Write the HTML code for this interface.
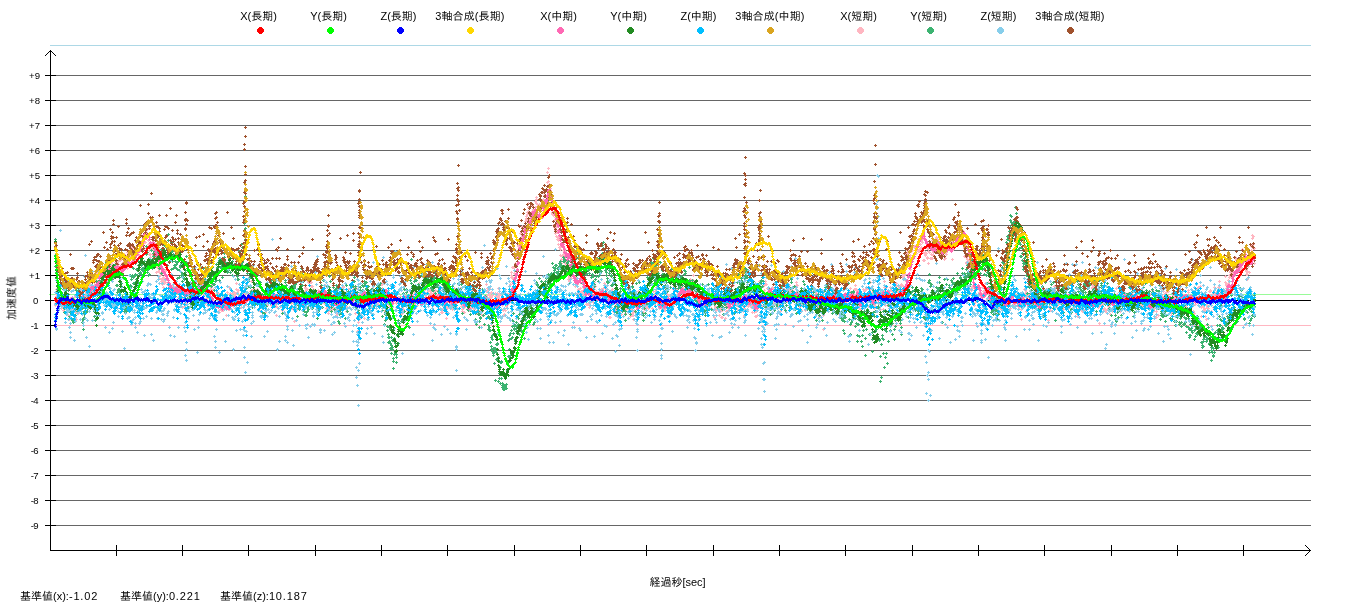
<!DOCTYPE html>
<html lang="ja"><head><meta charset="utf-8"><title>加速度値</title>
<style>
html,body{margin:0;padding:0;background:#fff}
svg{display:block}
text{font-family:"Liberation Sans","IPAGothic","Noto Sans CJK JP",sans-serif;fill:#000}
.lg{font-size:11px;text-anchor:middle}
.yt{font-size:9.6px;text-anchor:end}
.ax{font-size:11px;text-anchor:middle}
.bt{font-size:11px}
.nm{letter-spacing:.85px}
.g line{stroke:#666;stroke-width:1;shape-rendering:crispEdges}
.a line,.a polyline{stroke:#000;stroke-width:1;fill:none;shape-rendering:crispEdges}
.d path{fill:none;stroke:none}
</style></head><body>
<svg width="1350" height="610" viewBox="0 0 1350 610">
<rect width="1350" height="610" fill="#fff"/>
<defs>
<marker id="mxs" markerUnits="userSpaceOnUse" markerWidth="3" markerHeight="3" refX="1.5" refY="1.5" viewBox="0 0 3 3"><path d="M1,0h1v1h1v1h-1v1h-1v-1h-1v-1h1z" fill="#FFB6C1" shape-rendering="crispEdges"/></marker>
<marker id="mys" markerUnits="userSpaceOnUse" markerWidth="3" markerHeight="3" refX="1.5" refY="1.5" viewBox="0 0 3 3"><path d="M1,0h1v1h1v1h-1v1h-1v-1h-1v-1h1z" fill="#3CB371" shape-rendering="crispEdges"/></marker>
<marker id="mzs" markerUnits="userSpaceOnUse" markerWidth="3" markerHeight="3" refX="1.5" refY="1.5" viewBox="0 0 3 3"><path d="M1,0h1v1h1v1h-1v1h-1v-1h-1v-1h1z" fill="#87CEEB" shape-rendering="crispEdges"/></marker>
<marker id="mms" markerUnits="userSpaceOnUse" markerWidth="3" markerHeight="3" refX="1.5" refY="1.5" viewBox="0 0 3 3"><path d="M1,0h1v1h1v1h-1v1h-1v-1h-1v-1h1z" fill="#A0522D" shape-rendering="crispEdges"/></marker>
<marker id="mxm" markerUnits="userSpaceOnUse" markerWidth="3" markerHeight="3" refX="1.5" refY="1.5" viewBox="0 0 3 3"><path d="M1,0h1v1h1v1h-1v1h-1v-1h-1v-1h1z" fill="#FF69B4" shape-rendering="crispEdges"/></marker>
<marker id="mym" markerUnits="userSpaceOnUse" markerWidth="3" markerHeight="3" refX="1.5" refY="1.5" viewBox="0 0 3 3"><path d="M1,0h1v1h1v1h-1v1h-1v-1h-1v-1h1z" fill="#228B22" shape-rendering="crispEdges"/></marker>
<marker id="mzm" markerUnits="userSpaceOnUse" markerWidth="3" markerHeight="3" refX="1.5" refY="1.5" viewBox="0 0 3 3"><path d="M1,0h1v1h1v1h-1v1h-1v-1h-1v-1h1z" fill="#00BFFF" shape-rendering="crispEdges"/></marker>
<marker id="mmm" markerUnits="userSpaceOnUse" markerWidth="3" markerHeight="3" refX="1.5" refY="1.5" viewBox="0 0 3 3"><path d="M1,0h1v1h1v1h-1v1h-1v-1h-1v-1h1z" fill="#DAA520" shape-rendering="crispEdges"/></marker>
<marker id="mxl" markerUnits="userSpaceOnUse" markerWidth="3" markerHeight="3" refX="1.5" refY="1.5" viewBox="0 0 3 3"><path d="M1,0h1v1h1v1h-1v1h-1v-1h-1v-1h1z" fill="#FF0000" shape-rendering="crispEdges"/></marker>
<marker id="myl" markerUnits="userSpaceOnUse" markerWidth="3" markerHeight="3" refX="1.5" refY="1.5" viewBox="0 0 3 3"><path d="M1,0h1v1h1v1h-1v1h-1v-1h-1v-1h1z" fill="#00FF00" shape-rendering="crispEdges"/></marker>
<marker id="mzl" markerUnits="userSpaceOnUse" markerWidth="3" markerHeight="3" refX="1.5" refY="1.5" viewBox="0 0 3 3"><path d="M1,0h1v1h1v1h-1v1h-1v-1h-1v-1h1z" fill="#0000FF" shape-rendering="crispEdges"/></marker>
<marker id="mml" markerUnits="userSpaceOnUse" markerWidth="3" markerHeight="3" refX="1.5" refY="1.5" viewBox="0 0 3 3"><path d="M1,0h1v1h1v1h-1v1h-1v-1h-1v-1h1z" fill="#FFD700" shape-rendering="crispEdges"/></marker>
</defs>
<path d="M259,27h3v1h1v1h1v3h-1v1h-1v1h-3v-1h-1v-1h-1v-3h1v-1h1z" fill="#FF0000" shape-rendering="crispEdges"/>
<path d="M329,27h3v1h1v1h1v3h-1v1h-1v1h-3v-1h-1v-1h-1v-3h1v-1h1z" fill="#00FF00" shape-rendering="crispEdges"/>
<path d="M399,27h3v1h1v1h1v3h-1v1h-1v1h-3v-1h-1v-1h-1v-3h1v-1h1z" fill="#0000FF" shape-rendering="crispEdges"/>
<path d="M469,27h3v1h1v1h1v3h-1v1h-1v1h-3v-1h-1v-1h-1v-3h1v-1h1z" fill="#FFD700" shape-rendering="crispEdges"/>
<path d="M559,27h3v1h1v1h1v3h-1v1h-1v1h-3v-1h-1v-1h-1v-3h1v-1h1z" fill="#FF69B4" shape-rendering="crispEdges"/>
<path d="M629,27h3v1h1v1h1v3h-1v1h-1v1h-3v-1h-1v-1h-1v-3h1v-1h1z" fill="#228B22" shape-rendering="crispEdges"/>
<path d="M699,27h3v1h1v1h1v3h-1v1h-1v1h-3v-1h-1v-1h-1v-3h1v-1h1z" fill="#00BFFF" shape-rendering="crispEdges"/>
<path d="M769,27h3v1h1v1h1v3h-1v1h-1v1h-3v-1h-1v-1h-1v-3h1v-1h1z" fill="#DAA520" shape-rendering="crispEdges"/>
<path d="M859,27h3v1h1v1h1v3h-1v1h-1v1h-3v-1h-1v-1h-1v-3h1v-1h1z" fill="#FFB6C1" shape-rendering="crispEdges"/>
<path d="M929,27h3v1h1v1h1v3h-1v1h-1v1h-3v-1h-1v-1h-1v-3h1v-1h1z" fill="#3CB371" shape-rendering="crispEdges"/>
<path d="M999,27h3v1h1v1h1v3h-1v1h-1v1h-3v-1h-1v-1h-1v-3h1v-1h1z" fill="#87CEEB" shape-rendering="crispEdges"/>
<path d="M1069,27h3v1h1v1h1v3h-1v1h-1v1h-3v-1h-1v-1h-1v-3h1v-1h1z" fill="#A0522D" shape-rendering="crispEdges"/>
<g class="g"><line x1="56" y1="525.5" x2="1311" y2="525.5"/><line x1="56" y1="500.5" x2="1311" y2="500.5"/><line x1="56" y1="475.5" x2="1311" y2="475.5"/><line x1="56" y1="450.5" x2="1311" y2="450.5"/><line x1="56" y1="425.5" x2="1311" y2="425.5"/><line x1="56" y1="400.5" x2="1311" y2="400.5"/><line x1="56" y1="375.5" x2="1311" y2="375.5"/><line x1="56" y1="350.5" x2="1311" y2="350.5"/><line x1="56" y1="325.5" x2="1311" y2="325.5"/><line x1="50" y1="300.5" x2="1311" y2="300.5" style="stroke:#000"/><line x1="56" y1="275.5" x2="1311" y2="275.5"/><line x1="56" y1="250.5" x2="1311" y2="250.5"/><line x1="56" y1="225.5" x2="1311" y2="225.5"/><line x1="56" y1="200.5" x2="1311" y2="200.5"/><line x1="56" y1="175.5" x2="1311" y2="175.5"/><line x1="56" y1="150.5" x2="1311" y2="150.5"/><line x1="56" y1="125.5" x2="1311" y2="125.5"/><line x1="56" y1="100.5" x2="1311" y2="100.5"/><line x1="56" y1="75.5" x2="1311" y2="75.5"/></g>
<g shape-rendering="crispEdges"><line x1="50" y1="45.5" x2="1311" y2="45.5" stroke="#ADD8E6"/><line x1="49" y1="294.5" x2="1311" y2="294.5" stroke="#98FB98"/><line x1="49" y1="325.5" x2="1311" y2="325.5" stroke="#FFB6C1"/></g>
<g class="a"><line x1="50.5" y1="50" x2="50.5" y2="551"/><rect x="49" y="51" width="1" height="1"/><rect x="51" y="51" width="1" height="1"/><rect x="48" y="52" width="1" height="1"/><rect x="52" y="52" width="1" height="1"/><rect x="47" y="53" width="1" height="1"/><rect x="53" y="53" width="1" height="1"/><rect x="46" y="54" width="1" height="1"/><rect x="54" y="54" width="1" height="1"/><rect x="45" y="55" width="1" height="1"/><rect x="55" y="55" width="1" height="1"/><line x1="50" y1="550.5" x2="1311" y2="550.5"/><rect x="1309" y="549" width="1" height="1"/><rect x="1309" y="551" width="1" height="1"/><rect x="1308" y="548" width="1" height="1"/><rect x="1308" y="552" width="1" height="1"/><rect x="1307" y="547" width="1" height="1"/><rect x="1307" y="553" width="1" height="1"/><rect x="1306" y="546" width="1" height="1"/><rect x="1306" y="554" width="1" height="1"/><rect x="1305" y="545" width="1" height="1"/><rect x="1305" y="555" width="1" height="1"/><line x1="45" y1="525.5" x2="56" y2="525.5"/><line x1="45" y1="500.5" x2="56" y2="500.5"/><line x1="45" y1="475.5" x2="56" y2="475.5"/><line x1="45" y1="450.5" x2="56" y2="450.5"/><line x1="45" y1="425.5" x2="56" y2="425.5"/><line x1="45" y1="400.5" x2="56" y2="400.5"/><line x1="45" y1="375.5" x2="56" y2="375.5"/><line x1="45" y1="350.5" x2="56" y2="350.5"/><line x1="45" y1="325.5" x2="56" y2="325.5"/><line x1="45" y1="300.5" x2="56" y2="300.5"/><line x1="45" y1="275.5" x2="56" y2="275.5"/><line x1="45" y1="250.5" x2="56" y2="250.5"/><line x1="45" y1="225.5" x2="56" y2="225.5"/><line x1="45" y1="200.5" x2="56" y2="200.5"/><line x1="45" y1="175.5" x2="56" y2="175.5"/><line x1="45" y1="150.5" x2="56" y2="150.5"/><line x1="45" y1="125.5" x2="56" y2="125.5"/><line x1="45" y1="100.5" x2="56" y2="100.5"/><line x1="45" y1="75.5" x2="56" y2="75.5"/><line x1="116.5" y1="545" x2="116.5" y2="556"/><line x1="182.5" y1="545" x2="182.5" y2="556"/><line x1="248.5" y1="545" x2="248.5" y2="556"/><line x1="315.5" y1="545" x2="315.5" y2="556"/><line x1="381.5" y1="545" x2="381.5" y2="556"/><line x1="447.5" y1="545" x2="447.5" y2="556"/><line x1="514.5" y1="545" x2="514.5" y2="556"/><line x1="580.5" y1="545" x2="580.5" y2="556"/><line x1="646.5" y1="545" x2="646.5" y2="556"/><line x1="713.5" y1="545" x2="713.5" y2="556"/><line x1="779.5" y1="545" x2="779.5" y2="556"/><line x1="845.5" y1="545" x2="845.5" y2="556"/><line x1="912.5" y1="545" x2="912.5" y2="556"/><line x1="978.5" y1="545" x2="978.5" y2="556"/><line x1="1044.5" y1="545" x2="1044.5" y2="556"/><line x1="1111.5" y1="545" x2="1111.5" y2="556"/><line x1="1177.5" y1="545" x2="1177.5" y2="556"/><line x1="1243.5" y1="545" x2="1243.5" y2="556"/></g>
<g class="d" transform="translate(0.5,0.5)">
<path marker-start="url(#mxs)" marker-mid="url(#mxs)" marker-end="url(#mxs)" d="M55 303l0 2 1-11 0-5 0 7 1 9 0-2 1 1 0 2 1-8 0 4 0-3 1 2 0-4 0 5 1-2 0-8 0 16 1-1 0-11 0 4 1 8 0 2 0-12 1 8 0-9 0 3 1-1 0 1 0 3 1 2 0-10 1 4 0-1 0 9 1 0 0 8 0-6 1 1 0 9 1-4 0-10 0-7 1 5 0-2 1 2 0-5 0 11 1-8 0 3 0 6 1-8 0-3 0-2 1 15 0-2 0-4 1 13 0-12 0-5 1-8 0 9 0 9 1-9 0-3 0 13 1-13 0-9 0 5 1 2 0 4 1-14 0 9 0-6 1-4 0 2 1 0 0 12 1-2 0-4 0-7 1 13 0-11 0 1 1 5 0-3 0 4 1-11 0-5 0 11 1-2 0-4 0-1 1 8 0-7 0 4 1-8 0 3 0 11 1-6 0-4 1 11 0 3 0-6 1-2 0-1 0 5 1-14 0-1 0 4 1-10 0 1 0 3 1-6 0 4 0-5 1 9 0-6 0 8 1-9 0-3 0-2 1 11 0 4 0-12 1 0 0 9 1-5 0-5 0 9 1 1 0-4 1-4 0 2 0-1 1-6 0 6 0-1 1-9 0 9 1-1 0 1 0-8 1 16 0-10 0 2 1 5 0-7 0-3 1-5 0 3 0 5 1-12 0 7 0-4 1 2 0-1 0-1 1 8 0-12 1 2 0 5 0 13 1-6 0-3 1-4 0-3 1 8 0 2 0-3 1-7 0-1 0 7 1-4 0-3 1 8 0 6 0-8 1 0 0 4 0-11 1-2 0 7 0 9 1-11 0 14 0-8 1-5 0 5 0-7 1 1 0-4 0-5 1 2 0 3 1 1 0-4 0 7 1-3 0 8 0-16 1 7 0-1 1 8 0-6 0 3 1-4 0-5 0 3 1-1 0-8 0-1 1-1 0 2 0-4 1 7 0 5 1 1 0-6 0 2 1 7 0-12 0 3 1-4 0 2 1 5 0-5 0 3 1-1 0-1 0 2 1 4 0-1 0-13 1 7 0-14 0-1 1 7 0 2 1 2 0-2 0 7 1-10 0 3 0-1 1-6 0 2 0 10 1-6 0-10 1 5 0-2 0-3 1-3 0 8 1-1 0 8 0-4 1 8 0 6 0-4 1 7 0-11 0 8 1-6 0-2 0 3 1-2 0-5 0 12 1-8 0-9 0 12 1-3 0 3 0-6 1-5 0 20 0 1 1-4 0-3 0 20 1-7 0 1 0 1 1-6 0 10 0-4 1 11 0-9 0 3 1-11 0 6 0 8 1-1 0 5 0 2 1-2 0-1 0 6 1 3 0-10 0 3 1 2 0-4 0 5 1-3 0-10 0 12 1-12 0 6 0 2 1 6 0-5 1 12 0-3 0 2 1-4 0 3 0 1 1 5 0-8 0 4 1 0 0 6 0-11 1 3 0 4 0-8 1 5 0-6 0 8 1-10 0 5 0 9 1-9 0 15 0-12 1-7 0 7 0-2 1-1 0 3 0-2 1 12 0-3 0-4 1-2 0 8 0 1 1 3 0-4 0-1 1 5 0-1 0-6 1 11 0-8 0 4 1-14 0 5 1 12 0-3 0-5 1-5 0-1 0-1 1 1 0 10 0-1 1 1 0-10 1 1 0 3 1-3 0-10 0 6 1 6 0-3 0 7 1-16 0 10 0-7 1 8 0-9 1 4 0 6 0-13 1 9 0 1 1-4 0-5 0 2 1-3 0 8 0-4 1 3 0-4 0 1 1 0 0-4 0-2 1-1 0 8 0-7 1 6 0-4 0 3 1 7 0 2 0-6 1 3 0-1 1-6 0 4 0 4 1 2 0 1 0-3 1 11 0-4 1-5 0 7 0-3 1 0 0 7 1-8 0-6 0 18 1-9 0 2 0-6 1 3 0-7 0-3 1-2 0 11 0-8 1-6 0 1 0 11 1 4 0-11 0 14 1 0 0-1 0 5 1 4 0-8 0 1 1-1 0-5 1-5 0 9 1-8 0 8 0-9 1 17 0-5 0 7 1-15 0 5 0 1 1 5 0 1 0 1 1 0 0-5 0 1 1-9 0 13 0-3 1-2 0-6 0 5 1 4 0-6 0 1 1 12 0-15 0 4 1 1 0-1 0-12 1 13 0 4 1 0 0-15 0-7 1 6 0 1 0-5 1 12 0-3 0-3 1 2 0-4 0 9 1 4 0-10 0 4 1-8 0 3 0 10 1-11 0 5 0 9 1-25 0 6 0 9 1 1 0-7 1-2 0 13 0 6 1-7 0-7 0 1 1 4 0 1 0-6 1-2 0-4 0 18 1-4 0-5 1 1 0-5 0 8 1 8 0-18 0 10 1 2 0-8 0 1 1 7 0-11 0 7 1-4 0 2 0-4 1 0 0 5 0-2 1-11 0 10 0 2 1-7 0 4 0-1 1-4 0-9 0 10 1 9 0 3 1-7 0-7 0 9 1 7 0-16 0 7 1 3 0-9 0 4 1-1 0 3 0 4 1-3 0-8 0 6 1 0 0 8 0-23 1 15 0-3 0-7 1 12 0 14 0-12 1 12 0-5 0-3 1-7 0-1 1 9 0-1 0-5 1 0 0 4 0-2 1 6 0-2 0 8 1-8 0 5 0-11 1 7 0-1 0-3 1-5 0 1 0 6 1-5 0-2 0-4 1-1 0 1 0 5 1 1 0 7 0-12 1 12 0-2 0-6 1-1 0 1 0-6 1-2 0 1 0 13 1-6 0 9 0-2 1-6 0 6 0 11 1-8 0-13 0 4 1 3 0-9 0 3 1 1 0-8 0-1 1 15 0-1 0-3 1 8 0-6 1 5 0 5 0-16 1 14 0-1 0-7 1 6 0-6 0 2 1-2 0-8 0-5 1 8 0 2 0-4 1 1 0 1 0 2 1-2 0 2 1 0 0-7 0 5 1 2 0-9 1 12 0 3 0 5 1-6 0 5 0-6 1-2 0 10 0-7 1 2 0 17 0-11 1-6 0 2 0-1 1-2 0 5 0-8 1 3 0 6 1-13 0-4 0 5 1-5 0 4 0-1 1-5 0 6 0-1 1 0 0 10 0-7 1 12 0-5 0-10 1 1 0 6 1-2 0 2 0-6 1-8 0-1 0 4 1-2 0 4 0-15 1 1 0 1 0 9 1-12 0 19 0-14 1 1 0 8 0-6 1 7 0-3 1-3 0-4 0-3 1 17 0-10 0 5 1-2 0 11 0 4 1-2 0-12 0 13 1-10 0 6 0-2 1 8 0-6 1 6 0-4 0-1 1 2 0-8 0-4 1 1 0 3 0-2 1 5 0-6 1 3 0 1 1-1 0-1 0 7 1-9 0 6 0 1 1 2 0-8 0 11 1-12 0-6 0 12 1 4 0 7 0-10 1 3 0 7 0-2 1 7 0-13 0 11 1-6 0-3 0-2 1 4 0 3 1 2 0 1 0 4 1-9 0 4 0-7 1-3 0 8 0-5 1 0 0 1 0-8 1 8 0-4 0 9 1-8 0 11 0 4 1-2 0-3 0-5 1 4 0-13 0 6 1-6 0 9 0-4 1 6 0-6 1 4 0-6 0-3 1-2 0-3 0-4 1 0 0-1 0 11 1 6 0-11 0 8 1-5 0 3 1 8 0 5 0-11 1-2 0-4 1-2 0 1 0-4 1 4 0 5 1-2 0 6 0 6 1-7 0-1 0-5 1 7 0-8 0-2 1 7 0-9 0-3 1 11 0-6 0 7 1-6 0 20 0-14 1-11 0 8 1 9 0 27 0-1 1-1 0-15 0 7 1-28 0 24 0 1 1-13 0-3 1-8 0 6 0-2 1-4 0 7 0-5 1 6 0-4 1 19 0-15 0 1 1-1 0 5 0-16 1 12 0-5 1-3 0 7 0-2 1-6 0 5 0 2 1-8 0 15 0-14 1-5 0 7 1 3 0-4 0-2 1 7 0 4 0-17 1 18 0-13 0 4 1 0 0-7 0 6 1-1 0-3 0 4 1 9 0-9 0-8 1 14 0-7 0 6 1 3 0-13 0 5 1-1 0-2 1-3 0-1 1 10 0-9 0-6 1 0 0 4 0-6 1 1 0-3 0 13 1-3 0 10 0-1 1 11 0 1 0-13 1 16 0-12 0 2 1-1 0-2 0-2 1-1 0 5 0-2 1 3 0-3 0 4 1-1 0 3 0-2 1-7 0 3 0 6 1 2 0-2 0-4 1-16 0 10 0 6 1-11 0 5 0-11 1 6 0 2 0 5 1 3 0 5 0-4 1-10 0 1 0 4 1-1 0 1 0 8 1-4 0-1 1 2 0-7 0 6 1 9 0 3 1-1 0-6 0-9 1 11 0 3 0-7 1-6 0-3 0 7 1-7 0 6 0-3 1 5 0-1 1 7 0 8 0-21 1 12 0-1 0-8 1-2 0 4 0 9 1-6 0 7 0-4 1-12 0 11 0 1 1-6 0-8 1 6 0-4 0 12 1-21 0 17 0-12 1 16 0-5 0-3 1-4 0-3 0 2 1 10 0-12 0 1 1 1 0-9 0 13 1-16 0 10 0 5 1-4 0-2 0 7 1-7 0-1 0 4 1-4 0 5 0-4 1 6 0-5 0-1 1-2 0 3 0 6 1-4 0 4 0-14 1 12 0-12 0 2 1 6 0-1 1-1 0 7 1-16 0 7 0 1 1-6 0 9 0 1 1 5 0-2 0-6 1 3 0 6 0-1 1 6 0-3 0-11 1 2 0 2 1-5 0 4 1 8 0-8 1 1 0 4 0-8 1 5 0 8 1-10 0-2 0-1 1 5 0-6 0 18 1-4 0 8 0-3 1 3 0-3 0-11 1 4 0-9 0 5 1-2 0-2 0 12 1 1 0-5 0 6 1 4 0-17 0 23 1-10 0-2 0 1 1-6 0-4 1-2 0 1 0-4 1 8 0-7 0 8 1-10 0 12 1 6 0-7 1-1 0-3 0-2 1 6 0 3 0-17 1 13 0-2 0 4 1-5 0 2 1 2 0 7 0-1 1-12 0 1 0 2 1-4 0-5 0 11 1-10 0-3 0 5 1 11 0-3 0 5 1 5 0-2 0-3 1-1 0-3 0 6 1 4 0-5 0-9 1 5 0-2 0 4 1 0 0-2 0-2 1-1 0-8 0 2 1 3 0 13 0-5 1 0 0 5 0-7 1 3 0-1 0-2 1 4 0-6 0 4 1-4 0-2 0-9 1 18 0-13 0 8 1 5 0-4 1-10 1 0 0 13 0 6 1-9 0 6 0 3 1-11 0-6 0 1 1 7 0-13 0 3 1 16 0-6 0 4 1 6 0-9 0-2 1 8 0 4 0-11 1-1 0 3 0-2 1-8 0 5 0 4 1 1 0-8 0-2 1-5 0-7 0 12 1-6 0-2 0 7 1 3 0 5 0-2 1-13 0 6 0-1 1 3 0 9 0-8 1 0 0 4 0-9 1 3 0 11 0-5 1 4 0-3 0 13 1-14 0 1 0 5 1-14 0 3 1-2 0 1 0 2 1 0 0-4 0 7 1 0 0-12 0 8 1-5 0 7 0-4 1 5 0 2 0-1 1-1 0 4 0-8 1 6 0 4 0-2 1 0 0-1 0 8 1 5 0-1 1-16 0 12 0-17 1 4 0-3 0 12 1-6 0-6 0 10 1-10 0 5 0 2 1-8 0 5 0-4 1-4 0 6 0-12 1-7 0-2 0-3 1 5 0 5 0-15 1 14 0-14 0 12 1-12 0-12 0 18 1-17 0 8 0-1 1-5 0-2 0-5 1 0 0 2 0 2 1 2 0-11 0-1 1 3 0-5 0-3 1-7 0 6 0-1 1-4 0-1 0 4 1 0 0-11 0 1 1 0 0 1 0 2 1-3 0 3 1-4 0-5 1-2 0-3 0 2 1 2 0-6 0-2 1-9 0 8 0-4 1 0 0 19 1-10 0 3 0 1 1 7 0-10 0-5 1-7 0 6 1 4 0-5 0-1 1 7 0-1 0-4 1-10 0 6 0 3 1-7 0-4 0-2 1 7 0 2 1-1 0 4 1-5 0 8 0 5 1-6 0-6 1 5 0 6 0-8 1-6 0-2 1-9 0 8 0-7 1 3 0 5 1 3 0-8 0 7 1-5 0-1 1 2 0-16 0-10 1 5 0-9 0 13 1 11 0-8 1 6 0-2 0 9 1 9 0-3 0 1 1 8 0 1 0 1 1 1 0 10 1-5 0 6 0 1 1-10 0 16 0-3 1-3 0-1 0 10 1-4 0 7 1-2 0 3 0 4 1 3 0-8 0-1 1 9 0 2 0 6 1 8 0-4 1-3 0 10 0-11 1-1 0 1 0-5 1 4 0-6 0 10 1-1 0-6 0 12 1 1 0-3 0 4 1-1 0-3 0 10 1-7 0 11 0 4 1-13 0 15 0-4 1-6 0 3 0-6 1 8 0 2 1-3 0-7 0 3 1-8 0 2 0 3 1-4 0 14 0-7 1 6 0 3 0 6 1-8 0-8 0 11 1 3 0 10 0-11 1 7 0 5 0-6 1 5 0 5 1-3 0-8 0 9 1-6 0 3 0-2 1 5 0-1 0 4 1-7 0-3 0-3 1 2 0-4 0 11 1-2 0 3 0 4 1-4 0 7 1-12 0 1 0 11 1-15 0 5 0 10 1 3 0-7 1 2 0-2 0-5 1-5 0-7 0 10 1-3 0-5 0 2 1 15 0-15 0-6 1 4 0-3 0 7 1-3 0 11 1-2 0 9 0-13 1 5 0-3 0 2 1-1 0-2 0 6 1 1 0-7 1 4 0 4 0-7 1-3 0-1 0 6 1 1 0-5 0-1 1 4 0-6 0 5 1-6 0-4 0 12 1-10 0 2 0 5 1-3 0-3 0 2 1 10 0 2 0-7 1 9 0 4 1 0 0 7 0 4 1 0 0-13 0 4 1-1 0-2 0-15 1-1 0 10 0-3 1 3 0 12 1-10 0 2 1 7 0-11 0 2 1 6 0-1 0 6 1-13 0 3 0-4 1 0 0-4 0-1 1 1 0 10 0 7 1 3 0-9 0 2 1-9 0 7 0 9 1-9 0 4 0-7 1 6 0-8 1 2 0 4 0-7 1 8 0 6 0-2 1-3 0-1 0 2 1-3 0 1 1 1 0-2 0-5 1 7 0 1 0 1 1-3 0 9 0-2 1-6 0 6 0-9 1 6 0 2 0 2 1 4 0-7 0 3 1-4 0-1 0-7 1 3 0-3 0 9 1-5 0-6 1 0 0-6 0 5 1-6 0-3 0 4 1 5 0-2 1 5 0 2 0-3 1-1 0-8 1-3 0 12 0 10 1-6 0 1 0 5 1-9 0 2 0 4 1-1 0-9 1 4 0 1 0 2 1-2 0-6 0-2 1 12 0-1 0-1 1-3 0-3 0-3 1 4 0 10 0-17 1 6 0 4 0-3 1-1 0-3 0 11 1-17 0 10 0-6 1 3 0 6 0-5 1-6 0-2 1 3 0-7 0-4 1 5 0 14 0-9 1 5 0-5 0 11 1 4 0-5 0-9 1 3 0 1 0-9 1 15 0 3 1-7 0 5 0 4 1-10 0 5 0-6 1 2 0 10 0-5 1 2 0 3 0-22 1 9 0 2 0-8 1 9 0-1 0-5 1 7 0-5 1 7 0-8 0 4 1 3 0-1 0 13 1-1 0-1 0-4 1-7 0-4 0 1 1-2 0-7 0 13 1-3 0-13 0 15 1-3 0-1 0-8 1 2 0 6 0 4 1-12 0 5 0 3 1-12 0 10 0-2 1-9 0 11 0-15 1 2 0 18 0-9 1-6 0 2 0-1 1 11 0-15 0 11 1 0 0 1 0-6 1 8 0-1 0 6 1 0 0-9 0 6 1 0 0-12 0 4 1-3 0-4 0 3 1-4 0 1 0 6 1-5 0-1 1-4 0 5 0-3 1 3 0 6 0-10 1 1 0-1 1 0 0 5 0-10 1 10 0 1 1 5 0-1 0-8 1 21 0 1 0-6 1-6 0 10 0-5 1 9 1 12 0-4 0-4 1-5 0-5 0 3 1-7 0 8 0-9 1-1 0 5 0 6 1-9 0-3 0 5 1 4 0-5 0-3 1 10 0 6 0-10 1-8 0 7 0-2 1 3 0 3 0-10 1-3 0 7 0 4 1 3 0-11 0 13 1-1 0-2 0-3 1 4 0 4 0-7 1-2 0-7 0 4 1-5 0 11 0-1 1-1 0 1 0 16 1-11 0 1 1 1 0 2 0-9 1-7 0 15 0-7 1-4 0-2 0 14 1-7 0 12 0-14 1 10 0-3 0 2 1 7 0-18 0 7 1 4 0 7 0-19 1 11 0-6 0-6 1 0 0 7 0-1 1-2 0 2 0 15 1-12 0 5 1 3 0-7 0-2 1-1 0 6 0-3 1-6 0-12 0 14 1-6 0 2 0-6 1 15 0-1 0-13 1 1 0 2 0-1 1-3 0-8 0 21 1-7 0-7 0 8 1-4 0 3 0 2 1-2 0 6 0-3 1-6 0 13 0-7 1 2 0 2 0-7 1 1 0 4 1 5 0-9 0-3 1 9 0-20 0 13 1 2 0-3 1 8 0 5 1 5 0-1 0-7 1-8 0 11 0-13 1 7 0-8 0-8 1 10 0 11 0-18 1 14 0-14 0 2 1-2 0 8 1 3 0-7 0 9 1-4 0-1 0 7 1 5 0-10 1-1 0-4 0 8 1 7 0-3 1 7 0-7 1 7 0-11 0 6 1 4 0-15 0 2 1-8 0-5 0 9 1-9 0-8 0 5 1 11 0-1 0 2 1 0 0 7 0-6 1 7 0-15 0 6 1-3 0-8 0 5 1 5 0-6 0-5 1 8 0-12 0 3 1 0 0 10 0 2 1-8 0 10 0 6 1 2 0 2 0-4 1 5 0-5 1-13 0 6 0 1 1 2 0-1 0-5 1 11 0-18 0 10 1-9 0 14 0 4 1-3 0-8 0-3 1-1 0-7 0 14 1 7 0-2 0 4 1-5 0 1 1-3 0-2 0 7 1-10 0 12 0-8 1 12 0-11 0-1 1-4 0 10 0-4 1 1 0-9 0 8 1-1 0 1 1-12 0 4 1-8 0 8 0-2 1 10 0-3 0-9 1 5 0 3 0 4 1-7 0-2 0-3 1 1 0 2 0-7 1 7 0-1 0 16 1-14 0 1 0 2 1-8 0 7 0-5 1 2 0 2 0 7 1-5 0-3 0 2 1-8 0 9 0 1 1-12 0-3 0 5 1-2 0 6 0-1 1 1 0 4 1 2 0 7 0 4 1-12 0 15 0-5 1-4 0 8 0-7 1-9 0 2 0 6 1-3 0-5 1 10 0 1 0-6 1-1 0 12 1-6 0 4 0-2 1-4 0 12 0-9 1-4 0 1 0-14 1 4 0 10 0-11 1 5 0-6 0 7 1-6 0-2 0 14 1-5 0 2 0 3 1-1 0 4 1-2 0 1 0-5 1-1 0-2 1-2 0-2 0 6 1 5 0 4 0-3 1 1 0-12 0 16 1 6 0-9 0 2 1-5 0 1 0-5 1-4 0 3 0 7 1-5 0 8 1 20 0-14 0-5 1-2 0-1 0-2 1-1 0-10 0 8 1-2 0-5 0-8 1 4 0 10 0-8 1 0 0-6 0 16 1-11 0 7 0 8 1-18 0 5 0 5 1 8 0-9 0 2 1 2 0 1 0 1 1-7 0-1 0 8 1-5 0 3 0-8 1 3 0-11 1 5 0 5 0 5 1 4 0-12 0 16 1-5 0 8 0-4 1 6 0-15 0-1 1 2 0-5 0-2 1 13 0-12 0 9 1 0 0-2 1 6 0 2 1 0 0-3 0 4 1-9 0-8 0 9 1 1 0-5 0-3 1-12 0-2 0 1 1 8 0 2 0 3 1-2 0-2 0 4 1 5 0-8 0-4 1 10 0-6 1 5 0 5 0-1 1-9 0-1 0 6 1-3 0-5 1-4 0 4 0 14 1-14 0 7 1 5 0 1 0-11 1 6 0-5 0-2 1 15 0-3 0 6 1 1 0-10 0 12 1-5 0-8 0 4 1 4 0-8 1-9 0 14 0-7 1-5 0 2 1-4 0 6 1-6 0-1 0 7 1-1 0 2 0 6 1 4 0-19 1 2 0 5 0-7 1-5 0 7 0 10 1 2 0-6 0 2 1-5 0 13 1-7 0-8 0 10 1-2 0 6 0 4 1-16 0 11 0 3 1-7 0-3 1 3 0-3 1-1 0 4 0 1 1-2 0 10 0-5 1-4 0 10 1-7 0-7 0 9 1-1 0-12 0 7 1 1 0-6 0 16 1-22 0-6 0 9 1 11 0 4 0-10 1-8 0 12 0 1 1-3 0 8 1 6 0-7 0 1 1-2 0 8 0-13 1-8 0 7 0-10 1 10 0 10 1-13 0 2 0-5 1 11 0-4 0-6 1 8 0 7 1-17 0 9 1-13 0-3 0 2 1 5 0-1 0 10 1-7 0 6 1-11 0 6 0-5 1 7 0 5 0-10 1 0 0-6 0 1 1-9 0 9 0-13 1 6 0-4 0 12 1-11 0 3 0-7 1 9 0-6 1-10 0-6 0-4 1 2 0-6 0 3 1 8 0-4 0 2 1-3 0 1 0 1 1-3 0 14 0-19 1-2 0 3 1-6 0 5 0-3 1-5 0-5 0 9 1 0 0 1 0-8 1 8 0 1 0-2 1 5 0 2 0-8 1 0 0 5 0-6 1-5 0 11 0 1 1-11 0 11 0-8 1 1 0 4 0 1 1-9 0-5 0 12 1-8 0-2 0 5 1 8 0 2 0 8 1-7 0 7 1-7 0 2 0-3 1-6 0 7 0-12 1 7 0 9 0 1 1-10 0 3 0 12 1-11 0-7 1 13 0-10 0-2 1 8 0-6 0 10 1-18 0 8 0 10 1-7 0 1 0 3 1-11 0 3 0 1 1-4 0 8 0-4 1-10 0-1 1 3 0-1 0 6 1 4 0 4 0-9 1-2 0 10 0-7 1 4 0 4 0-10 1 5 0-2 1 2 0 7 0-2 1 2 0-5 0-2 1-4 0 5 0 10 1-1 0-6 0-7 1 9 0-5 0 3 1-5 0 3 0-6 1 3 0-6 0 7 1-7 0 1 0-2 1 3 0-5 0 2 1 4 0-3 0 10 1-9 0 17 0-9 1-4 0 3 0-6 1 3 0-9 0-2 1 10 0 1 0-8 1 6 0-6 0-2 1 9 0-10 0 1 1-5 0 6 1-3 0 9 0-4 1-9 0 6 1 0 0 3 0 3 1-12 0 6 0 3 1-8 0 8 1 9 0 8 0-9 1-2 0 11 0-3 1 10 0-1 0-5 1 2 0 5 0 1 1-5 0 1 0 3 1 1 0-2 0 11 1-5 0 8 0 1 1 12 0-2 1 6 0-8 0 1 1 0 0 7 0 6 1 5 0-15 0 6 1 6 0-6 0-9 1 10 0 2 0-5 1 4 0 2 0-5 1 11 0 5 0-6 1-13 0 3 0 15 1-14 0 12 0-10 1-4 0 6 0-7 1 10 0-16 0-2 1 6 0 9 0-4 1-1 0-3 0-2 1 5 0-4 0-8 1 5 0 4 0 8 1-8 0 11 0-5 1-16 0 7 0-2 1 12 0-4 0-1 1-7 0 4 0 2 1 5 0 4 0-6 1 11 0-1 0-7 1 2 0 2 0-6 1 13 0-10 0 2 1-4 0 9 0 6 1-8 0 9 0-4 1 3 0-10 0 2 1 9 0-7 0 1 1 3 0-11 0 4 1-7 0 8 0 2 1 1 0 1 0-3 1-3 0-5 0-2 1 1 0 9 0-5 1-1 0-11 0 8 1 8 0-5 0-1 1-10 0 8 1 7 0-3 1 4 0-7 0 6 1-5 0-2 0-4 1 12 0 3 0-10 1 1 0-2 0-3 1 2 0 5 0-4 1-1 0-1 0 10 1-11 0 9 1 0 0-1 0-10 1 5 1 4 0-6 0 8 1 1 0-6 0 7 1-4 0-2 0 8 1-11 0 5 0 4 1-3 0 7 0 10 1-13 0-3 0-5 1 1 0-2 0-4 1 3 0 1 0-8 1 1 0-2 0 5 1-1 0 7 0 12 1-8 0-7 0-1 1 9 0-8 1 0 0-9 0 7 1-1 0-3 1 7 0 3 0 3 1 3 0-2 1-8 0 10 0 1 1-12 0 9 0-1 1-4 0-1 0 3 1 1 0-7 0 9 1 1 0-4 0-1 1-3 0-4 0-5 1-4 0-4 0 12 1-14 0 4 0 16 1-1 0 9 0-3 1-9 0 7 1-12 0 10 0 17 1-11 0-10 0 9 1-6 0 7 0-3 1-7 0 10 0-2 1-8 0-4 0-2 1 9 0-1 0 23 1-10 0-3 0-9 1 10 0-9 0 11 1-13 0-7 0 14 1-4 0 4 0-7 1 8 0-12 1 7 0-12 0-2 1 5 0-3 0 6 1 1 0-8 0 9 1 1 0 8 0 2 1-4 0-16 0 14 1-8 0 2 0 8 1-4 0-3 1-1 0 3 0-7 1 6 0-7 1 17 0-9 0 11 1-7 0 2 0-1 1-4 0 3 0-2 1-6 0 1 1 3 0-3 0 12 1-8 0-1 0 6 1-6 0 5 0 9 1-4 0-13 0-1 1 1 0 5 1 8 0-4 0-6 1 2 0 7 1-11 0 7 0-12 1 12 0-2 0 3 1-3 0 2 0 10 1 3 0-11 0-5 1 6 0 2 0-6 1-2 0 4 0-8 1 8 0 2 0 1 1 3 0-11 0 5 1 1 0 6 0-5 1 0 0-5 0-2 1-2 0 6 0-4 1 10 0-8 0 6 1 7 0-9 0-4 1-3 0 6 0 1 1 2 0-9 0-6 1 9 0-5 0-4 1 9 0-7 0-2 1 1 0 1 1-7 0 1 0-3 1 0 0 6 0-5 1 15 0-1 1-3 0 5 0-10 1 4 0-2 0 8 1-4 0-3 0 1 1 1 0 6 0 4 1 16 0-19 0 1 1 0 0-4 0 3 1-6 0 1 1 9 0-6 1 1 0-1 0 2 1 4 0-15 0 16 1 1 0-9 0-1 1-2 0 2 0 12 1-3 0-13 0 3 1 7 0-3 0 7 1-2 0-4 0-4 1-2 0 16 0-13 1-2 0 4 0-5 1 2 0 11 1-12 0 8 0 2 1-4 0-8 0 1 1 1 0-4 1-7 0 8 0 6 1-3 0-5 0 7 1-3 0-3 0-9 1 6 0 10 0-1 1-9 0 16 0 3 1-2 0-9 0-3 1 7 0-6 0-4 1-1 0 6 0-5 1 4 0-6 0 9 1-2 0-4 0 7 1 0 0 1 0-5 1 12 0-4 0-5 1-2 0-6 0 2 1 3 0 4 0 3 1-17 0 17 0-24 1 12 0-8 0 2 1 2 0 5 0 5 1-1 0 9 0-4 1-4 0-9 0-4 1 8 0-13 0 2 1 5 0 1 0-5 1 7 0 5 0 7 1-3 0-8 0 15 1-3 0-6 1-1 0 7 0-3 1 0 0 5 0-16 1 3 0 7 0-1 1 6 0-7 0 3 1-1 0 7 0 1 1-4 0-4 0 6 1-7 0 5 1-12 0 9 0 2 1 3 0-1 1 4 0-4 0-1 1-10 0 10 0-3 1 0 0-1 1-10 0 16 0-12 1 8 0 9 0-16 1 9 0-9 0 13 1-2 0-5 0-2 1 18 0-6 0-14 1 1 0 9 0-1 1 9 0-11 0 2 1-2 0-4 0 5 1-8 0 9 0-3 1 6 0-11 0 10 1-8 0-11 0 7 1 6 0-11 0-2 1 5 0 8 0-1 1-5 0-3 0 4 1 1 0-6 0 2 1-5 0 8 1-1 0-5 0 8 1 2 0 3 0-5 1 11 0-8 0 2 1 8 0 3 0-15 1 9 0-1 0-2 1-10 0-1 0-1 1 8 0-9 0 7 1-2 0-1 0 6 1-8 0 4 1-7 0 3 1-7 0 11 0 3 1 3 0-10 0 4 1-1 0-9 0 10 1-6 0 2 0 4 1-1 0-4 1 2 0 5 0 6 1-1 0-10 0 12 1-1 0-12 1 4 0-4 0 10 1-10 0 2 0 3 1-1 0-7 0-2 1 5 0-10 0 17 1-3 0 2 0 2 1-1 0 5 0-8 1 6 0-3 1 3 0-7 0 13 1-10 0 12 0-14 1 5 0-6 0 1 1-6 0 3 1-6 0 8 0-9 1 4 0-6 0 14 1-9 0 4 0 2 1 2 0-14 1 13 0 8 0 9 1-15 0-6 0 10 1 5 0-4 0-10 1 6 0-9 0 15 1-10 0 18 0-6 1 9 0-15 0 1 1 1 0 2 0-1 1 1 0-7 0-2 1-8 0 8 0 6 1-14 0 4 0-5 1 8 0 13 1-11 0 2 0-8 1 6 0 2 0 5 1-12 0-8 0 9 1 3 0-6 0 8 1-6 0 6 1-5 0 1 0-6 1 6 0-10 0 3 1-3 0-6 0 13 1-3 0 2 1 5 0-6 0-2 1 11 0-5 1-3 0 7 0-4 1 9 0-2 0-3 1-18 0-6 0 17 1-5 0-3 0-1 1 4 0-2 0 8 1-11 0 2 0-5 1-5 0 6 0-4 1-5 0-3 0 2 1-2 0 7 1-3 0-2 1 2 0-2 0-4 1-5 0 4 0-9 1 7 0-6 0-1 1 3 0 6 0 5 1 0 0 9 0-12 1 2 0 7 0-9 1-1 0-3 0 6 1-2 0 7 0-1 1-6 0-6 0 5 1-5 0 2 0-15 1 11 0-1 0-9 1 4 0 7 0-4 1 5 0-6 0 13 1 2 0-2 0 5 1 5 0-5 0-3 1-5 0-9 1 15 0-16 0 5 1-6 0 1 1-6 0-4 0-1 1 1 0-8 0-3 1 1 0 12 0-4 1 12 0-8 0 15"/>
<path marker-start="url(#mys)" marker-mid="url(#mys)" marker-end="url(#mys)" d="M55 239l0 16 0 11 1-7 0 13 0 6 1 7 0 4 0-3 1-2 0 10 0 2 1 3 0 9 0-8 1-3 0 4 0-13 1 4 0 2 1 6 0 1 0-7 1 7 0-12 0 8 1 11 0-12 0 16 1-7 0-2 0-7 1-6 0 7 0-10 1-8 0 17 1-6 0 4 0 8 1 0 0 14 0-6 1-1 0 3 0-12 1 0 0 5 0-4 1 11 0 8 0-9 1 1 0 10 0-3 1-8 0-1 0 11 1-6 0-6 0-5 1-14 0 5 0 6 1 10 0-15 0-2 1 16 0-22 0 18 1-16 0 5 0 8 1 4 0-4 0-7 1 10 0-1 0 4 1-1 0 11 0 3 1 7 0-16 0 6 1-2 0-3 0-3 1 1 0-8 0 4 1-4 0 1 0 2 1 1 0 3 0-15 1 4 0-2 1-7 0 9 0-8 1-3 0 12 0 7 1-17 0 13 0-11 1 2 0 9 1-15 0 17 0-10 1 3 0 17 0-5 1-6 0 15 1-2 0-25 0-12 1 12 0 2 0-5 1 0 0-5 0-4 1-4 0 4 0 1 1-9 0 8 1-5 0 15 0-4 1-16 0 18 0-9 1-6 0 11 1-10 0 1 0 6 1 5 0-13 0 2 1-14 0 7 0 13 1-7 0 1 0-9 1 5 0 10 0-6 1 3 0 9 0-24 1 6 0 4 0-13 1 18 0-5 0 4 1 1 0-2 0-9 1 4 0-2 0 5 1 2 0-8 0 6 1-18 0 7 0 7 1 14 0-13 1 13 0 17 0-10 1-3 0 1 0 8 1-6 0-3 1 3 0 4 0-10 1-3 0 3 0 12 1-2 0 10 0-4 1-3 0 4 0 1 1 4 0 3 0-2 1-7 0-4 0 11 1 2 0-2 0-3 1 0 0-6 0-18 1 4 0 12 0 6 1 5 0-1 0-3 1-8 0-12 0-10 1 11 0-7 0-3 1 0 0-1 0-8 1 16 0-15 0 9 1 10 0-4 0-7 1-2 0-11 1 16 0-10 0 12 1-6 0-5 0 12 1 0 0-21 0 4 1-8 0 16 0-4 1-8 0 11 0-8 1 1 0 9 0-5 1-1 0-4 0 5 1 6 0-4 0-3 1 2 0 2 0-11 1 5 0-1 0 2 1-21 0 18 0-10 1 18 0-3 0-17 1 17 0 6 0-10 1-5 0 6 0 8 1-10 0-5 0 1 1 1 0 5 0-16 1 9 0 9 0-4 1-3 0-8 0 3 1-5 1-5 0 15 0-6 1 4 0-6 1-1 0-2 0 7 1 0 0-5 1 16 0-8 0-3 1 2 0-9 0 3 1 9 0-8 0 19 1-11 0-13 0 8 1 5 0-5 0-7 1-5 0 16 0-2 1 0 0-4 1 1 0 2 0-11 1 9 0 9 0-10 1-21 0 20 0-14 1 6 0 15 1-4 0-6 0-2 1-7 0 27 0-17 1-1 0-3 0 13 1-7 0 1 0 13 1-10 0 7 0 2 1-18 0 18 0-6 1 7 0-14 0 10 1 14 0-16 0 7 1-15 0 7 0-6 1 15 0 7 1-11 0 1 0-2 1 7 0 3 0-12 1 14 0 4 0-8 1 4 0 14 0-16 1 10 0-6 0 13 1-20 0-2 1 12 0-20 0-6 1 14 0 11 0 17 1 9 0-12 0-8 1 6 0 5 0-12 1 7 0 10 0-6 1-9 0 13 0-16 1 12 0-17 0 13 1-3 0 8 0 4 1-13 0 6 0-3 1 8 0 2 1-5 0-5 1-3 0 4 0 3 1-10 0-11 0 9 1-4 0 9 0 5 1-4 0-1 0-1 1 12 0-15 0 13 1 0 0-17 1 2 0-15 0 12 1-3 0 11 0-16 1 7 0 4 0 1 1 1 0-5 0 4 1-8 0-4 0-5 1 2 0-7 1 1 0 11 0-1 1 8 0-12 0 8 1-1 0-6 0 16 1-3 0-4 0-12 1 7 0 10 0-11 1-1 0 12 0 6 1-9 0-5 0 3 1 1 0-9 0-7 1 3 0 6 0-5 1-14 0 16 0-8 1-4 0 22 0-20 1 2 0-4 0 9 1 0 0-3 0-5 1 18 0-18 0 6 1-2 0-4 0 1 1-7 0 12 0-8 1 5 0 2 0 1 1-1 0 5 0-2 1-2 0 7 0-6 1 2 0 2 0-6 1 2 0-6 0 5 1 0 0 7 0-6 1-1 0 3 1-7 0 14 0-10 1 4 0-3 0-10 1 12 0-4 0 2 1-8 0 9 0-3 1 0 0 5 0 1 1 9 0-3 0-9 1 12 0-20 0 2 1-10 0 5 0 3 1 8 0-12 0 8 1-2 0 3 0-20 1 17 0-14 0 15 1 15 0-11 0-14 1 3 0 3 0-35 1 5 0-32 0 43 1 2 0 23 0 24 1-20 0 5 0 7 1 1 0 5 1-22 0 14 0-1 1 16 0-17 0 11 1 4 0 8 0-6 1 2 0 12 0-2 1-10 0 8 0-5 1 4 0-5 1 1 0 6 0-8 1-13 0 9 0-7 1 19 0-6 0-7 1-6 0 14 0-15 1 8 0-6 0 7 1-6 0-5 0 11 1 8 0-6 0 8 1 9 0-15 0-3 1 2 0 6 1 11 0-15 0 2 1 6 0-4 0 1 1 3 0-23 0 15 1-16 0 10 0 5 1-8 0 2 0-12 1 1 0 13 0-2 1-12 0 12 0-1 1-10 0 4 1-9 0-2 1 14 0-3 0 1 1-4 0 9 0-1 1-6 0-5 0 1 1 6 0-1 0 12 1-8 0-3 0 1 1 0 0 4 0-3 1-3 0 8 0 7 1 0 0-5 0 7 1-13 0 3 0 3 1 19 0-10 0-15 1 15 0-15 0 3 1-5 0 9 0-7 1-6 0 5 0-7 1 10 0-5 0 14 1 4 0-10 0 4 1-5 0-1 0 5 1-9 0 6 0 6 1 3 0 5 1-12 0-4 0 2 1 3 0-1 1 6 0-16 0 12 1-10 0-1 0 2 1-5 0 1 0 14 1-3 0-3 1 4 0-4 0 24 1-11 0-3 0 6 1 1 0-3 0-18 1 11 0-10 0-8 1 3 0-16 0 14 1-8 0 11 0-10 1 6 0 19 1 1 0 10 1-7 0 11 0-7 1 4 0-14 0 17 1-4 0-18 0 14 1 2 0-5 0 2 1-7 0-8 0 4 1 6 0-9 0 4 1 0 0 2 0 1 1 9 0-9 0 5 1-14 0 6 0-2 1 0 0 6 0 1 1-3 0 4 1 4 0-5 0 3 1 8 0-9 0 15 1-7 0-5 0 1 1-1 0 2 0-7 1 2 0 5 0-9 1 4 0-4 0-14 1 14 0 8 0-5 1-7 0-15 0 16 1 4 0-5 1-1 0 18 0-11 1-4 0 14 0-11 1-2 0-12 0 10 1-2 0 2 0 5 1-2 0-12 0-11 1 5 0 12 0 3 1 15 0-4 0-6 1-4 0 6 1-8 0 2 0-10 1 22 0-14 0-4 1 12 0-9 0-5 1-4 0 3 0 5 1-3 0 3 0 15 1-8 0 6 0 15 1-19 0 21 0-9 1-2 0-6 0 4 1-3 0 2 0 4 1-12 0-4 0 3 1 7 0-5 0 4 1 1 0-3 1 14 0-21 0 8 1-10 0-10 1 15 0 1 0 10 1-12 0-8 1 10 0-3 0-4 1 2 0-2 0-9 1 19 0-8 0 5 1 2 0-9 0-1 1-7 0 10 1-15 0 8 0-12 1 9 0 2 1 13 0-4 0 10 1-2 0-13 0 10 1 11 0-3 1 3 0-11 0-6 1-6 0 14 0-17 1 10 0-4 0-1 1-2 0-5 0 7 1-1 0-1 0-4 1-3 0-2 0 18 1-3 0-3 0-8 1 3 0-6 0 7 1 7 0-10 0 4 1-4 0 4 0 7 1 0 0-1 1-1 0-1 0-2 1 4 0-7 0 14 1-6 0-1 0-7 1 5 0 13 1-11 0 5 0 2 1-6 0-4 0 5 1-1 0-3 0-3 1 3 0 2 0-11 1 2 0 6 0-9 1 1 0 4 1-6 0 22 0-17 1 4 0 13 0-3 1-5 0 19 0-6 1-3 0-13 0 10 1-6 0 26 0-19 1 9 0-2 0 8 1-10 0 4 0 5 1-1 0 8 0 4 1 12 0-8 0 3 1 0 0-10 0 14 1-12 0 14 0 5 1 5 0-16 0 8 1-5 0 9 0-2 1 14 0-3 0 10 1-27 0-3 0 16 1-2 0-9 0-2 1 16 0 5 0-8 1-11 0 2 0-10 1 8 0-9 0-14 1 3 0 6 0-19 1 5 0-17 0 30 1-29 0 11 0 11 1-2 0-7 0-10 1 2 0-11 0 25 1-13 0 6 0-22 1 14 0 13 0-18 1-6 0-2 0-1 1 1 0 10 0 13 1-8 0 21 0-16 1 17 0-11 0-8 1-1 0-27 0 20 1-17 0-6 0-18 1 38 0-9 0-2 1 17 0-6 0-10 1-6 0 6 0 2 1 0 0 5 0-15 1 20 0-6 0-13 1 19 0-12 0-15 1 12 0-7 0 17 1-8 0-9 0 18 1-6 0 3 0-1 1-19 0 3 0-9 1 6 0 4 1 9 0 1 0-4 1 2 0 3 0-1 1 14 0-17 0 5 1-24 0 6 0 11 1 1 0 6 0-10 1-1 0-13 0 2 1-1 0 15 0-4 1 3 0 1 0 3 1 4 0 1 0-6 1 8 0-3 0-7 1 1 0-2 0 11 1-5 0-8 0 7 1-11 0 12 0 8 1-7 0-3 0-6 1 2 0 6 0-10 1 12 0 4 0-6 1 8 0-11 0 4 1-4 0 14 0-22 1 3 0 3 1 1 0 3 0-4 1 7 0 1 0-6 1 11 0-2 0 6 1-8 0 10 0-6 1 5 0-21 0 17 1-6 0-8 0 10 1 2 0-10 0 7 1 7 0-10 1 10 0-2 0 5 1-3 0 1 0-8 1 5 0-1 0-7 1 4 0 16 0-10 1 9 0-4 1-1 0-3 0 8 1-9 0 3 1-1 0 1 0-7 1 0 0-4 0-5 1 7 0-6 0 7 1 11 0-13 0 10 1-15 0 10 0 5 1 14 0-19 0 4 1 3 0-7 0 13 1-9 0-3 0 2 1-11 0 9 0 7 1-2 0 1 1 2 0 6 0-5 1 1 0 1 0 4 1-8 0 3 0-4 1 9 0 4 0-13 1-3 0 3 0-8 1 11 0-5 0-7 1 3 0-6 0-4 1 26 0-15 0 4 1 13 0 6 0-18 1 23 0-24 0-13 1 8 0 26 0-20 1 13 0-3 1 3 0 7 0 6 1-9 0-6 0 5 1-23 0-1 1 8 0 7 0-19 1 13 0-5 0 18 1-13 0 22 0-25 1-3 0 5 0 12 1-1 0-5 0 1 1 4 0 5 0-10 1 9 0 13 0-4 1 2 0-9 0 12 1 0 0 12 1 4 0-9 0 12 1-14 0 16 0-12 1 9 0 7 0-2 1 10 0-15 0 3 1 29 0-30 0-2 1 11 0-7 0-8 1-1 0 1 1 13 0 3 0 21 1-3 0-5 0-2 1-9 0 5 0 16 1-5 0-17 0 1 1 23 0 2 0-4 1 2 0 4 0-5 1 5 0-4 0 3 1-3 0 1 1 2 0-4 0-24 1 4 0 6 0-1 1-13 0-16 0 21 1-12 0-10 0-4 1 20 0 2 0-24 1 5 0-8 1-10 0 17 0-11 1-5 0-8 0 20 1-8 0 4 0-1 1 13 0-1 0-15 1 6 0-3 0-6 1-6 0 10 0 6 1-14 0 15 0-9 1-10 0 20 1-4 0-3 0 1 1-7 0-8 0 17 1-19 0 21 0-14 1 6 0 1 0-5 1 18 0-27 0 8 1 0 0 8 0-10 1-3 0-7 0 16 1-16 0 5 0 5 1-17 0 3 0 8 1 2 0 4 0-1 1-10 0-1 1-9 0 4 0-1 1 2 0 7 0 3 1-6 0 19 0-10 1-5 0-7 0 20 1-28 0 9 0-11 1-10 0 15 0-6 1 2 0-8 0-1 1 13 0-1 1-4 0-14 0 12 1 1 0 10 0-8 1-12 0 11 1 2 0-2 0-6 1 9 0-9 1-1 0 9 0-4 1-6 0 11 0-14 1 5 0 5 0-13 1-3 0 6 0 3 1-10 0 1 0 2 1 0 0 9 0-8 1-4 0 10 0-1 1-3 0-1 0-6 1 1 0 10 0-21 1 17 0-3 0-10 1 3 0 2 0 13 1-17 0-3 0 12 1-12 0 7 1 7 0-4 0-7 1 5 0-5 0 3 1 6 0-14 0 3 1-5 0 7 0-5 1 12 0-10 0 2 1 4 0-1 0-1 1-3 0-5 0-4 1 2 0 7 0-5 1-1 0 8 0 4 1-1 0-2 0-14 1 2 0 6 0-1 1-1 0 10 0-4 1 3 0 13 0-9 1-5 0 6 0 7 1-15 0-3 0 10 1-10 0-4 0 8 1 0 0 3 0-6 1-5 0 3 0 2 1-6 0-7 0 1 1-1 0 12 0-10 1 12 0-18 1 10 0-1 0-3 1 15 0-2 0-4 1 10 0-3 0-7 1 9 0-15 0 1 1 21 0 4 0-16 1-9 0 14 0 5 1-13 0 6 1 9 0-23 0 17 1 0 0 1 0-12 1 7 0-6 0 7 1-8 0 3 0 5 1 3 0-5 0-7 1-3 0 7 0 2 1-6 0 2 0 14 1-3 0 15 1-8 0-17 0 12 1 8 0 11 0-9 1-7 0-10 1 7 0-10 0 5 1-2 0-8 0-3 1 12 0 11 0-5 1-1 0-3 0-4 1 5 0-12 0 10 1 0 0-5 1-7 0-6 0-8 1-3 0 16 0-10 1 15 0-14 0 3 1 13 0-8 0 13 1 2 0-4 0 7 1 6 0-3 0 4 1 0 0-1 0-18 1 7 0 3 0-5 1-6 0 4 0 1 1 18 0-10 0 1 1 21 0-13 0 1 1 7 0 1 0 1 1-13 0 10 0 8 1 7 0-10 1 5 0 11 0-10 1 10 0-3 0-11 1 9 0 2 0-3 1 0 0-13 0 1 1 8 0-11 0-3 1 11 0 2 1 3 0 7 0-15 1-3 0 16 0-10 1 4 0 2 0 5 1 1 0 9 0-6 1-13 0 3 0-7 1 2 0 5 0 3 1-11 0 6 1-15 0 2 0 19 1-16 0 6 0 16 1-21 0 9 0-6 1 4 0-14 0 1 1 10 0-3 0-4 1 4 0-2 0 6 1-5 0 12 0 6 1-17 0-11 0 15 1 5 0-2 1 0 0 1 0-6 1 6 0-7 0-13 1 13 0-1 0-5 1 5 0 3 1 9 0 8 0-1 1 2 0-16 0 21 1-12 0-6 0-2 1 13 0-13 0-2 1 6 0-18 0 10 1-19 0 22 0 4 1-20 0 8 0 2 1-9 0 1 1-6 0 4 0-7 1-5 0-1 0-8 1 2 0 4 0 6 1-11 0 5 0-10 1 9 0 9 0 4 1 0 0 1 0-14 1-6 0 17 0-13 1 3 0 3 0 4 1-2 0 7 0 5 1-4 0 7 0-6 1-3 0 3 0-20 1 19 0-2 0-1 1-4 0-4 0-3 1 7 0-9 1 13 0-1 0 10 1-2 0 5 1-8 0 4 0-10 1 12 0-3 0 6 1-16 0-8 1 15 0-7 0-4 1 16 0-8 0-6 1-4 0 6 0-1 1-2 0-4 0 9 1-4 0 11 0-13 1 14 0 10 0-26 1 19 0-12 0 5 1-7 0 2 0-4 1 4 0 6 0-4 1-4 0 14 0-12 1 10 0-5 1 13 0-17 0 10 1-11 0-9 0 4 1 6 0 8 0-7 1 1 0 3 0-15 1 7 0-9 0 5 1-14 0 15 0 2 1 13 0-7 0-17 1 18 0 13 1-6 0 10 0-6 1-11 0 1 0-14 1 18 0-1 0 3 1 2 0-2 1-2 0-5 0 6 1 1 0 17 0-21 1 15 0-2 0-1 1-5 0 10 0-2 1-7 0 2 0 16 1-8 0-6 0-6 1 13 0-11 0 5 1-11 0 11 0-5 1 3 0 3 1 6 0-6 0 3 1-1 0-15 0 16 1-5 0 8 0-6 1 8 0 5 0-10 1 15 0-3 0-14 1 3 0 2 1 2 0-9 0 14 1-1 0-13 0-12 1 19 0-7 0 6 1-2 0-6 0 10 1 0 0 5 0-9 1-5 0 7 0-18 1 5 0 11 0-3 1-3 0 8 0 2 1-10 0-7 0 15 1-14 0 5 0-8 1 17 0 5 0-6 1-2 0-8 0 11 1-4 0 1 0-2 1 3 0-6 0 1 1 5 0 6 0-1 1-5 0 2 0 7 1-2 0 7 0-14 1 4 0-13 0 2 1 5 0 6 0-3 1 2 0-15 0 19 1 5 0-14 0 2 1-2 0-1 1-9 0 6 0 11 1-6 0-8 0 1 1-6 0 3 0-12 1 16 0-10 0 11 1-16 0 1 0 14 1 8 0 12 0-15 1 10 0 3 0-11 1-3 0-6 0-2 1 2 0-3 0-6 1 5 0-13 0-4 1 12 0-1 0 16 1-13 0 6 0-4 1 1 0-6 0-3 1 3 0 2 0 3 1-3 0 1 0 2 1-9 0 1 0-6 1 1 0-5 0 7 1-4 0-2 0 8 1 5 0 8 0-13 1 18 0 1 0-9 1 7 0-4 0 5 1-11 0 11 0-3 1-13 0 10 0-6 1 4 0 9 0-6 1 13 0-22 0 10 1-2 0 8 0 5 1 1 0-4 0-1 1 4 0-1 0 2 1-5 0-13 0 11 1-4 1-9 0 4 0 8 1-12 0 12 0-11 1-4 0 7 0-6 1 5 0 8 0-17 1 15 0-11 0-6 1 26 0 5 0-2 1-6 0 11 0 6 1-8 0-5 0 2 1 0 0 2 0-8 1-5 0-1 0-1 1-2 0 6 0 10 1 1 0 3 0 5 1-15 0 6 0-2 1 3 0-12 0 6 1 6 0-11 0-2 1 6 0-4 0 15 1-23 0-5 0 8 1 0 0 14 0-6 1-9 0 17 0-3 1-10 0 9 0-10 1-1 0 10 1-10 0 8 0 6 1-7 0-3 0-9 1 9 0-10 0 12 1 2 0 2 0 6 1-9 0 1 0-8 1 11 0 8 1-12 0 7 0-6 1-6 0-2 0 7 1 0 0-5 1 6 0 3 0 5 1-30 0 11 0 6 1-12 0-3 1 21 0-9 0 2 1-1 0 2 0-7 1-1 0 13 1 10 0-10 0-5 1 19 0-12 0 3 1-11 0 2 1 9 0 1 0-6 1-6 0 7 0 11 1-6 0-2 0-6 1-4 0 3 0-8 1 11 0 3 0-4 1 5 0-22 0 17 1-6 0-8 0 11 1-5 0 2 0 10 1-9 0-3 0 6 1 10 0-4 0 7 1-2 0-12 0-1 1 10 0-3 0 5 1 5 0-6 0-7 1-6 0-3 1-17 0 15 0-8 1 10 0-1 0 4 1 6 0 1 0 2 1 9 0-19 0 6 1 5 0 18 1-12 0-6 0-6 1-2 0 16 1 5 0-14 0-12 1 8 0-6 0 9 1 5 0-9 1 5 0 19 0-14 1-9 0-5 0-1 1 16 0-8 0-8 1 16 0-7 0-13 1-2 0 12 1-4 0 3 0 7 1-16 0 8 0-5 1 10 0 4 0-2 1-15 0 22 0-5 1-8 0 9 0-2 1 1 0 9 0-15 1 12 0-3 0-16 1 7 0 6 1-1 0-5 0 14 1-12 0 5 0 6 1-7 0-9 0-5 1 14 0-5 1-5 0-1 0 18 1-15 0 10 1 6 0 6 0-4 1 6 0-17 0 9 1-4 0 10 0 12 1-15 0 6 0 12 1-16 0-18 0 7 1 0 0 1 0-8 1 1 0 5 0-12 1 5 0-4 0-11 1 36 0-15 1 5 0 25 0-10 1-2 0-30 0 19 1 9 0-16 0-5 1-8 0 1 0 24 1-14 0 6 0 6 1 1 0 11 0-8 1-3 0 8 0-17 1 18 0 17 0-6 1-11 0-7 0 2 1 17 0-39 0 2 1 20 0-1 0-6 1 5 0-6 0 30 1-6 0-22 0 33 1-33 0 17 0-8 1-3 0-8 0 15 1 29 0-17 1-20 0 11 1-20 0-4 0 6 1 0 0-12 0-3 1-3 0-11 0 52 1-37 0 3 0 16 1-12 0 21 1 7 0 19 0-12 1-27 0-22 0 24 1 2 0 22 0-2 1-25 0 30 0-10 1-5 0-10 0 13 1-34 0 16 0 25 1-28 0 13 0-15 1 33 0-32 0 33 1-18 0 34 0 25 1-4 0-33 1-6 0-18 0 15 1 4 0-28 0 42 1-24 0-13 0 51 1-38 0 28 0-47 1 43 0-33 0 11 1 32 0-44 0 5 1-23 0 40 0-36 1 10 0-4 0 14 1-20 0-7 0 32 1-36 0 17 0 13 1-9 0 19 0-11 1-9 0-10 1 35 0-10 0-17 1 8 0-2 0 8 1-3 0-33 0-2 1-14 0 38 0-23 1 9 0 5 0-6 1 11 0 10 0-2 1 4 0-18 0 21 1 11 0-7 0-24 1 3 0 3 0-13 1-5 0 10 0-7 1 11 0 7 0-19 1 1 0-1 0-4 1 15 0-4 1-10 0 9 0 6 1-13 0 19 0 6 1-9 0-15 0-1 1 7 0 13 0-12 1 0 0-8 1 8 0-13 0 4 1 4 0 12 0 1 1-3 0-5 0-10 1 4 0 16 0-1 1-14 0 3 0 10 1-9 0 8 0-4 1 8 0 2 0-21 1 15 0-6 0-3 1-1 0 10 0-7 1-9 0-3 0 22 1-21 0 16 1 5 0 7 1-11 0 11 0-8 1-5 0-2 0 17 1-11 0 6 0-8 1 14 0-13 0 10 1-15 0-1 0-19 1 13 0-15 0-6 1 9 0 3 0 15 1-9 0 6 0-14 1 12 0-3 0 24 1-7 0-18 1 0 0 4 1 7 0-7 0 4 1-13 0 4 0 5 1-6 0 9 1-6 0-2 0-3 1 2 0-8 0-5 1 11 0 8 0 10 1-16 0 19 1-15 0-7 0 35 1-25 0 3 0-9 1 0 0-12 0 13 1 9 0 1 0-8 1-10 0 12 1-17 0 14 0 1 1-2 0 11 1-8 0-8 0-2 1 3 0 9 0 8 1-9 0-16 0 14 1-10 0 5 0-7 1 7 0-11 0 5 1 0 0 16 0-7 1 8 0 7 0-9 1-7 0-3 1-2 0 6 0-19 1 13 0 3 0-8 1 4 0 1 0 3 1-12 0 8 0-7 1 7 0 1 0-2 1-11 0-5 1 14 0-2 0 8 1-15 0 4 0 9 1-7 0 9 0-13 1 23 0-21 0-8 1 7 0-11 0 8 1 0 0-10 0 9 1 2 0 2 0 10 1-5 0 3 0-10 1-5 0-3 0-12 1 6 0-1 0 5 1-13 0 14 0 7 1-6 0 2 0 10 1-3 0 3 0-2 1-9 0-9 0 1 1 6 0 1 0-4 1 13 0-1 0-11 1 2 0 3 1-1 0 6 0-17 1 12 0-8 0 1 1 8 0-15 0 5 1 0 0 3 0 3 1 3 0 6 0-19 1 9 0-3 0 2 1 3 0 9 0-13 1 21 0-11 0-2 1 17 0 10 0-8 1-1 0 9 0-10 1 8 0-6 0 11 1-4 0 16 0-10 1 8 0-1 0 16 1-15 0-9 0 13 1-4 0-2 0 3 1-11 0 9 0 4 1-8 0-7 0 11 1-3 0 13 0-8 1 3 0-10 0 1 1-5 0-2 0-6 1-3 0 8 0-11 1 1 0-18 0 13 1-15 0 9 0-14 1 1 0 5 0 11 1 1 0-10 0 4 1-1 0 3 0-25 1-2 0-7 0 12 1-15 0 9 0-12 1 22 0-14 0-7 1-6 0 3 0 6 1-25 0 5 0 7 1 1 0-6 0-6 1 8 0 11 0-6 1-3 0 7 0-10 1-1 0 4 0-5 1 2 0-16 0 21 1-15 0 24 0-4 1-12 0 7 1 2 0 1 0 18 1-1 0-6 0 1 1 13 0-21 0 9 1-11 0 14 0 9 1-3 0-5 0 12 1 6 0 3 0-6 1-3 0 1 0-3 1 6 0 2 0-9 1-2 0 20 0-6 1 2 0 1 0 21 1-7 0-3 0-7 1 8 0-1 0 4 1-2 0 1 0 7 1 0 0-3 1 9 0 4 0 1 1-7 0-10 0 1 1 1 0 18 0-15 1-1 0 3 0 13 1-18 0 3 0 2 1-6 0 8 0-3 1 7 0 4 0-10 1 12 0-7 0 9 1-7 0 4 1-1 0 4 0-8 1-2 0-2 0-10 1 6 0 12 0 12 1-13 0-9 0-1 1 3 0-6 0-8 1 11 0-1 0-3 1 13 0 1 0-8 1-4 0-2 0 8 1-8 0 3 0 11 1-8 0-7 0 2 1 1 0-3 0-4 1 16 0-1 0-4 1-13 0 26 0-13 1 6 0-8 0 11 1 16 0-14 1-5 0-9 1 6 0-11 0 14 1-6 0 7 0-3 1-1 0-1 0-11 1 11 0-3 0 7 1 7 0-9 0 5 1-15 0 14 0 3 1 6 0-12 0-13 1 8 0-4 0 10 1-9 0 10 0-5 1 2 0-3 0-10 1 2 0 1 1 8 0-9 0-3 1 11 0-4 0 10 1-2 0 14 0-3 1-11 0 12 0-3 1-20 0 6 0 3 1-8 0 3 0 2 1 1 0 8 0-6 1-1 0-5 1-5 0 11 0 3 1-20 0 14 0 5 1 0 0-9 0-7 1 11 0-8 1 0 0 9 0-7 1 1 0 18 0-17 1 2 0 4 0-5 1-4 0 2 1-6 0 2 0-3 1-2 0 3 0 8 1-7 0 17 0-5 1-9 0 8 1-8 0-2 0-3 1 9 0-9 0 19 1-8 0 6 0-16 1 17 0-1 0-6 1-3 0 2 0 7 1-11 0 9 0 2 1-11 0-9 0 15 1-3 0-7 0 3 1 11 0-3 0 15 1-18 0-2 0 12 1-4 0-1 0-4 1-14 0 7 0 12 1-3 0 2 0-7 1 2 0-10 0 2 1 3 0-2 0 4 1 7 0-8 0 10 1-2 0 4 1-3 0 6 0-14 1 9 0 2 1-10 0 8 0-16 1 17 0 2 0-15 1 21 0-10 0-4 1 0 0 5 1-4 0-1 0 21 1-6 0-12 1 7 0-4 0 5 1-11 0 11 0-3 1 6 0 11 0-4 1 6 0-18 0 3 1 6 0-7 0 3 1 9 0-21 0 15 1-15 0 7 0 5 1-5 0-9 0 14 1 7 0-14 0 3 1 0 0 2 0 3 1-9 0-2 1-2 0-3 0 15 1-3 0-1 1-10 0 4 0-1 1 3 0-6 0 8 1-1 0-7 0 6 1-13 0 22 0-16 1 3 0 4 0-16 1 11 0 12 0-8 1 3 0 4 0-15 1 14 0 11 0-15 1 4 0 7 0-17 1 11 0 2 0-1 1-12 0-7 0 13 1-4 0 4 0 6 1 0 0 4 0-2 1-6 0-11 0 1 1-3 0 10 0-6 1-1 0 14 0-13 1-3 0 12 0-6 1-10 0 9 0-3 1 6 0-7 0-14 1 18 0-13 0 17 1-5 0-5 1 14 0-6 0 5 1-10 0 2 0-3 1-14 0 22 0-9 1-6 0 15 0-2 1 0 0 3 0 5 1-14 0 2 0-5 1 3 0 10 0-1 1-7 0 5 0-4 1 2 0 5 0-7 1-5 0 14 0 2 1-6 0 2 0 4 1-3 0 5 0-17 1-6 0 6 0 11 1 2 0 2 0 13 1-8 0 2 0 2 1-3 0 3 0 1 1-1 0 1 0-4 1-2 0 4 1 7 0-6 0-4 1 4 0-7 0-5 1-2 0 8 0-4 1-6 0 8 0-6 1-1 0 1 0 9 1-3 0-1 0 12 1-9 0 1 1 9 0-3 0-14 1 7 0-3 0 7 1-1 0 9 1-9 0-1 0 14 1-4 0-13 0-4 1 11 0 2 0-26 1 24 0-14 0 13 1 8 0-9 0 11 1-6 0 5 0-9 1 8 0 4 0-25 1 14 0-1 0-7 1-3 0 20 0-16 1-3 0 12 0 7 1-13 0 11 0-4 1 14 0-6 0-8 1-6 0-4 0 1 1 18 0-9 1 19 0-2 0-6 1 6 0-11 0 5 1-1 0 2 0-9 1 11 0-8 0-8 1 0 0 3 1 20 0-22 0 13 1-4 0 3 0 7 1-17 0 5 0 9 1 1 0-18 0 12 1 1 0-1 0 5 1-4 0-1 0-2 1 2 0 2 0-7 1 4 0-1 0 16 1 5 0-2 0-3 1-1 0-2 0 7 1-11 0 2 0-1 1-6 0-1 0 7 1 5 0-4 0 2 1-15 0 15 0-1 1-3 0-8 0 4 1 13 0 8 0-9 1-6 0 4 1 9 0-3 0 13 1-8 0-12 0 7 1 9 0-1 0-7 1-15 0 4 0 15 1-10 0-5 0-5 1 7 0 9 1-23 0 7 0-2 1 8 0-9 0 18 1-22 0 7 0-16 1 9 0 9 0-15 1 1 0 9 0-24 1 24 0-2 0 4 1 1 0-11 0 7 1-6 0-1 0-3 1 4 0 3 0-1 1 1 0-1 0-2 1-6 1 1 0 11 0-10 1 10 0-14 0 8 1-11 0 3 0-13 1 9 0-15 0 13 1 9 0 10 0-13 1 4 0-5 0 7 1-9 0-4 0-5 1 21 0-1 0-20 1 14 0 2 1-1 0-7 0 11 1-8 0-10 0 9 1-16 0-1 0 8 1 3 0-18 0 23 1-4 0-17 0 5 1 14 0-12 0 11 1 3 0-4 1 12 0-1 0-9 1-1 0 2 0-5 1 0 0-5 0-8 1 9 0-4 0 15 1-8 0-7 0 5 1 3 0 4 0 14 1-19 0 4 0 12 1-9 0 7 0-11 1 0 0 8 0-15 1 4 0-6 0 3 1 15 0-10 0-11"/>
<path marker-start="url(#mzs)" marker-mid="url(#mzs)" marker-end="url(#mzs)" d="M55 326l0-22 0-12 1 36 0-48 0 49 1-27 0 7 0-9 1-41 0 38 0 13 1-2 0-3 0-4 1-4 0-6 0-61 1 76 0-5 0 4 1-9 0-10 1-13 0 24 0-1 1-14 0 7 0 1 1 32 0-14 0-4 1 7 0 3 0-10 1 5 0 3 0-32 1 39 0-18 0 10 1-2 0-9 0 27 0-22 1-3 0 30 0-14 0 5 0-8 0 22 0-36 1-10 0 19 0-2 1 3 0-13 0-1 1 3 0-10 0 18 1 3 0-24 0 53 1-23 0-22 0 26 1-35 0 9 0-1 1 2 0-10 0 27 1-12 0 7 0-14 1 17 0-2 0-10 1-10 0 18 0 12 1-17 0 9 0-4 1 7 0-27 0 12 1 26 0-19 0 16 1-19 0-27 0 25 1 17 0-63 0 34 1 6 0 42 0-36 1 19 0-30 0 3 1 15 0-24 0 4 1 9 0 49 0-35 1-12 0-8 0-14 1 19 0-11 0-5 1 40 0-35 0-14 1 20 0 10 0 8 1 0 0-2 0-8 1-7 0-6 0 25 1 4 0-8 0-9 1 6 0-27 0 7 1-2 0 19 0-31 1 38 0 7 0-24 1-3 0 7 0-20 1 18 0-1 0 5 1-11 0 27 0-1 1-20 0 27 0-20 1-7 0 13 0-5 1-1 0 5 0 23 1-22 0-5 0-8 1 1 0 8 0-3 1 2 0-22 0 25 1 6 0 23 1-37 0 10 0-17 1 17 0-2 0-11 1 12 0 24 0-47 1 25 0-16 0 32 1-55 0 22 0 15 1-3 0 4 0 3 1-2 0-3 0-8 1 5 0-25 0 33 1 3 0 5 0-16 1 3 0-2 0-7 1-15 0-2 0 19 1 6 0-4 0-11 1 21 0-8 0 31 1-53 0 28 0-15 1 57 0-41 0-9 1 2 0 13 1-14 0-6 0 4 1 8 0-20 0 33 1-1 0-12 0-8 1 20 0-42 0 21 1 0 0 3 0-11 1 15 0 21 0-17 1 3 0 10 0 2 1-3 0-13 0-15 1 21 0-13 0 11 1 7 0 6 0 4 1-34 0 14 0-21 1-2 0 48 0-42 1-1 0 21 0-7 1 20 0-17 0 10 1-18 0 4 0 19 1-32 0 19 0-31 1 4 0 11 0 13 1 1 0-4 0 16 1 17 0-27 0-17 1-1 0 12 0-2 1 16 0-9 0-10 1-12 0 21 0-8 1-3 0-12 0 15 1-2 0-38 0 42 1 9 0-25 0 13 1 21 0-24 0 40 1-25 0-6 0-5 1-3 0 7 0 38 1-43 0-2 0 7 1-1 0 5 0-4 1-21 0 31 0-12 1 18 0-12 0 4 1-34 0 23 0-20 1-29 0 33 0 25 1 0 0-6 0-7 1 6 0 10 0 8 1-5 0-31 0 17 1 21 0-7 0-4 1-2 0 11 0-21 1-1 0-18 0 22 1-5 0-8 0 4 1 23 0-2 0-9 1 7 0-17 0 9 1-28 0 52 0-43 1 11 0 40 0-35 1-40 0 42 0-28 1 15 0 5 0 1 1-8 0-3 0 33 1-7 0-1 0 27 1-32 0-11 0-4 1-1 0-7 0 19 1 4 0-18 1 7 0 9 0 25 1-43 0 16 0-7 1 13 0-35 0 42 1-50 0 31 0 12 1-21 0-8 0 11 1 1 0 5 0 6 1-5 0-1 0-4 0 37 1-22 0 17 0 33 0-24 1 29 0-75 0 32 0-17 0 42 0 7 0-31 1-8 0-6 0-11 1 17 0 8 0-23 1-5 0 17 0 4 1-5 0-24 0-9 1 12 0 20 0-13 1-2 0 10 0 9 1 0 0 6 0-7 1-40 0 61 0-48 1 2 0-16 0 13 1 15 0-21 0 7 1 28 0-5 0 48 1-32 0-33 0 40 1-26 0 13 1-21 0-8 1-18 0 25 0-1 1 7 0-24 0 28 1-13 0 24 0-9 1-27 0 26 0 6 1 1 0 2 0-30 1 4 0-6 0 8 1 6 0 16 0-8 1-16 0 19 1-8 0 12 0 9 1-36 0 26 0 7 1-13 0-2 1 15 0-8 1-1 0 11 0-14 1 8 0 6 0 2 0 17 1 11 0-60 0 32 0 22 1-30 0 6 0 12 0-23 0 9 1-15 0-8 0-5 1 13 0 12 0-13 1-2 0 7 0 48 1-94 0 40 0-16 1 20 0-15 0 13 1-1 0 2 0 5 1-6 0 19 0-16 1 6 0-12 0 1 1 5 0 2 0 36 1-45 0 13 0-9 1 1 0-15 0 13 1-1 0 17 0-46 1 31 0-3 1-2 0-7 0 11 1 10 0-8 0 1 1-6 0-5 0 26 1 32 0-30 0-43 1 36 0 7 0-19 1 16 0-8 0-29 1 29 0 22 0-25 1 3 0-5 0-10 1 8 0 17 0-9 1-25 0 18 0 6 1 21 0-33 0-8 1 15 0 1 0-5 1-7 0-4 0 33 1-24 0 10 0 22 0 6 1-16 0-8 0-6 0-25 0 50 0-43 0 70 0-10 0-66 1 91 0-130 0 77 0-16 0-24 1-10 0 23 0-7 0 46 0-19 0-26 1-1 0 77 0-65 0-5 1-12 0-2 0 28 1-11 0-28 0 40 1-21 0-1 1 51 0-30 0 17 1-8 0 2 0-5 1 9 0-56 0 34 1 2 0 4 0 2 1-8 0-2 0-1 1-11 0 15 0-7 1 2 0-10 0 13 1 12 0-14 0 7 1-4 0 9 1 8 0-32 0 22 1-7 0 3 0 15 1-15 0 13 0-7 1-7 0 4 0 11 1-24 0 44 0-31 1-10 0 15 0-3 1-12 0 15 0-7 1 13 0-34 0 49 1-36 0 14 0-6 1-7 0 6 0 10 1-12 0-1 0-1 1-3 0 4 0 11 1-12 0-59 0 63 1 0 0-7 0-16 1 4 0 17 0 12 1-26 0 25 0-14 1-2 0-15 0 23 1-13 0 59 0-50 1 9 0-7 0-1 1 41 0-25 0-35 1 17 0 4 0 4 1-12 0 7 0-25 1 27 0-4 0-9 1 3 0 8 0 4 1-2 0 9 0-7 1 31 0-22 0 26 1-46 0 24 0 2 0-14 1 36 0-38 0 11 0 2 0 9 0-12 0 15 1-33 0-4 0-13 1 18 0 14 0-24 1 5 0 9 1-7 0 5 0-33 1 40 0 24 0-12 1-29 0 56 0-48 1 5 0-6 0 8 1 2 0 1 0-15 1 28 0-11 0-38 1 18 0-16 0 21 1 5 0-2 0-16 1 20 0 24 0-22 1 3 0-16 1 2 0-10 0 22 1-24 0 30 0-20 1-10 0-3 0 37 1-34 0 26 0-7 1-4 0 13 0 17 1-19 0 22 0-34 1 30 0-28 0 3 1 38 0-34 0 1 1 1 0-29 0 24 1 26 0-20 0-17 1 6 0 13 0-7 1 23 0-27 1 15 0 4 0-1 1 10 0-1 0-33 1 10 0-29 0 20 1-8 0 25 0 3 1-56 0 55 0-9 1-1 0-1 1 1 0-6 0 3 1 31 0 1 0 2 1-25 0-16 0-13 1 24 0-12 1 3 0-22 0 1 1 13 0 45 0-50 1 12 0-18 0 22 1-1 0-13 0 22 1 1 0-20 0 2 1 10 0 11 0 12 1-11 0-51 0 36 1-2 0 5 1 17 0-15 0 25 1 10 0-37 0 5 1 2 0 18 0-5 1 5 0 10 0-34 1 13 0 5 0-4 1-5 0-5 0 8 1-13 0 11 0 9 1-13 0-15 0 24 1-9 0-5 0 13 1-10 0 1 0 14 1-15 0-9 0 5 1-7 0 5 0-11 1 4 0 5 0-2 1 14 0 17 0-27 1 2 0 28 0-43 1 26 0-17 1 3 0 13 0 10 1-24 0 23 0-21 1 11 0 7 0 6 1-6 0-26 0 20 1-12 0 5 0 8 1-16 0 38 0-41 1 35 0 16 0-34 1 13 0-14 1-15 0 18 0-17 1 11 0-3 0 77 0-10 0-42 0 16 1 4 0-66 0 38 0 68 0-76 0 25 0-2 1 73 0-143 0 80 0-58 0 55 0-59 0 90 0-81 0-3 1 21 0 56 0-30 0-16 1-25 0-9 0 32 1-2 0-10 0-11 1 5 0 25 0-6 1-19 0 2 0-9 1 6 0 2 0-5 1 6 0 3 0 6 1 2 0-15 0 38 1-5 0-34 0 25 1-14 0 14 0-13 1 5 0-4 0-14 1 7 0 11 0-30 1 26 0 6 0 14 1-37 0 18 1-22 0 28 0-52 1 71 0-43 0 6 1-2 0 6 0-9 1 15 0-2 0 4 1-24 0 27 0-17 1-11 0 7 0 1 1 1 0-18 1 16 0 1 1 5 0 15 0-8 1 5 0-10 0 38 1-36 0 42 0-85 1 26 0 42 0-27 1 0 0 15 0-5 1-9 0-8 0-10 1 11 0-8 0 14 1 5 0-13 0 2 1 4 0 4 0 9 1-6 0 1 0-19 1 8 0 10 0 5 1 9 0-7 0-4 1-31 0 2 0-13 1 35 0-5 0 34 1-77 0 43 0 16 1 0 0 5 0-23 1 6 0 24 1-17 0-14 0 2 1-4 0 10 0-15 1 5 0-6 0-7 1 11 0 3 0 10 1 12 0 41 0-42 1-10 0-14 0 7 1 27 0-35 0 14 1 4 0 15 0-38 1 25 0-10 0-6 1-11 0 17 0 13 1-5 0 10 0-17 1 1 0 9 0-17 1 11 0-6 0-5 1 23 0-14 0 4 1-16 0 24 0 2 1-2 0-44 0 67 1-46 0-13 0 11 1 2 0 9 0-12 1 21 0-14 0 21 1 8 0-26 0 7 1-1 0-4 0 2 1-6 0 6 0-8 1 6 0 6 0 7 1-27 0 22 0-10 1-7 0-14 0 25 1-22 0 26 0-9 1 12 0-14 0 18 1-6 0-10 0 13 1-43 0 34 0-4 1-12 0 7 0 26 1-13 0-22 0 26 1-25 0 14 0 4 1 12 0 12 0-6 1-5 0-8 1 36 0-78 0 46 1-7 0 26 0-16 1 13 0 4 0-27 1-5 0 33 0-17 1-13 0-19 1 21 0 5 0-4 1 7 0-29 0 22 1-6 0-10 0 28 1-10 0 5 0-11 1 36 0-25 0-35 1 31 0-15 0-2 1 10 0-1 0 5 1 6 0-16 0 34 1-47 0 30 0-9 1-13 0 12 0 5 1-8 0 33 0-34 1-1 0 4 0 15 1-8 0-1 0 3 1 26 0-25 0-9 1 8 0-6 0 5 1 0 0-2 1-26 0 39 0-33 1 24 0 1 0-26 1 12 0 13 0 7 1-7 0 39 0-13 0 12 0 24 0-55 0 18 0 16 1-55 0 21 0 13 0-10 0-9 1-21 0-9 0 5 1 36 0-44 0 6 1 8 0-21 0 22 1-20 0 30 0-9 1-5 0 15 1-3 0 7 0 1 1 10 0-31 0-12 1 28 0-13 0 10 1 30 0-27 0 17 1-14 0 15 1-34 0 3 0 10 1-9 0 19 0-16 1-6 0 10 0-2 1 15 0-15 0 10 1 6 0-24 1 10 0 14 0-24 1-6 0 39 0-16 1 4 0-3 0 17 1-22 0-8 1 19 0 10 0-13 1-29 0 15 0 9 1-10 0 13 0-7 1 13 0-23 0 14 1 24 0-15 0-13 1 8 0-40 0 26 1 7 0-2 0 7 1-9 0-7 0-44 1 56 0-28 0 17 1 11 0-20 0 17 1 15 0-5 0-10 1 10 0-21 0 5 1-12 0 9 0 10 1-17 0 4 0-5 1 42 0-43 0 37 1-8 0-20 0 33 1-13 0 6 0-22 1 11 0-3 0 4 1 1 0-5 0-3 1 7 0-11 0 10 1 29 0-18 0-47 1 39 0 10 0-9 1-33 0 13 0 3 1 30 0-5 0-38 1 15 0 16 0 9 1-2 0-17 0 4 1-11 0 1 0 5 1 10 0-18 0 2 1-3 0 2 0 24 1-49 0 28 0-11 1 25 0 9 0-14 1 0 0 9 0-34 1 3 0 37 0-32 1 34 0-21 0-4 1 7 0-4 0 13 1-5 0-4 0-8 1 29 0-36 0 16 1 1 0-9 0-25 1 24 0 3 0-6 1 27 0-16 0 7 1-29 0 28 0 1 1-14 0 3 0 7 1 0 0-10 0 15 1-16 0 18 0-5 1 0 0 13 0-31 1 25 0-8 0-21 1 16 0 9 0-4 1 6 0-2 0 14 1-53 0 40 0 13 1-3 0 11 0-6 1-24 0 7 0 18 1 12 0-46 0 12 1 19 0-21 0 5 1 4 0 8 0-26 1 9 0 16 0-24 1 8 0-9 0 1 1 0 0 3 0 7 1 5 0-8 0-22 1 39 0-36 0 7 1 15 0-32 0 19 1 18 0 18 0-7 1-21 0-1 0-12 1 3 0 17 1 21 0-9 0 19 1-31 0-20 0 14 1-9 0 18 1-54 0 52 0-32 1 32 0-16 1 16 0 1 0-20 1-12 0-2 0 38 1 3 0-40 0 24 1 19 0-9 0-9 0 23 0 11 1 7 0-26 0-1 0-2 0-12 1-13 0 27 0-16 1-7 0 28 0-24 1 16 0-11 0-8 1 7 0 42 0-29 1-14 0-14 0 29 1-28 0-37 0 73 1-34 0 3 0 24 1-17 0 15 1 19 0-19 0-7 1-38 0 23 0 18 1 2 0-22 0 32 1-24 0-7 0-5 1 18 0-10 0 13 1-5 0-15 0 49 1-31 0 26 0-31 1-9 0-4 0 21 1-13 0 15 0-11 1 17 0-14 1 7 0-24 0 60 1-51 0 20 0-14 1-17 0 32 0-35 1 14 0 9 0-1 1-8 0 11 0 23 1-24 0-19 0 38 1-10 0-12 0 27 1-22 0-12 0 13 1 1 0-22 0-1 1-6 0 8 0 18 1 5 0-17 0 13 1 23 0-30 0-37 1 42 0 11 0 16 1-36 0 2 0 18 1-12 0 12 0-32 1 14 0 6 0-16 1 21 0-6 0-18 1 16 0-6 0 7 1-7 0-6 0 50 1-16 0-53 0 21 1-1 0-30 0 32 1 12 0-15 0 12 1 6 0-16 0 27 1 3 0-18 0-10 1 17 0 6 0-26 1-3 0 12 0 8 1-8 0-3 0 42 1-34 0-10 0 18 1 3 0 8 0-11 1-17 0 14 0 15 1-18 0 2 0 3 1-27 0 15 0-8 1 9 0-25 0 20 1 2 0-16 0 36 1-25 0 11 0 32 1-37 0 5 0 5 1 19 0-18 0-22 1 20 0-10 0 13 1 8 0 10 0-13 1-28 0 4 0 23 1-19 0 4 0 2 1-19 0 26 0-15 1 3 0-14 0 11 1 16 0-7 0-6 1 44 0-42 0-1 1-13 0 42 0-46 1 4 0 32 1 1 0 7 0 29 1-62 0 7 0 19 0 20 1-33 0 13 0-11 0 32 1-15 0-6 0-5 0 7 1 28 0-16 0-4 0-13 0 5 1-23 0 19 1 15 0-24 0-8 0 12 1-24 0 19 0-14 1-5 0 17 0 15 1-11 0-15 1 10 0-19 0 21 1-2 0-7 0-13 1 2 0 6 0 17 1 13 0-7 0 1 1-16 0-6 0 7 1-10 0 15 0-2 1 1 0-3 1-7 0 17 0 2 1-10 0-30 0 27 1 22 0-24 0 5 1-9 0 24 0-13 1-9 0 23 0-3 0 24 0-14 0-2 1 29 0-55 0 34 0 2 0-7 0-25 1-3 0 3 0-19 1 16 0 3 0 15 1-10 0-6 0 5 1 8 0 3 0-14 1 3 0-33 0 38 1-2 0-11 0 9 1-3 0-13 0 6 1 11 0 12 0-30 1 23 0-17 0-6 1 28 0-14 1 4 0-24 0 13 1 13 0-10 0 3 1 6 0 5 0-6 1 17 0-38 0 20 1-31 0 24 0-13 1-16 0 21 0 25 1 5 0-2 0-16 1-25 0 40 0-4 1-23 0 20 0-17 1 9 0-7 0-7 1-6 0 16 0 8 1-1 0 3 0 29 0-16 1-26 0 22 0-21 0 40 1 23 0-30 0 21 0-26 0 20 0-49 0 61 1-27 0-22 0-18 1 20 0-8 0-9 1-9 0-1 0 18 1-7 0 13 0-1 1-14 0-4 0-19 1 49 0-31 0 12 1-8 0 12 0-14 1-6 0 19 0 16 1-7 0-13 0 12 1-43 0 37 0-8 1 10 0 1 0 26 1-36 0 11 0-6 1 14 0-19 0 8 1-7 0 20 0-13 1-1 0 15 0-16 1-6 0-11 1-8 0 1 1 28 0-7 0 8 1 3 0-4 0-7 1 1 0-2 1 9 0 6 1 3 0-15 0-21 1 32 0-16 0 3 1 11 0-7 1 7 0 6 0-11 1 16 0 7 0-25 1 14 0-6 0 9 1-3 0-6 0 12 1-11 0-11 0 3 1-3 0-6 0 5 1 15 0-20 0-3 1 4 0 25 0-6 1-17 0 18 0 13 0-11 0 20 1 13 0-61 0 49 0-18 1 23 0-30 0 29 0-53 1 27 0-28 0 21 0 16 1-5 0-15 0 5 1 6 0-4 0-14 1-6 0-8 0 9 1-1 0-4 0 18 1 1 0-3 0-5 1 5 0-15 0 24 1-20 0 13 0-20 1 14 0 20 0-13 1 18 0-13 0-27 1 4 0 13 0-5 1-6 0 14 0-9 1-3 0-5 0 20 1-8 0 22 0-27 1 7 0 2 0-3 1 34 0-44 0 2 1 17 0-7 0 12 1-6 0-12 1-9 0 31 0-7 1 10 0-7 0-24 1 7 0-13 1 4 0-17 0 37 1 2 0 26 0-31 1 0 0-7 1-15 0 16 0 36 1-36 0-21 0 17 1 6 0-29 0 35 1 12 0-6 0-5 1-7 0-17 0 14 1 0 0-35 0 49 1-27 0 6 0 20 1-9 0 12 1-14 0 31 0-22 1 9 0-27 0-10 1-14 0 25 0 30 1-9 0 13 0-27 1-2 0-4 0 7 1-19 0 11 0 31 1-35 0 31 0-26 1 7 0-4 0-20 1 25 0 3 0 7 1-7 0 22 0-46 1 18 0 19 0-28 1-9 0 13 0-3 1 5 0 15 0-6 1-12 0 4 0-8 1 7 0-10 0 24 0-21 0-12 1 17 0 4 0 24 0-41 0 36 1 18 0-73 0 18 0 40 0-18 0 13 0-5 1-37 0 22 0 19 0-15 1-15 0 25 0 2 1-41 0 23 0-29 1 17 0 10 0 7 1 6 0-3 0-10 1 6 0-2 1 12 0-18 0-15 1 16 0 17 0-23 1 9 0-1 0-16 1 16 0-9 1 5 0 4 0 1 1 13 0-14 0 18 1-8 0-37 0 63 1-44 0 13 0-12 0 30 1-20 0 20 0-3 0 7 1-4 0 29 0-23 0-48 0 65 1 9 0-21 0 5 0-13 0 3 1 6 0 7 0 45 0-16 0-70 0 28 0 23 1 47 0-29 0-27 0-4 0 48 0-74 0 24 0-35 1 5 0 18 0-8 1 6 0 7 0-45 1 31 0-3 0 18 1-34 0-2 0 25 1-3 0-3 0-12 1-2 0-3 0 2 1-26 0 39 0 5 1-11 0 14 0 1 1-4 0-4 0 3 1 17 0-42 0 17 1 3 0 5 0 30 1-20 0 11 0-5 1-11 0 3 0-8 1-1 0 4 0 13 1-25 0 13 0-9 1-9 0 1 0 19 1-15 0-4 1-2 0-5 0-16 1-1 0 32 0-13 1 17 0-5 0 6 1-28 0 15 0 29 1-30 0 18 1-16 0-6 0-11 1 5 0 4 0-1 1 6 0 7 0 5 1-2 0 6 0 7 1-28 0-22 0 48 1-37 0 10 0 27 1 12 0-17 0-15 1 14 0 1 0-8 1 3 0-8 0-38 1 41 0-12 0 2 1 11 0-22 0 12 1 12 0 19 0-18 1 10 0-20 0 8 1 19 0-23 0 12 1 2 0-18 0 9 1 3 0 25 0-37 1-3 0 4 0 7 1 1 0 14 0-28 1 21 0-17 0 4 1-3 0 1 0-19 1 67 0-28 0 5 1-12 0-11 0 29 1-25 0 3 0 9 1 24 0-24 0-3 1-6 0-3 0 10 1 2 0-30 0-5 1 10 0 8 0-19 1 13 0 11 0-10 1-1 0 2 0 25 1-2 0 13 0-26 1 4 0-6 0 25 1-6 0-15 0-19 1 5 0 32 0-22 1 1 0-11 0 3 1 20 0 5 1-11 0-11 0-5 1 16 0-14 0 22 1-4 0-4 0 22 1-43 0 25 0-5 1 30 0-25 0-13 1 4 0 21 0-20 1-19 0 26 0 2 1-10 0-29 1 25 0-1 0 5 1 3 0-40 0 43 1-10 0-9 1 31 0-30 0 22 1-17 0-3 0-7 1 17 0 20 0-22 1-4 0 19 0-34 1 16 0 2 0 10 1 1 0-18 0 6 1 16 0-29 0 33 1-20 0 15 0 3 1-13 0-2 1 4 0 6 0 6 1-5 0 2 0-23 1 14 0-9 0-6 1-11 0 34 0-1 1-40 0 17 0-24 1 40 0 5 0 12 1-31 0 4 0 42 1 5 0-33 1 1 0 26 0-27 1 1 0-3 1 13 0-25 0 15 1-13 0 5 0 18 1-47 0 28 0 3 1 13 0-13 0-36 1 39 0-8 0 7 1-1 0-6 0 1 1-32 0 26 0 7 1 6 0 24 0-34 1 3 0 15 0 7 1-28 0 25 0-22 1 0 0-24 0 14 1 19 0 2 0-12 1 13 0-28 0 3 1 12 0 6 0-22 1 22 0 5 0-19 1 28 0-13 0 11 1-15 0 46 0-43 1 4 0-27 0 23 1 6 0-9 0 36 1-31 0-16 0 1 1-2 0 2 0 11 1-17 0-2 0 14 1 9 0-5 1-5 0 4 0-17 1 22 0-6 0-37 0 52 0-107 1-29 0 64 0 19 0 19 0-55 0-21 0 7 0 103 1-95 0 22 0-62 0 101 0 7 0 19 1-20 0 26 0-20 1 0 0 17 0-14 1 2 0 34 0-33 1-5 0 35 0-26 1-21 0 15 1-8 0 19 0 10 1-11 0-8 0 27 1-4 0-6 0 11 1-23 0-7 0 2 1-5 0 1 0 1 1 11 0-5 0 10 1 18 0-14 0 19 1-27 0-2 0-14 1 16 0-1 0-16 1 20 0 7 0-6 1-6 0-10 0-2 1 7 0 8 0-4 1 22 0-17 0 3 1-4 0-4 0 18 1-34 0 27 0-14 1 3 0 29 0-63 1 20 0 7 0 12 1-3 0 3 0 26 1-64 0 51 0-9 1-17 0-14 1-1 0-6 0 20 1-13 0 34 0-6 1-3 0 12 0-28 1 18 0-3 0 8 1-1 0 23 0-37 1 25 0 12 0 6 1-54 0 23 0 9 1 18 0-28 0 1 1 6 0-6 0-50 1 60 0-8 0-53 1 65 0-28 0 8 1-8 0 24 0-17 1-23 0 49 0-37 1 16 0-32 0 17 1 10 0-9 0 12 1 1 0-40 0 13 1 29 0-28 0 43 1-29 0 10 0 18 1-29 0 15 0-27 1 55 0-38 0 12 1-10 0-19 0 43 1 3 0-3 0 33 0-42 1 2 0 46 0-61 0 11 0 81 1-18 0-86 0 31 1 80 0-99 0 78 0-29 0 22 1-76 0 35 0 20 0-23 0-13 1-6 0 86 0-87 0 13 1-12 0 10 0 11 0-19 1-17 0 29 0-16 1-21 0 12 0-1 1-6 0 9 0-2 1 7 0 8 0-5 1-5 0-40 0 38 1 15 0 2 0-36 1 23 0 9 1 24 0-34 0 6 1 0 0-20 0 21 1 11 0-17 0-3 1 10 0-23 0 19 1 6 0-3 0-11 1-13 0 15 0-1 1-4 0 27 0-18 1 11 0-39 0 28 1 9 0 12 1-20 0-16 0 9 1 0 0 8 0-6 1 8 0-10 0 42 1-57 0 6 0 19 1-17 0 12 0 11 1-2 0-10 0-14 1 3 0 6 0 7 1-11 0-7 0 51 1-46 0 17 0-28 1 48 0-28 0 24 1-38 0 16 0 9 1-8 0 31 0-5 1-42 0 14 0 3 1-3 0 14 0 4 1-4 0-17 0 25 1-42 0 18 0-26 1 17 0 6 0 4 1 11 0-17 0-7 1 13 0-18 0 15 1-13 0-24 0 40 1-6 0-25 0 16 1-2 0 4 1 4 0-14 0-2 1 33 0-3 0-18 1 22 0 5 0-15 1-1 0 40 0-27 1-14 0-6 0 20 1 2 0-6 0-15 1 16 0 13 0-14 1 17 0-13 0-13 1-6 0 10 0-9 1 9 0 11 0-5 1-7 0 12 0 8 1 7 0 3 0 7 0 2 0-17 1-2 0-1 0-11 0 13 1-21 0 3 0 1 1 17 0-15 0-21 1 37 0-18 0 32 1-11 0-20 0-25 1 15 0 3 0 15 1 41 0-33 0-20 1 1 0-7 1-31 0 23 0 4 1 4 0 8 0 11 1 8 0-27 0 4 1 5 0 13 0-23 1 4 0-1 0 12 1 7 0-15 0-9 1 22 0-2 0 5 1-26 0-8 0 22 1 28 0-88 0 44 1 19 0 1 0 8 1-31 0 16 0-1 1 0 0-35 0 34 1-6 0 13 0 3 1-7 0-7 0-6 1 31 0-22 0 25 0-24 1 37 0-29 0-8 0 12 0 5 0-4 0 13 1-31 0 3 0 8 1-11 0 1 0-15 1 27 0-14 0-41 1 54 0-33 0 21 1-9 0 17 0-5 1-12 0 24 0 5 1-13 0-11 1 13 0-31 0 10 1-7 0 12 0-2 1-9 0 26 0 2 1 28 0-40 0 6 1-10 0-3 0 16 1-10 0 14 0 4 1-15 0-3 0 6 1-8 0 12 1-2 0-6 0 3 1 8 0-16 0 13 1 1 0-2 0-2 1-24 0 28 0 23 1-13 0 1 0-28 1 27 0-20 1-17 0 30 0-9 1 6 0 8 0-7 1 22 0-9 0-35 1 12 0-6 0 15 1-13 0 11 0 11 1-3 0-4 0 10 1 6 0-6 0-12 1-15 0 2 0 18 1-19 0 15 0-2 1-6 0 10 0-1 1-7 0-9 0-30 1 17 0 33 0 28 1-50 0 9 0-11 1 4 0 8 0 5 1-2 0-13 0 14 1-17 0 27 0 2 1 9 0-25 0-3 1-1 0 12 0-13 1 10 0 12 0-43 1 15 0 15 0 22 1-23 0-9 0 12 1 16 0-20 0-8 1 12 0-8 1-2 0-15 0-15 1 22 0 4 0-25 1 37 0-15 0 22 1-19 0-1 0 7 1-2 0-6 0-2 1 19 0-3 0 2 1 7 0-12 0-6 1-15 0 23 0-3 1 9 0-18 0 23 1-24 0 4 0 13 0 8 1-12 0-4 0-9 1 42 0-31 0 25 0-9 0 2 0-10 1 11 0-22 0 7 0 1 1-15 0 2 0 3 1 8 0-22 0 37 1-31 0 1 0 8 1-7 0-27 0 38 1-16 0 13 0-2 1-9 0 21 0-12 1 1 0-23 0 7 1 43 0-19 0 9 1-11 0 8 0 7 1-25 0-29 0 21 1 23 0-8 0-29 1 36 0-3 0-13 1 20 0-11 0 16 1-28 0 6 0-30 1 63 0-30 0-9 1 14 0-6 0-7 1 28 0-16 0-17 1 18 0 7 0-17 1 15 0-14 0-18 1-13 0 41 0-1 1-3 0 11 0-34 1 36 0-6 1-3 0 18 0 1 1-24 0 8 0-5 1-20 0 18 0 7 1 2 0-20 0-1 1 31 0-23 0 18 1 0 0-7 0 9 1-19 0 22 0-20 1-1 0-5 0 41 1-37 0 14 0-8 1-12 0 25 1-48 0 25 0 9 1-10 0 13 0-3 1 3 0 16 0-36 1-16 0 18 0 2 1 4 0-2 1 10 0 14 1-18 0 36 0-33 1 13 0-25 0 13 1 11 0-9 0-2 1-28 0 19 0 32 1 25 0-68 0 23 1-17 0 58 0-51 1 7 0 13 0-23 1 20 0-13 0 3 1 1 0 10 0 9 1-16 0 4 0-18 1 34 0 2 0-16 1-1 0 13 0-14 1 0 0-6 1 31 0-42 0 16 1 18 0-1 0-12 1-9 0-7 0 23 1-19 0-2 0 21 1-16 0 7 0-6 1 4 0-16 0 5 1 1 0 8 0-12 1 23 0-7 0-5 1-29 0 19 0 14 1 13 0-9 0-12 1 1 0-43 0 39 1-4 0 9 0 7 1-10 0 18 0-20 1 8 0-5 0 6 1-25 0 18 0 5 1-9 0 15 0-1 1-12 0 10 0-4 1 5 0-3 0 17 1 14 0-34 0 4 1-7 0-9 0 16 1-24 0 32 0 2 1-25 0-6 0 35 1 9 0-19 0-5 1-33 0 27 0-11 1 22 0-8 0-1 1-3 0-3 0 9 1-12 0 14 0-13 1 29 0-2 0-8 1-5 0-6 0-14 1-3 0 45 0-10 1-18 0 15 0 11 1-24 0-3 0 2 1-3 0-25 1 32 0 7 0 3 1-16 0 28 0-16 1-11 0 7 0-4 1 10 0-30 0 41 1-17 0 4 0-6 1 1 0-15 0 9 1 5 0-4 0 7 1 8 0-2 1-37 0 20 0-12 1-9 0 30 0 6 1-18 0 6 0 6 1-15 0 40 0-39 1 14 0-34 0 19 1-5 0-2 0 15 1 0 0-10 0 3 1-7 0 15 0-23 1 10 0 23 0 29 1-33 0 18 0-17 1-41 0 19 0 27 1-8 0-2 0-25 1 23 0 24 0-18 1 21 0-15 0 20 1-29 0 8 0-5 1-22 0 52 0-35 1-1 0-17 0 15 1 2 0 2 0-11 1-10 0 3 0 6 1 16 0-14 0 7 1 4 0 16 0-5 1-47 0 56 0-18 1-15 0 5 0 7 1-2 0 3 0 11 1-32 0 16 0-11 1-3 0-3 0-6 1 25 0 8 0-18 1 7 0-8 0 21 1-29 0 7 0 14 1-8 0 4 0-3 1 3 0 21 0-18 1-4 0 4 0-16 1 8 0 20 0-2 1-17 0 6 0 11 1 8 0-1 0-35 1 69 0-41 0-18 1-6 0 16 0 6 1 15 0-67 0 31 1 9 0 6 0 10 1-22 0-6 0-21 1 24 0 34 1-40 0 32 0 6 1-22 0-10 0 27 1-14 0 15 0-13 1 1 0 14 0-28 1-10 0 39 0-46 1 19 0-2 0 8 1-7 0 18 0-17 1-27 0 29 0-11 1 20 0 7 0-18 1-2 0 3 0-35 1 38 0 4 0-13 1-2 0 23 0-10 1 6 0-10 0 22 1-7 0-13 0 3 1-34 0 37 0-24 1 25 0 21 0-31 1 34 0-30 0-2 1 0 0 19 1-15 0-17 0 6 1-2 0 11 0 11 1-15 0-2 0 4 1-4 0 21 0 4 1-29 0 13 0-2 1-10 0-5 0 14 1 39 0-29 1-15 0 17 0-4 1 7 0 3 0-11 1-17 0 12 0-4 1-6 0 9 1-8 0-1 0 14 1 8 0-10 1-15 0 46 0-13 1-30 0 14 0-5 1-19 0 39 0-30 1 19 0-9 0-9 1 2 0-2 0 9 1 9 0-24 0-24 1 51 0 3 0-5 1 5 0-28 0 7 1 4 0-7 0 1 1-2 0-2 0 7 1 3 0 11 1-24 0 28 0-14 1-11 0-17 0 29 1 6 0-12 0 9 1-9 0-5 0 9 1-3 0 15 0-4 1 21 0-39 0 21 1-10 0 4 0 7 1-8 0 22 0-13 1-19 0-13 0 44 1-25 0-7 0 5 1-19 0 40 0-21 1 8 0 21 0-9 1-27 0-2 0 13 1-9 0 4 0 1 1 2 0 36 0-31 1 4 0 5 0 13 1-10 0-1 0-7"/>
<path marker-start="url(#mms)" marker-mid="url(#mms)" marker-end="url(#mms)" d="M55 242l0 4 0-3 1 2 0 8 0 5 1-4 0 5 0 8 1 4 0-14 1 7 0 10 0 4 1-2 0 3 0 3 1-6 0 8 0-5 1-11 0 17 0-2 1 1 0-4 0 5 1-7 0-3 1 5 0-7 0 10 1-4 0 2 1 4 0 2 0-15 1 13 0 3 0-6 1 7 0-2 0-5 1 6 0-34 0 30 1-16 0 14 0-4 1-10 0 12 0-2 1 6 0-16 1 18 0 1 1-3 0 2 0 1 1-3 0 2 0-7 1 5 0-11 0 4 1 10 0-6 1 0 0 14 0-4 1 2 0 4 1-12 0 8 0 4 1-10 0 5 1-10 0 8 0 4 1 4 0-1 0-7 1-6 0-5 0-3 1 13 0-1 0-6 1-10 0 3 1 0 0 2 1-5 0-28 0 35 1 1 0-4 0-3 1 0 0 5 0-37 1 36 0 5 1-22 0 19 0-17 1 19 0-24 0 2 1 15 0-8 1-10 0 4 0 6 1-12 0 12 0-2 1-3 0 7 0-14 1 13 0-3 0-3 1-5 0 11 0 2 1-6 0 9 0-10 1 11 0-2 0-4 1-35 0 40 0 3 1-28 0 22 0-2 1 8 0 7 1-40 0 21 1-4 0-10 0 14 1-7 0 8 0-4 1-5 0 11 0-7 1-12 0-3 0-15 1 14 0-5 0-2 1 1 0-5 0 9 1-17 0 13 0-17 1 25 0 6 0-10 1 13 0-4 0 10 1 3 0-3 0-23 1 16 0 11 1-10 0-9 0-19 1 26 0 3 0-7 1-5 0 11 0 20 1-1 0-20 0-4 1 24 0-4 0-5 1-7 0-1 0 7 1-3 0-1 0-4 1 9 0-2 0-13 1-14 0-12 0-4 1 26 0-13 0 18 1-6 0 10 0-26 1 15 0 3 0-11 1-1 0 14 0-3 1-12 0 16 0 8 1-13 0 7 0 4 1-3 0-20 0 14 1 1 0 3 0 4 1-3 0-3 0-8 1 11 0 1 0-15 1 12 0-8 0 4 1-4 0 1 0 3 1-2 0-1 0-5 1-2 0 7 0-37 1 37 0-10 0 17 1-13 0 5 0 10 1-6 0 3 0-10 1-14 0 9 1-1 0 2 0-5 1-7 0 2 0 5 1 5 0 1 1-22 0 8 0-17 1 17 0 5 0 2 1-11 0 3 1 1 0-1 0-27 1 24 0 20 0 2 1-1 0-1 0 3 1 8 0 6 0 4 1-8 0-10 0 8 1-22 0-4 0 31 1-17 0 9 0-8 1-1 0-2 0-7 1-12 0 13 0 3 1 7 0 3 0 3 1 7 0 2 1-5 0-4 0-1 1-1 0 8 0-2 1-6 0-13 1 8 0-11 0 16 1-7 0 1 0-21 1 12 0 22 0 3 1-24 0 26 1 8 0-5 0-12 1-37 0 40 0-8 1 7 0-6 0 2 1-6 0-7 0 14 1-5 0 2 0 6 1-3 0 4 0 2 1-4 0-24 0 17 1 7 0-31 0 38 1-3 0-20 0 3 1 5 0 4 0 8 1 0 0 5 0-11 1-10 0 18 0 2 1-5 0 11 0-12 1-3 0 6 0 9 1 6 0 1 1-8 0-13 0 15 0-20 1-22 0 26 0-33 0 17 0-9 0 8 1-26 0 38 0-21 0 24 0-19 0-21 0 39 1 7 0-29 0 23 1 23 0 3 0-6 1 12 0-13 0 10 1 2 0-9 0-6 1 1 0 16 0-10 1 17 0-8 1 7 0 4 0-16 1 24 0-25 0-3 1 17 0-38 0 33 1-4 0-37 0 40 1-13 0-2 0 12 1-10 0 5 0 9 1-42 0 47 0-8 1 3 0-14 0 15 1-11 0 7 0-1 1 4 0-4 0-7 1 5 0-26 0-12 1 40 0-14 1 12 0-12 0-4 1 3 0-6 0 2 1 8 0-4 0-18 1 20 0-3 0-9 1 6 0-4 0-24 1 22 0 5 1-26 0 34 0-2 1-11 0 13 0-11 1-8 0 14 0-13 1-3 0-15 0 16 0 10 0-25 0 17 0 6 0-1 1-24 0 19 0-26 0 30 0 5 0-40 0 37 1-38 0 13 0 28 0-25 0 13 0-24 1 12 0-7 0 25 1-12 0 14 0 5 1-14 0 10 0-2 1-6 0 8 0-1 1 2 0-7 0 9 1-6 0 5 0 6 1 2 0 2 0-29 1 27 0-1 0 4 1 6 0-4 1 3 0-3 0 1 1-54 0 35 0 5 1 14 0-2 0-8 1 11 0-4 0-1 1-10 0 2 0-3 1-24 0 25 0-4 1 4 0 3 0-1 1-5 0-11 0 20 1-1 0-7 0 5 1 0 0 10 0-1 1-3 0-12 1 10 0-3 1 10 0-2 0-16 1 16 0-3 0-9 1 2 0-9 0 13 1-2 0-6 0 7 1 3 0-7 0-2 1-4 0-44 0 13 0 19 0-13 0 21 1-24 0-8 0 36 0 3 0-49 0 19 0 11 0-49 0-38 0 90 0-32 0-10 0 38 0 18 0-42 0-57 1-22 0 124 0-58 0-27 0 8 0 68 0-2 0-60 0-44 0 52 0 48 1-23 0 27 0 14 1 5 0 12 0-1 1-3 0-2 0-2 1 6 0-11 0 5 1 3 0-1 1 7 0-11 1 15 0-3 0-6 1 1 0-4 0 7 1-21 0 11 0 12 1-2 0 5 0-3 1 1 0-2 0 4 1-27 0 22 0-2 1-4 0-11 0-10 1 27 0-7 0 3 1 4 0-10 1-2 0 9 0-14 1 16 0-5 0-7 1 10 0 2 1-7 0-3 0 9 1-2 0 10 0-4 1 6 0-8 0-9 1-3 0 7 0 2 1 2 0 8 0-18 1 20 0-2 0-3 1-12 0 19 0-3 1 4 0-11 0 3 1-17 0 9 0 8 1-7 0 7 0 4 1 5 0-8 0 10 1-15 0 3 0-4 1-21 0 9 0 8 1 9 0-25 0 22 1-25 0 29 0 2 1-20 0 22 0-4 1 4 0-42 0 32 1 2 0-5 0 4 1 3 0-3 0-2 1-2 0 5 0-1 1 2 0-9 0 4 1 7 0-11 0 4 1 5 0-1 0 3 1-19 0 3 0-10 1 33 0-17 0 12 1 4 0 1 0-2 1-1 0-1 0 4 1-20 0 15 0 4 1 0 0-12 0 10 1 2 0-5 0 7 1-21 0 3 0 8 1 9 0-16 0 4 1 4 0 4 1 3 0-5 1 0 0-14 0 13 1-19 0 24 0-7 1 11 0-5 0-7 1 8 0-6 0-8 1 2 0-15 0 18 1 0 0 6 0-30 1 25 0 4 0 4 1 5 0-6 0-1 1-2 0-6 1 3 0-5 0-1 1 9 0-6 1 11 0-1 1-7 0 3 0-6 1 2 0 1 0-3 1 4 0-35 0 39 1-11 0 4 0 5 1-7 0 1 0-6 1-2 0 4 0 2 1-4 0 6 0-10 1 8 0-9 0 2 1 7 0 3 0-1 1 3 0 3 0-4 1 0 0 10 0 4 1-9 0 11 0-1 1-16 0 6 0-8 1 2 0 1 0-18 1 18 0-6 0-4 1 2 0-9 0 2 1-6 0 10 0 7 0-22 0 6 1 5 0 5 0-17 0 3 0 3 0-21 0 11 0-6 0 9 1-29 0 10 0 32 0-31 0 42 0-5 0 8 0-28 1-10 0 18 0 3 1 9 0-2 0-3 1 0 0 2 0 2 1 8 0 2 0 7 1-8 0 12 0 2 1-12 0 3 1-17 0 9 0-13 1 2 0 5 0 6 1 1 0 4 0-8 1 14 0 7 0 1 1-6 0 3 0-7 1 3 0-42 0 28 1 3 0 2 0 5 1 5 0-8 0 2 1-2 0-13 0-3 1 5 0-1 0-2 1-7 0 10 0 3 1 0 0 2 0 3 1-35 0 39 0-13 1 9 0-7 0 5 1-7 0 10 0-5 1 4 0-17 1 14 0 3 0 4 1-3 0 9 0-8 1-32 0 32 0-39 1 34 0 4 0-10 1 9 0 4 0-2 1-4 0 7 1 1 0-4 0 1 1-27 0 6 0-19 0 11 0 11 0-52 1 14 0-5 0 3 0 22 0 7 0-54 0 20 0 33 0-2 0-42 0 2 0 26 0-36 0 55 0-40 1-34 0 71 0 8 0-24 0 28 0 1 1-19 0 18 0 7 1 15 0 4 1-14 0 2 0-4 1-5 0 4 0 8 1-1 0-6 0 5 1 4 0 2 0 2 1-8 0 6 1-14 0 12 0-8 1 11 0-10 0 4 1 2 0-2 1-5 0 7 0 5 1 0 0 5 0 1 1-1 0-11 0 9 1 3 0-1 1-12 0 1 1-26 0 26 0-12 1 6 0 7 0 1 1-2 0-1 0 5 1-12 0 9 0 2 1-4 0 3 1-5 0 4 1-13 0 15 0-1 1-10 0 17 0-1 1-1 0 3 1-11 0-7 1 2 0-1 0-3 1 6 0-3 0 5 1-23 0 22 0 3 1-5 0-7 0 4 1-4 0 1 0-4 1-4 0-2 0-7 1 13 0-3 0-3 1 6 0 5 0 2 1 1 0 2 0-7 1 3 0 2 0 5 1-4 0 2 1-6 0 6 0-9 1 12 0-11 0 12 1-12 0 7 0 5 1-14 0 5 0-23 1 38 0 3 1-3 0 2 1 2 0-12 0-8 1 22 0-1 1 2 0-11 0 5 1-4 0 1 0-6 1-1 0-15 0 10 1-17 0 16 0 9 1-6 0 6 0-5 1 0 0-2 1 0 0-13 1 16 0 1 0 1 1-16 0 18 0-16 1 9 0 8 0 3 1-1 0-12 0 10 1-8 0-2 0 3 1 0 0-6 0 13 1-1 0-5 0 7 1 3 0-1 0-35 1 18 0-8 0 20 1-3 0-10 0 4 1 3 0-2 0-16 1 25 0-4 0-4 1 18 0-9 0 4 1-1 0 1 0-9 1-2 0 2 0-1 1 1 0-8 0 7 1 7 0-3 0 5 1-2 0-12 1 10 0 2 1-7 0 10 1-1 0-1 1-5 0-33 0 35 1-32 0 27 0-1 1-12 0 16 0-29 1 30 0 2 0 1 1 2 0-23 0 20 1-6 0-4 0 1 1 9 0-13 0 14 1-3 0-3 0 5 1-8 0 4 0-2 1 5 0 5 0-18 1 15 0-5 0 1 1-7 0 5 0 6 1-6 0 11 0-9 1 3 0 7 0 4 1-4 0 3 0-4 1 8 0-4 0-44 1 41 0-13 0 2 1-2 0 7 0 3 1-12 0 6 0 2 1-12 0 7 0 3 1-9 0-6 0 10 1 2 0 3 0-2 1-7 0-4 0-1 1 4 0 4 0-54 0 33 0-39 0 43 0 1 0 9 0 5 0-3 0-8 1-30 0 14 0 17 0 12 0-70 0 4 0 19 0-5 0-25 0 62 0-31 0-36 1-18 0 22 0 3 0 63 0-49 0-3 0 37 1-28 0 47 0-10 1 15 0 9 0 3 1-22 0 27 0 2 1-2 0-10 0 13 1-3 0 3 1-3 0-4 0-1 1-1 0 2 0-19 1 19 0-2 0 5 1-18 0 23 0-11 1 11 0 2 0-11 1-6 0 15 0 1 1-4 0-4 0 3 1 1 0-2 0-6 1 7 0-4 0 10 1 1 0-9 0 11 1-6 0 8 1 1 0-1 0-38 1 33 0 1 1-2 0-4 0-7 1 6 0 2 0-3 1 7 0 3 0-6 1-8 0 11 0-8 1-5 0-15 0-4 1 18 0 2 0 5 1-7 0 5 1-1 0 2 0-1 1-6 0-1 0 5 1-1 0-10 0-2 1 6 0-5 0-5 1 3 0 4 0 4 1-1 0 8 0-5 1 3 0-7 0-13 1 19 0-10 0-4 1 5 0-7 0 1 1-15 0 8 0-10 1 4 0-2 0-1 1 1 0 5 0 1 1-12 0-5 0 6 1 3 0-11 0 4 1-5 0 3 0-8 1 11 0 1 0-13 1-4 0 1 1 5 0-14 0 10 1 3 0-13 0 3 1 14 0 2 0-5 1 6 0 4 1 6 0-19 1 22 0 1 0-4 1-13 0 11 1-6 0-14 0-9 1 29 0 9 0-18 1 19 0 2 0-3 1 3 0-7 0 8 1-20 0 9 0 14 1-12 0 3 0 3 1-6 0 14 0-3 1 11 0 1 0 1 1 5 0 4 0-9 1 5 0-28 0 18 1-3 0-8 0-25 1 18 0-17 0 14 1-2 0 3 0-1 1 7 0-27 0 11 1-1 0 4 0-6 1 3 0-18 1-4 0 17 0 6 1-9 0 6 0 2 1-5 0 2 0-1 1 1 0-24 0 23 1-9 0 3 0 1 1-14 0 5 0-1 1-9 0 3 0 9 1 0 0-1 0-11 1 1 0 8 0 4 1 2 0 2 0-13 1 13 0-3 0 6 1-4 0 2 1-7 0 3 0-5 1 8 0 2 0-7 1-8 0 1 0-2 1-12 0 5 1-3 0 3 0-4 1 12 0-6 0-9 1-4 0 4 0 11 1 2 0-2 0-14 1 3 0-7 0 11 1-1 0 1 0-6 1-1 0 10 0 1 1-14 0 18 0-13 0 15 1-29 0 25 0 4 0 2 0-4 0-7 0-6 1-16 0 12 0-2 0 5 0 1 1-6 0 9 1 6 0-5 0 2 1 9 0-10 0 6 1-1 0 20 0-9 1 13 0 1 1-2 0 7 0-2 1-22 0 15 0-8 1 7 0-2 1 7 0-4 0-1 1 4 0 4 0-22 1 22 0-3 0-13 1 8 0 15 0-4 1-2 0 9 0-18 1 14 0 7 0-2 1 0 0-6 1-2 0 4 0 5 1-12 0 12 0-11 1-8 0-4 0 13 1 15 0-9 0 13 1-5 0 10 0-6 1 4 0-5 0 6 1 2 0-32 0 38 1-3 0-1 1-22 0 20 0-6 1-4 0-6 0 15 1-2 0 1 0-8 1 11 0 9 0-2 1 5 0-6 0 3 1-19 0 16 0-1 1 1 0-16 0 15 1 2 0-12 0-3 1 3 0-3 0 4 1 3 1-7 0 22 0-4 1-3 0 5 0 8 1-5 0-4 0 3 1-36 0 7 0 23 1-6 0-2 0 4 1 6 0-1 0-4 1-4 0 4 1-9 0 9 0 3 1-13 0 1 0 10 1-10 0 13 0 2 1-1 0-2 0-2 1-3 0-3 1 4 0-6 0-4 1 2 0-1 1-8 0-1 1 5 0-19 0 17 1 10 0 5 0-2 1-14 0 14 0-4 1-10 0-2 0 12 1-6 0 8 0 4 1-12 0 11 0-6 1 2 0-7 0 3 1-8 0 4 1 4 0-6 1 8 0-16 0 19 1-6 0-3 1 11 0-1 0 7 1-33 0 31 0 1 1 0 0-7 0-5 1 9 0-6 0 4 1-19 0 9 0 7 1-4 0-19 0 22 1 4 0-4 0-3 1 9 0-2 1 4 0-4 1 1 0 1 0 4 1-3 0 5 0 6 1-14 0 18 0-8 1 8 0-23 0 25 1-12 0 14 0-6 1 5 0 2 0 1 1 0 0-11 1 7 0-16 0 3 1-6 0 6 0 5 1-12 0 17 0 6 1-18 0 21 0 2 1-8 0-3 1 0 0-5 0 2 1 0 0 3 0 1 1 3 0 3 1-3 0-17 0 5 1 1 0 1 0-2 1 2 0-5 0 6 1 6 0-12 0 11 1 1 0-10 0 4 1 4 0-11 0 7 1-11 0 11 0-8 1-1 0-2 1 10 0-3 1 0 0-7 0 5 1 2 0-1 1 3 0 1 0-2 1-36 0 30 1-2 0 4 0 4 1-5 0-5 1 7 0-23 0 26 1-12 0 7 0 11 1-14 0-1 0 16 1 3 0-10 0 5 1-2 0-1 0-20 1 7 0 10 0-13 1 7 0-3 0-2 1 6 0-7 0 3 1 5 0-7 0 3 1 0 0-14 0-4 0-12 0 24 0-2 1-17 0-13 0 23 0-3 0 6 0 9 0-40 0 37 1-51 0 20 0-9 0 2 0 6 0 35 0-20 1 15 0-14 0 17 1 12 0 1 1 0 0-2 0 4 1 1 0-3 0-9 1 8 0-9 0-5 1 27 0-14 0 5 1 0 0 9 0-2 1-1 0-2 0-3 1-1 0 4 0-7 1 4 0 3 1 2 0-6 0-7 1 12 0-4 0-6 1 12 0-5 1 2 0 2 1-5 0-14 0 19 1-3 0-4 0 6 1-6 0 4 0-10 1 4 0-12 0 13 1-1 0-5 0 3 1 0 0-12 0 6 1 4 0-1 0 2 1 0 0 8 0-1 1-4 0-1 0-3 1-1 0-8 0 3 1-2 0-5 0-3 1 3 0 7 0-11 1 3 0 7 1-1 0-6 0 7 1 2 0 3 0 2 1-10 0-1 0 8 1 2 0-4 0 1 1-9 0 3 0-1 1 3 0 2 0 7 1 0 0 6 0-1 1-3 0 3 0-9 1 6 0 3 1-6 0 2 0-8 1 6 0-18 1 22 0-11 1 10 0 2 0-3 1-6 0 9 0-1 1-4 0 3 1-12 0 13 0-12 1 5 0-2 1 7 0-6 0 5 1 8 0-5 0 3 1-6 0 11 0-20 1 20 0-3 0-1 1-1 0-5 0-4 1 2 0 3 0 2 1 0 0-1 1-3 0 10 0-8 1 12 0-7 0-6 1-18 0 21 0 7 1-5 0 9 0-6 1 6 0-4 1-2 0 12 0-10 1 8 0-17 1 10 0-2 0-25 1 35 0-2 0 3 1-4 0-3 0 4 1 6 0-5 0-4 1 1 0-5 0 9 1-11 0 7 0 8 1 0 0 1 0-10 1-6 0 3 0 4 1-5 0-6 0 19 1 0 0-14 0 2 1 13 0-1 0 3 1-7 0 7 0-22 1 11 0-5 1 15 0-4 1-1 0-3 1-17 0 5 0-3 1 0 0-4 0 1 1-4 0-22 0 21 1 4 0-1 0-15 1 13 0 2 0 1 1 1 0 3 0-4 1 4 0-33 0 37 1-5 0 2 1 1 0 1 0-2 1 2 0 2 0 3 1-6 0-7 0-51 1 22 0-18 0 11 0-29 0 43 0-11 0 19 0-40 0 34 0 11 0-80 0 50 0-39 1 52 0-53 0 74 0-16 0-31 0-25 0-10 0 42 0-60 0 89 0 10 0-77 0 74 1-51 0 31 0 3 1 5 0 11 0 10 1 1 0-3 0 12 1 2 0-7 0 8 1-2 0 4 0-9 1 6 0-9 0-1 1 8 0 1 0 2 1 1 0-4 0-16 1 17 0-1 0-2 1 5 0-6 0-4 1-22 0 19 0 6 1 0 0-3 0-15 1 7 0-30 0 32 0-15 0-1 1-7 0-11 0 14 0-23 0-16 0 40 0 2 0-1 0-8 0-20 0 16 0 1 1-40 0 37 0-15 0 9 0 14 1 3 0 19 0 13 1 5 0-9 1 3 0 4 1-17 0 9 0 2 1 3 0 1 1 4 0-9 0 8 1-5 0-8 0 11 1 2 0-1 0-37 1 36 0 5 0-8 1 6 0 2 1 2 0-18 1-5 0 23 0-4 1 9 0-8 1 3 0-3 0-6 1 0 0-7 1 9 0 4 0-5 1 1 0-1 0-11 1 1 0 13 0 7 1-2 0-1 0 7 1 3 0-8 0 5 1-4 0-6 1-2 0 5 0 3 1 2 0 2 0 5 1-5 0-5 0 2 1-9 0 7 0-8 1-6 0 5 0 6 1-11 0 3 0 3 1 8 0-4 0-9 1 9 0-9 1-17 0 20 0-12 1 9 0-7 0-5 1 15 0-3 1-4 0-23 0 14 1 9 0-3 0 2 1-7 0 10 0-3 1 9 0-4 0 7 1-14 0 14 0-8 1-3 0-3 0 1 1 0 0-5 1 7 0 2 0 2 1 3 0-19 0 20 1 3 0-6 0 7 1-6 0 1 0-32 1 31 0 1 1-7 0 10 0 2 1 3 0-4 0 1 1 3 0-27 0 15 1 7 0 5 1-3 0 6 0-1 1-5 0 5 0-12 1 17 0-16 0 9 1-1 0 1 0 4 1-3 0 1 0-16 1 1 0 9 0 2 1 3 0-12 0 7 1 0 0-4 0 6 1-7 0 10 0 1 1 3 0 1 0 2 1-7 0 1 0 1 1-4 0-2 0-2 1-34 0 35 0-21 1 15 0 10 0-3 1-8 0-1 1 4 0 1 0 3 1-2 0 5 1 3 0-3 0-7 1 0 0 10 0 3 1 5 0-9 0 7 1 3 0-1 0-7 1 0 0 3 0-2 1-2 0-9 1-3 0-2 0 4 1 3 0-3 1 7 0 4 1 9 0-6 0 9 1-1 0-4 0 1 1-1 0-8 1 2 0-11 1 9 0 1 0 3 1-3 0-18 0 16 1-7 0 4 0-10 1-12 0 15 0 14 1 5 0-9 0-8 1 12 0 2 0 3 1-3 0 1 0-3 1 2 0-26 0 25 1-7 0-1 0 8 1-5 0-1 0-12 1 5 0-4 0-1 1 9 0-4 1-4 0 9 0-6 1-14 0 9 0-13 1 1 0 8 0-20 1 15 0 5 0 8 1-4 0-1 0 10 1 2 0-9 1 6 0-5 0 3 1-12 0 10 0-30 1 32 0-5 0-6 1 16 0-20 0 22 1-5 0-3 1-4 0-3 0-5 1 4 0-10 0 5 1 3 0 3 0-17 1 11 0 7 0-2 1-10 0 13 0-11 1 11 0-3 0 7 1-1 0-13 0 6 1 7 0-6 0-18 1 7 0 13 1-23 0 16 0 6 1 1 0-2 0 1 1-10 0-10 0 7 0-1 0-11 0-38 0 22 1 31 0-25 0-11 0-4 0 36 0 3 0-23 0-48 0 22 0-5 0 18 0 38 0-59 1-50 0 108 0 1 0-14 0-44 0-32 0 86 0 2 0-55 0 54 0-17 1-21 0 19 0-14 1 34 0 4 0 9 1 0 0 2 0 3 1-6 0 4 0-27 1 29 0-4 0-7 1 6 0 10 0-1 1 1 0-14 0 8 1-6 0 5 0-8 1 5 0 2 0-1 1 5 0-3 1-5 0-14 0 23 1 1 0-4 0-28 1 33 0-4 1 3 0-3 0 6 1 6 0-4 0 2 1-14 0 8 0-5 1 5 0 1 1 7 0-9 1-4 0 13 0-6 1-1 0 3 1-4 0-5 0 6 1 0 0-5 0 2 1-8 0 5 1 1 0-18 0 13 1-33 0 45 1-5 0-16 0 4 1-3 0 2 1 0 0 5 1 1 0-3 0-9 1 4 0-5 0-4 1 11 0-4 0 9 1-6 0-2 0-7 1-1 0-6 0-15 1 20 0-5 0-6 1 9 0-9 0 7 1-4 0-4 1 6 0-17 0 12 1-12 0 9 0-2 1-2 0-8 1 4 0-9 0-3 1 5 0-1 0 7 1-3 0-16 0 14 1-13 0 14 0-16 1 17 0-20 0 21 1-6 0 2 0 2 1 2 0-2 0-8 1 2 0 7 0-3 1 7 0-6 0-3 0-4 1-9 0 7 0 1 0 10 0-27 0 33 0-22 0 8 0-5 0 18 1-35 0 10 0 25 0-27 0-4 0 18 1 9 0 1 0 3 1 3 0-8 0-29 1 31 0 9 0-1 1 2 0 3 0 5 1 2 0 4 0 1 1-3 0 3 1-5 0 3 0-13 1 1 0 16 0-3 1 4 0-1 0 6 1-4 0-3 0 9 1 2 0-8 1-1 0-4 0 5 1-8 0 7 0-6 1 10 0-2 0-7 1-9 0 20 0-5 1 6 0-1 0-1 1-2 0-6 0-7 1-3 0 15 1-13 0 16 0-20 1 5 0-5 0-6 1 13 0-4 0-7 1 8 0 1 0 2 1 2 0-8 0-10 1 6 0 5 0-13 1 9 0 4 0 7 1-2 0-6 0 14 1-4 0-1 0-7 1-20 0 20 0-2 1-11 0 6 0-15 1 5 0 6 0-24 1 19 0 8 0 5 0 3 1 2 0-12 0-6 0 7 0 4 0-13 0 4 0 12 1-25 0 3 0 12 0-3 0 2 1 4 0 5 1 4 0 1 0 2 1-2 0-1 0-5 1-3 0 11 1 2 0-3 1 2 0 8 0-1 1-2 0-5 0 10 1 2 0 1 0-9 1-19 0 26 0 13 1 0 0-1 0-13 1 10 0 1 1 2 0 5 1-4 0-12 0-6 1 14 0-20 0 9 1 9 0 2 1 0 0-6 0-2 1-31 0 33 0-1 1-7 0-3 0 2 1-2 0 7 1-20 0 24 0-2 1-5 0 5 0 1 1-3 0 4 0-5 1-4 0 5 0-25 0-7 0 36 1-12 0-1 0 8 0-15 0 9 0-16 0 10 0-12 0 15 1-23 0 10 0-4 0 10 0-2 0 5 1 2 0 5 0 2 1 16 0 6 0-8 1 1 0-2 0-6 0-26 1 20 0 5 0-9 0-11 0-5 0 26 1-30 0 14 0-4 0 13 0-16 0 2 0 18 0-3 1 11 0-9 0 18 1 4 0 4 0 2 1-7 0 9 1 5 0-1 0 3 1 3 0 8 1-3 0-1 0-4 1-1 0-8 1-1 0-26 1 29 0-2 0 5 1 0 0-17 0-19 1 25 0 3 0 1 1-6 0-3 0-6 1-26 0 19 0-1 1-4 0-3 1 1 0 9 0-1 1-8 0 7 0 3 1-4 0-1 0-1 1-4 0-3 0 1 1-5 0 6 0-2 1-4 0-17 0 19 1-11 0-7 0 10 1 1 0-7 1-4 0 2 0 3 1-8 0 2 0 1 1 3 0-1 1 1 0-4 0 7 0-15 1 4 0 18 0-3 0-18 0 20 0-7 0 2 0-9 0 13 1-22 0 1 0 5 0 3 0-19 1 10 0 24 0-20 0-12 1 14 0 2 0 1 1 5 0-6 0 4 1 0 0-4 0 12 1 3 0-1 1 7 0-10 1 14 0 4 1-22 0 28 0 7 1 2 0-3 0 5 1-5 0-5 0 6 1 3 0-10 0 13 1 8 0-2 0-4 1 4 0 3 0 2 1-2 0-1 0 2 1-1 0-2 0 6 1-2 0-6 0-4 1 7 0-39 0 41 1-22 0 23 0-5 1 4 0 4 0 3 1-18 0 19 1-8 0 10 0-1 1-13 0 2 0-6 1 6 0-8 0 5 1-7 0 5 0 3 1 3 0-4 0 3 1 0 0-3 0-12 1 6 0-2 0 18 1-10 0 3 0-5 1-6 0 2 0 3 1-16 0 16 0 5 1-2 0-3 0 2 1 1 0-11 0 5 1-1 0 3 0-7 1-1 0 3 0 2 1 2 0-1 0-5 1 4 0 4 0-1 1-11 0 7 0 6 1-10 0 9 0-5 1 9 0 2 1 4 0-3 0-3 1 9 0-2 0-8 1 12 0-8 0 6 1-3 0-5 0 2 1-6 0-5 0 6 1 3 0 5 1 0 0-8 0 3 1-11 0 10 0-9 1 8 0-23 0 9 1 7 0 8 0 9 1-18 0 15 0 3 1-6 0-18 0 19 1-5 0-1 0 5 1-4 0 6 1-5 0 5 0-7 1 0 0 1 0 5 1 2 0-3 0-3 1 0 0-7 1 9 0-10 0-6 1 5 0 3 0-2 1 7 0-31 0 14 1 16 0-7 0 8 1-2 0 3 0-2 1-4 0 7 0-3 1 1 0 6 1-43 0 39 0-8 1 6 0-1 0-24 1 21 0 6 0 6 1-5 0 7 1-10 0 10 0-7 1 2 0-6 0 4 1 1 0-26 0 29 1 0 0-13 0 9 1-4 0-13 0 5 1 2 0 5 0 3 1-28 0 30 0 2 1-7 0-36 1 37 0-7 0-23 1 29 0-3 0 5 1 0 0 1 0 8 1-2 0-4 0 8 1-6 0-2 1-17 0-2 0-7 1 7 0-9 0-2 1 10 0 7 0 5 1-3 0 4 1-11 0 11 0-2 1 1 0-6 0-6 1 4 0-1 0-11 1 7 0 9 0-6 1 11 0-11 0-5 1 15 0 2 0 3 1-2 0-19 0 15 1 5 0-6 1-21 0 22 0-6 1 0 0-8 0 18 1 4 0-1 0-4 1 5 0 1 1-7 0-1 0-3 1-2 0-10 0 17 1-1 0-6 0 5 1 4 0-22 1 12 0 9 0-8 1 13 0 6 1-12 0 15 0 1 1-3 0 6 1-6 0-2 1 0 0 4 1-2 0-8 0 3 1-12 0 12 0-2 1-2 0 4 0-1 1-1 0-3 0 2 1-17 0 7 1-8 0 1 0 17 1-1 0 5 0-12 1 10 0 4 0-3 1 5 0-7 0 2 1 4 0-5 0-4 1-7 0 6 0-22 1 20 0-13 0 10 1 17 0-6 0 9 1-10 0 1 0 7 1-21 0 17 0-5 1 2 0-4 0 10 1-8 1-8 0-5 0 1 1 5 0 3 0-1 1-4 0-4 0 10 1-3 0-8 1 5 0 6 0 1 1-4 0-8 1 10 0 1 0-7 1-4 0 8 0-17 1 5 0 5 0-6 1 10 0 3 0-14 1 6 0 14 0-5 1 2 0-1 0-14 1 16 0-25 0 26 1 0 0-13 0 12 1 1 0-6 0-13 1 15 0-5 0 9 1-14 0 16 0-18 1 9 0 5 0 3 1 2 0-17 0 15 1-4 0 5 0-15 1 6 0-3 0 10 1-2 0 7 0-14 1 9 0 1 0 7 1-5 0-9 0 6 1 2 0-1 0-2 1 8 0-7 0-14 1 17 0 1 0-4 1-1 0 3 0 4 1-8 0 8 1-10 0 11 0-15 1 13 0-3 1 0 0 5 1 3 0 3 0-11 1 5 0 5 0 1 1-15 0 4 0 12 1-10 0 8 0 4 1 2 0-4 0-5 1 2 0-3 0-4 1 1 0-1 0-3 1 2 0-4 0-7 1 6 0 1 0 4 1-10 0 10 0 6 1-12 0 6 0-3 1-3 0 6 0-13 1 4 0-20 0 27 1-1 0-3 0-4 1 1 0-1 1 0 0-4 1-7 0 10 0-21 1 24 0-13 0 15 1-5 0-1 0-12 1 8 0-2 0 4 1-4 0 6 0 1 1-9 0 1 0-20 1 3 0 18 0-5 1 2 0 2 0-22 1 19 0-26 0 24 1-8 0 12 1-6 0 9 0 2 1-15 0-1 0 13 1-11 0 12 0-1 1-1 0-1 0 5 1-18 0 11 0-1 1-8 0 11 1-7 0-2 1 4 0-1 0-30 1 23 0 5 0-16 1 6 0 9 0-1 1 0 0-2 0-12 1 12 0-2 1-2 0 1 0 8 1 1 0-5 0 6 1-11 0 11 0-10 1-2 0-9 0 15 1 1 0-1 0 5 0-8 0 2 0-6 1-5 0 12 0-2 0-4 1 10 0-8 0 11 0-8 1 6 0-15 0 18 1 3 0-13 0 11 1-16 0 17 0-35 1 34 0 5 1-5 0 2 0 2 1-1 0 3 1-12 0 11 0-17 1 10 0 2 0 9 1-5 0-5 0 4 1 6 0-7 0 6 1-4 0 3 0-12 1 6 0 5 1-7 0 5 0 4 1 1 0 4 0 1 1-5 0-2 0-2 1 2 0-5 1-1 0 2 0-7 1 7 0 1 1 1 0-15 0 11 1 3 0 1 1-5 0 2 0-5 1-21 0 21 0-16 1 13 0 4 0-1 1-4 0 6 1-18 0 8 0 8 1 1 0-8 1 6 0 3 0-4 1 1 0 2 0 1 1-3 0 2 0 9 1-6 0 3 0-5 1 4 0-9 0-28 1 27 0 2 0-3 1 1 0-1 0-9 1 11 0 5 1 6 0-20 0 17 1-16 0 12 0-16 1 17 0-2 0-3"/>
<path marker-start="url(#mxm)" marker-mid="url(#mxm)" marker-end="url(#mxm)" d="M55 299l1 1 0 3 1-1 0-2 1 0 0 2 1-2 1-2 0 2 1-2 0 1 0 2 1-1 0 1 1 2 0-1 1 0 0 3 1-1 0 1 0-3 1 2 0-2 0 1 1-1 0 1 1 0 0 2 0-1 1 0 0 2 0-4 1 1 0-2 1-1 0-1 0-1 1 0 0 3 1 1 0 2 1 0 0-1 1-1 1 0 0 2 1 0 1-1 0-1 0-2 1 2 0-1 1 0 0-2 0-1 1 1 0-1 0-1 1-1 0 1 0 1 1-1 0-1 0 2 1 0 0 2 0 1 1 2 0-2 0 3 1-1 0-1 1 0 0-2 1-2 0-2 1 0 0-1 1 0 0-2 0-3 1-1 0-2 0 1 1-1 1 0 0 1 1 2 0-2 0 3 1-3 0-2 1 0 0-2 1 0 0 2 0-1 1-1 0-2 1 0 0-5 0 1 1-1 0-1 0-2 1 0 1 0 0 1 1-1 0 1 1-2 0-2 0-1 1-2 0-2 1 3 0 1 1 5 0-1 1 1 0-3 1 0 0-3 1 2 0 1 1 1 0 1 1-1 0-3 1-1 0 1 1-2 0-1 1 0 1 0 1 1 0-2 1 1 1 0 1-1 0 3 1-1 0 2 0-1 1 0 0 2 0-3 1 2 0-2 1-1 0 2 0-1 1 0 0-2 0 1 1-1 1-1 0-1 1-1 0 2 0-3 1 1 0 3 0-1 1 0 0-1 0-1 1 0 0-1 1 0 0-1 1 0 0 1 0-2 1-3 0 2 1-2 0-2 1 0 0-2 1 1 0-3 1 0 0-1 1 0 0 1 0-2 1-2 0 1 1-2 0-2 1 1 0-1 0-2 1-1 0-2 0-1 1 0 0-3 0-1 1 3 0-1 1 2 0-1 1-2 1-1 0 1 1 2 0 2 1 3 0 1 1 2 0-1 1-1 0 2 1 0 0-3 0 1 1 3 0 1 0-2 1 4 0 1 0 2 1-2 0 3 0 2 1-1 0 2 1 1 0 3 1 0 0 5 0-2 1 1 0 1 0 1 1 0 0 3 1-1 0 2 0 1 1-2 0 2 1 2 0-1 1 2 0 1 1 0 0 1 0 2 1 0 0 1 1 1 0 2 1 1 0 1 1 1 0 1 0 1 1 0 0 1 1 0 0 2 1 3 0-2 1 0 0-1 1 1 0-1 0-2 1 0 1 1 0 3 0-2 1 0 0 1 1-2 0 2 0 1 1-1 0 1 1 0 1 1 0-2 0 1 1-2 0 2 0-1 1 0 0 2 0 1 1-2 0 1 0 3 1-1 0-1 1-1 0-1 0-1 1-1 0 2 1-2 0-1 1 0 0 2 0 2 1 1 0-2 1 1 0-1 0-2 1 1 0-2 1 1 0 1 1 1 0-2 0 1 1-1 0-1 1 1 0-1 0 2 1-2 0 1 0-2 1 2 1 2 0-1 1 2 0-1 1-1 0-1 0-2 1-2 0 1 0-2 1 1 0 1 1 2 1 2 0 1 1-1 0-1 1 2 0-2 1 4 0 2 0-1 1 2 0-1 0 2 1-1 0 1 1 0 0 1 1 4 0 1 0 1 1-1 0-1 1 0 0 2 1-1 0 2 1-1 0 1 1 1 0-2 0 1 1 0 0-1 1 0 0 1 0-2 1 2 0 1 1 0 0 2 0-4 1 1 0-1 1 1 0-1 1 2 0-1 1 1 0 1 1-2 0 1 0 1 1-2 0 2 1 0 0-2 1 0 0-1 1-2 0 1 1 0 1 0 0-1 0-1 1 0 0-2 0-1 1 1 0-3 1 2 1 2 0-1 0 2 1 0 0 1 1 1 0 1 0-2 1 1 0-2 1 0 0-1 1 1 0-2 0-1 1 0 0 1 1-1 0 1 1 1 0-2 1 2 0-1 0-2 1 2 0-1 0-2 1 1 1 1 0-3 1 2 0-1 0 2 1-1 0-1 1 0 0-1 0-1 1 2 0-2 0-1 1 0 0 1 1-2 0 1 0 3 1 1 0 2 1 2 0-1 1-3 0-3 1-1 0-1 0 2 1-2 0 1 1 1 0 1 0 1 1-1 0 2 1 0 0 1 1-2 1-1 0 3 1-1 0-1 1 0 0-1 1-1 0 3 0-1 1-1 0-1 1 0 0 1 1 1 0-1 1-1 0 1 0 1 1-1 0-1 1-1 0 2 1 3 0 2 0 1 1 0 0-2 0 1 1-2 0 1 0-2 1 1 0-1 1 2 0-4 0 3 1 0 0-2 1 3 0-2 0-1 1 2 0-1 1 0 0-3 0 1 1 1 0-1 1 0 0 1 1 0 0-1 1-1 0 2 0 1 1 0 0-1 1 0 0-1 0-2 1 0 0 1 1 3 0-2 1 2 0-1 0 3 1-1 0 1 1-1 0-2 0-1 1-3 0 1 1-1 0 2 0-1 1 0 0 1 1-2 0 2 1 1 0-1 1 3 0-1 1 2 0 1 1 2 0 1 1-1 0 1 0-2 1-2 1-1 0 1 0 1 1 0 0 1 1-3 0 1 1-4 0 1 1 0 0-1 1 1 0-1 1-2 0 1 1-1 0 1 0 2 1-1 0 2 1 1 1-1 1-1 0-1 1 0 1-2 0-1 1 0 0 3 0-1 1 3 0-3 0 2 1 0 0 1 1-1 0-1 0-3 1 0 0-1 1-1 0 1 1 1 0 1 1-1 0 3 0-1 1 2 0 1 1 1 1-1 0 2 1-1 0-1 1 0 0 1 1 1 0-2 0 4 1-3 0 2 0 1 1 0 0 1 1 1 0-1 0 2 1 0 0-1 1 1 0-1 0 2 1 0 1 0 0-1 1 0 0-2 0 1 1-2 0-2 0-1 1 1 0-2 1 0 0 1 1 1 0 1 1 1 0-2 1 3 1-1 0-2 0-2 1-3 0-1 1 1 0 1 0 1 1 1 0 2 0 1 1 0 0 2 0-3 1 2 0-4 0 1 1 0 0-1 0 2 1-3 0 1 0-2 1 0 0-1 0 3 1-2 0-1 1 1 0 1 1 3 0 2 0-1 1 1 0 1 0 1 1-3 1 0 0-2 1-1 0-3 0 1 1-2 1-1 0 1 0 3 1-1 0 1 1 2 0-1 0 2 1-1 0 1 0 1 1-1 0 3 0-1 1 0 0-1 1-1 1 0 0 1 1-1 0-1 1 2 0-2 0-2 1 2 0-1 1 0 1-1 0-2 1 0 0 1 0 2 1-1 0 1 1 0 0-2 1 0 0-1 0-1 1 2 0-1 0 2 1-3 0 1 1-1 0 2 1-2 0 1 1-2 0 1 0-3 1 0 0 1 1 1 0-1 0 2 1 1 0 2 1 1 0 2 0 1 1 1 0-1 0 2 1-1 0-1 0 2 1 0 0-1 0 2 1-2 0-1 1 0 0-1 1 0 1 0 1 0 0 1 1 0 0-1 0 2 1 0 0 1 1 0 0-1 1 0 0 1 1 1 0-3 1-1 0-2 1 3 0-2 1-1 0 2 1-2 0 3 0-2 1 1 0-1 1 0 0 1 1-1 0-1 0-1 1 0 0-1 1 0 0 2 1 2 0 3 0 1 1 0 0-1 1 0 0-1 0-1 1-3 0-3 0 2 1 1 0-2 0 1 1 1 0-3 0 1 1 3 0 1 0 1 1 0 0 1 1 2 0-1 0-1 1 0 0 2 0-1 1-1 0 2 0-4 1 1 0-2 1 0 1 0 1 2 0 2 1-1 0-1 0-2 1 0 0-1 1 1 0-2 1 2 0-1 0-1 1 1 0-1 1 1 0 2 1-1 0-1 1 3 0-1 1 0 0-2 1 2 0-2 1-1 0 1 0 1 1-1 0 1 1 1 0-3 0-2 1 0 0-2 1 1 0 1 0 2 1 2 0-1 1 1 0 3 1-1 0 2 0 2 1 0 0-1 0-1 1-1 0 1 0-2 1-1 1-1 0-1 0 2 1-2 0 3 1 0 0-1 1 1 0 2 1-2 0 1 0 3 1-1 0-1 0-1 1-1 0 3 0-2 1 1 0-1 1 0 0-2 0-2 1-2 0 1 0-3 1 2 0 2 1 1 0-1 1 3 0-2 1 0 0 1 1 0 0 1 1 1 0 2 1 2 0-1 0-1 1 0 0 1 0 1 1 0 0-2 0 1 1 2 0-1 1 1 0 1 0 1 1 0 0-3 0-1 1-1 0-2 0 1 1-1 0-1 0 2 1 1 0-1 1 1 0-1 1 2 0 1 1-1 0-1 1-1 0-1 0 3 1-2 0 1 1-1 0-2 0-1 1-1 0-1 0 2 1-1 1 1 0 2 0-3 1 3 0-1 1 0 0-2 0 1 1-2 0 1 0 1 1-1 0 1 1 1 0 3 0 1 1 1 0 1 0-2 1 2 0 1 1 0 0-2 1 0 0-1 0-1 1 0 0-1 1 1 0 1 1-2 0-2 1 2 0-1 1 1 1 5 0-2 1-1 0 1 1-2 0 1 0 1 1 0 0-2 0-1 1-1 0-1 1-1 1 0 0 1 1-1 0 2 1 1 0 1 0-2 1 0 0-1 1 2 1 2 0-3 0 1 1-1 0-2 1 2 0-3 1-1 0-1 1 0 0-1 0-3 1-2 0-1 0-1 1-2 0-3 1-2 0-1 0-1 1-2 0 1 1-3 0-1 0-1 1-3 0-1 0-5 1-1 0-1 0-5 1-2 0-2 0-5 1 0 0-3 1-2 0-2 1 0 0-2 1-1 0 1 0-3 1-1 0-3 0-2 1 0 0-1 0 2 1 0 0-1 1 0 1-4 0-2 1-1 0-1 1 1 0-1 1-2 0-2 1-1 0-5 0 3 1-2 0-1 1 0 0-1 1-2 0 1 0 1 1 3 0-1 1 1 0 1 1 0 0 1 1 0 0-2 1 1 0 2 0-1 1-1 0 2 0-1 1 1 0-2 0-2 1-3 0-2 0-1 1-4 0 3 0-1 1-3 0-1 0-1 1 2 0-1 1-2 0-3 0-1 1-2 0-2 0-1 1-1 0 3 1 0 0 3 1 3 0 1 1 4 0-2 0 3 1 2 0 1 1 2 0 2 1 2 0 1 0 1 1 1 0 2 0 1 1 3 0 2 1 2 0 4 0 2 1-1 0 4 1 1 0 2 0 2 1 3 0 1 0 1 1 0 0 1 1-2 0 2 0 1 1 2 0 3 1 1 0 3 1-3 0 2 1-1 0 1 0 4 1-4 0 2 1-4 0 3 0 1 1 1 0 2 0 5 1-1 0 4 0 2 1 1 0 1 1 3 0 1 1 1 0 1 0 2 1-1 0 1 0 2 1-1 0 1 1-1 0 1 0 1 1-1 1-2 0 1 1 1 0-2 0-2 1 0 0-1 1-1 0 1 0 1 1 4 0-1 0 3 1 2 0 1 0 3 1 1 0 1 0 2 1 0 0-1 0-1 1 1 0-1 1 2 0-2 1-1 0-1 0 2 1 0 0 1 0 1 1 3 0-1 1 0 0-1 1 1 0-1 1 1 0-1 1-2 1 0 0 1 1 2 0 1 0 2 1-1 0 1 1-2 0-2 1-1 0-2 1 0 1-1 0 1 1 4 0 1 1 1 0 1 1 0 0-3 0 1 1-2 0-2 1 1 1 3 0 3 1-1 0 3 0 1 1-1 0-1 0 3 1-3 0-1 1 0 0-1 0-1 1 2 0-2 1 3 0 1 1 0 0-1 1 1 0-1 1 0 0-1 1 0 0 1 0 2 1-1 0-1 0-1 1-1 0 2 1 0 0-1 1 1 0-1 0 2 1 0 0 1 1 2 1-1 0-1 0 2 1-1 0-1 0-2 1-1 0-1 1 1 0-1 0-1 1 1 0 1 0 1 1 0 0 2 0 1 1 0 0 1 1-1 0-2 0-2 1 1 1-2 0 1 0 1 1 0 0 2 1 0 0 1 0 2 1 0 0 3 1-2 0 1 1-1 0-2 1-1 0-1 1-1 0-1 1-2 0 1 1 2 0-1 1 0 0 2 0-1 1-2 0-1 1 0 0 1 0-2 1-1 0-1 1 1 0-1 1 4 0-2 0 1 1-2 0 1 0 2 1-3 1-1 0 1 0 1 1 2 0-1 1 2 0-2 1 0 0 1 1-1 0 1 1 1 0-1 0-1 1 1 0 1 0 1 1 2 0 2 1 1 0-2 0 1 1-1 0-3 0 1 1 0 0-1 1 1 0 1 0 1 1 1 0 1 1-2 0 1 1-1 0 2 1-2 0-2 1-3 0-2 1 2 0-1 1 1 0-1 1 1 0-2 1 1 0-2 1 0 0 1 1-1 0-1 1 3 1 0 0 1 1-2 0 1 1 1 0-3 0-1 1-2 0-1 1 0 0-2 0 1 1 0 0-1 0-2 1 0 0 1 0 2 1-1 0 1 1-1 0 1 0 2 1 1 0-1 1 2 0-1 0-1 1 0 0-3 1-1 0 1 0 1 1-1 0-1 1 1 0 1 1 0 0 1 0 1 1 0 0 1 1 2 0-1 1 1 0-1 1 0 0-1 1-1 0 2 0-1 1 0 0 3 1 2 1 2 0-2 1 1 0-2 0-1 1-1 0 1 0-2 1 0 0 1 0-3 1 2 0 1 0 2 1 2 0 2 0-1 1 3 1 0 0-1 0-1 1 0 0-1 1-2 1 1 0 1 1 1 0-1 0-1 1-1 0-3 1 1 0-2 1 2 0-1 0-1 1 0 0 1 0 1 1-4 0 2 1-1 0 1 1 1 0-1 1 1 0-3 0 4 1 0 0-1 1 3 0-2 0-1 1 2 0 1 1 1 0-2 1 0 0 1 0-3 1 0 0 3 1 0 0 2 1 0 0-1 1-1 0 1 0 1 1 2 0 2 1 0 0 1 1-1 0-4 0 2 1-3 0-2 0 3 1 0 0-1 1 2 0 2 0-1 1 0 0-1 0-1 1-2 0-1 1-1 0 1 1-2 0 1 1 0 0 2 0 2 1-1 0 1 1 0 0-2 1 1 1 1 0-3 1-2 0 1 0-2 1-1 1 0 0 1 1 1 0 1 1 1 0 1 1 2 0 1 1 0 0-1 1-1 0 1 1-1 0-1 1-1 0 1 1 1 0 3 0-2 1 2 1 4 0-1 0-1 1 1 0-2 0 1 1 1 0-1 0 2 1-2 0-2 0-2 1-1 0-2 0-1 1 0 0-1 0-1 1 1 0 3 1 0 0 1 0-2 1-1 0 1 1 0 0-1 0-2 1 1 0-2 1 0 0-2 0 1 1-1 0-1 1-1 0 1 1-2 0 1 1 0 0-1 1-1 0 2 0 1 1 3 1 2 0-2 1 0 1 0 0 3 1-1 0 1 1-1 0-1 1 0 0-1 0-1 1 0 0 1 0-2 1 1 1-1 1 1 0-1 1 1 0 1 1 1 0 1 0-2 1 2 1 3 0-2 0-2 1 0 0 2 0 2 1 0 0-2 0 1 1-1 0 1 1-2 1 0 0-1 0-1 1-1 0 1 0 1 1 1 0 1 1 0 0-1 1 0 0-2 0-1 1-1 0 2 0-1 1 0 0 1 0 3 1-2 0 1 1 1 0-1 1 1 0-2 0-1 1 4 0-2 1 2 0-2 1-1 0-1 1-1 1 2 0 1 1 0 0 2 0-1 1 2 1 0 0-1 1 0 0-1 0 2 1-2 0-1 1 0 0 2 1 0 0-3 0 2 1-1 0 2 1 1 0 2 1-1 0-2 0 1 1-3 0-2 1 3 0-1 1 2 1 0 0 3 0-1 1 0 0 1 1-1 0 1 0 2 1-3 0 2 1-1 0-4 1-1 1 2 0-1 0-2 1 1 0 1 1-1 1-2 0 1 1 2 0-2 1 3 0-2 1 1 0 1 1-1 0 2 0-3 1 0 0-1 1-1 0 1 0 2 1 3 0 2 0-3 1 1 0 1 1-5 0 3 0-2 1-1 0-1 0 2 1 0 0 3 0-1 1 2 0 2 0 2 1-2 0 1 0-2 1 1 0 1 0-6 1 0 0-3 0 1 1-1 0-2 0 1 1-1 1 0 0 2 1-1 1 0 0 2 1 1 0 1 1-3 0-1 1 2 0-1 0-1 1-1 0 1 1 1 0 1 1 0 0 2 0 1 1-1 0-3 0 2 1-1 0-1 0-1 1-3 0 1 0 2 1 0 0 2 0 2 1 1 0 3 1 0 0 2 1-3 0 1 1 1 0-2 0-3 1 0 0-3 0 2 1-2 0 1 0 1 1 0 0 1 1 0 0-2 0-1 1 0 0-1 0-2 1 1 0-1 1 0 0 1 1-1 0 3 1-1 0 3 0 2 1-1 0 2 0 1 1 1 0-2 0 1 1-1 0-2 0-2 1-1 0-1 1-2 0 1 1-2 0 3 0 2 1 2 0 1 1-1 0-1 1 2 0-2 0 1 1-1 0-2 0-1 1 0 0-1 1-1 0-1 0 2 1 2 0-2 1 0 0 1 1 0 0-2 1 0 0-2 0 3 1-1 1 0 0 1 0 2 1 0 0 2 1-1 0 1 1-1 0-1 0-1 1 2 0-1 1-2 0 1 1 2 0-1 1 2 0-2 0 3 1 0 0 1 1 1 0-1 1 0 0-3 1-2 0-1 1-2 0 1 1-2 0 2 1-4 1 0 0-2 0 1 1 0 0 1 0-3 1 1 0-2 0-1 1-3 0 1 0-2 1-4 0 1 0-3 1-1 0-5 1-1 0-1 0-1 1-1 0-2 1-1 0-3 0 1 1-1 0-2 0-1 1 1 0-2 0-1 1-1 0-2 1-1 0-1 0-2 1 1 0-1 0-2 1 2 0-2 0-2 1-1 1-3 0 1 1-1 0-1 0-1 1-1 0 1 0-3 1 1 0-2 0 1 1 3 0 2 1 1 0 1 1 1 0 1 0 1 1 2 0-1 1 0 0 2 0-1 1 1 0-1 1 1 0-1 0 2 1 1 0 1 1 0 1 1 0-1 1-1 0 1 1-2 0 3 1-4 0-1 1-1 0-1 1 1 0-2 0 1 1 1 0-1 0 2 1 2 0 2 1 2 0-1 0-1 1 4 0-2 0-1 1 0 0-2 1-2 0 1 1 0 0 2 1 1 1 0 0-2 0-1 1 2 0-2 0-1 1 1 0-1 0 2 1 0 0 2 1 1 0-2 0-1 1 1 0-2 0-1 1-1 0 1 0-3 1 0 0 1 1 0 0-4 1 1 0-2 0 1 1-1 0-2 1 1 0-1 0-2 1 0 0 1 1 1 0 2 1-2 0-1 1-1 0-2 1 1 0-1 1 0 0 1 1 0 0 1 1 2 0 2 1 1 0 3 0 4 1 2 0 1 1 3 0-1 0 4 1 2 0 1 1 3 0 3 0 2 1 4 0 3 0 2 1 3 0 3 1 3 0-1 0 2 1 2 0-2 1 3 0-1 1 0 0-2 1 1 0-2 1 2 0 1 0 1 1 1 0 3 0 1 1 1 0-1 1 2 0-1 0 2 1-1 0-1 0-1 1 2 0-2 0 1 1-1 0-1 0-1 1-3 0 1 0-2 1 2 0-1 0 2 1-3 0 4 1 1 0 4 1 0 0 2 0-1 1 1 0 1 1 2 1 1 0 1 1 0 0 1 1 0 0-2 1-1 0 2 1-2 0 1 1-2 0-2 0-1 1 2 0 2 0-1 1-1 0 1 1 1 0-3 0 1 1-1 0 1 1 1 1 0 0 3 0 1 1-2 0 1 0 2 1-1 0-1 0-2 1 0 0-1 1 1 0 2 1-1 0-2 0 1 1-1 0-1 0-2 1 1 0-2 0-2 1 1 0-1 1 1 0 3 0 1 1 2 0 1 1-1 0-1 1-2 0 3 1-3 0 1 0 2 1 0 0 3 1-3 0 1 0 1 1-3 0-1 0-1 1-1 0-1 1 0 1 2 0 4 0-1 1 2 0-2 1 1 0 1 1-3 0 1 1 2 0-1 1 1 0-1 0-1 1-1 0 3 1-4 0-2 1 0 0-2 1 2 0-1 1 1 0 1 1-1 0 1 1 2 0 1 1 2 0 1 1-1 0-2 1 3 0-1 0 2 1 1 0-1 1 0 0-1 0-2 1-1 0-2 1-1 0-2 1 1 1-1 0 2 1-2 0-1 0 3 1 0 0 1 1-1 0-1 1 1 0 1 1-1 0 1 1-1 0 1 1-1 0 2 0 1 1 0 1 1 0 2 0-1 1-1 1-1 0-3 0 2 1-2 0 2 1-2 0-1 0 2 1-2 0 1 1-1 0-3 1-1 0 3 0-1 1 0 0 1 0-2 1 2 0 1 0 2 1 1 0-1 0 2 1-2 0 2 1-2 1 2 1-1 0-1 0-1 1-2 0-1 1-1 0-1 1 1 0 1 0 2 1 0 0 2 0-4 1 2 0-1 1 2 0 2 1-1 0 1 0 2 1-2 0 1 1-3 0 1 0 3 1-1 0-1 1-1 0 1 1-3 0-1 0 2 1-3 0 1 1 0 0 1 1 1 0 1 1 2 0-3 1-1 0-1 0 2 1-1 1 1 0 1 1 1 0 1 0 2 1-1 0-1 0 2 1 0 0-2 1-2 1 3 1 2 0-1 1 2 0-3 0 2 1-3 0 1 0-2 1-1 0-1 1 2 0 1 1-1 0 1 1 0 0 1 1-1 1 0 0-2 0-1 1-1 0 1 1-2 0-1 1-1 0 1 1 0 0 1 0 2 1 1 0-1 1 1 0 1 1-2 0 1 0 1 1-1 0 2 1 0 0-1 0-1 1 0 0 1 0-2 1-1 0 2 0 2 1-1 0 1 0 2 1 0 0-1 1-1 0-2 0-1 1 3 0-3 0 2 1-1 0-1 0 2 1-1 0-2 1 2 0-4 0 2 1 0 0 1 0-2 1 1 0 1 1 2 0-1 0-1 1 1 0-2 0-1 1 0 0-1 1-1 0 2 0 2 1 1 0 1 1 0 0 1 1 0 0-2 1-1 0 2 1-1 0-1 1-1 0-1 0 3 1-3 0 2 0-1 1-3 0 1 0 1 1 2 0-1 1 1 0 1 1-3 0 1 1-3 0-2 1 3 1 2 0-1 1 0 0 1 1-2 0 2 1 0 0-1 1 1 0-1 1 2 0-2 1 1 0 2 0-1 1 2 0 1 0-2 1 1 0 1 0-3 1 1 0 4 0-1 1 1 0 1 1-2 0 2 1-1 0 3 1-1 0-1 1 1 0-2 0-1 1 0 0-2 0 1 1 0 0-1 1-1 0 2 1 1 0-2 1-1 0 2 1-1 0-1 0-1 1 1 0-1 1 1 0-1 1 0 0 2 1-3 0 4 1-1 0-1 0 2 1-4 0-1 1 0 0 2 1-1 0-1 0 2 1 1 0-3 0-1 1 4 0-2 0 1 1-2 0 2 1-1 0-1 0 2 1-1 1 0 0-1 1 2 0 1 1 1 0-1 0 3 1-1 0-1 1-1 0 1 1-1 0-2 0 1 1 1 0-2 1 2 0-2 1 0 0-1 1 0 0-2 1 2 0-1 1 0 0 3 0-2 1 0 0-1 1-1 0 1 1-1 0 1 1 1 1 3 0-2 1 2 0 2 0-3 1-1 0-2 0 1 1-1 1 2 0-1 1 1 0-1 0 3 1-2 0 1 0 2 1-1 0 2 1-1 1 1 0-2 0-2 1 0 0-1 1-1 0 3 0-1 1 0 0 1 0 2 1 0 0 3 1-2 0 1 1-2 0-1 1-2 1 1 0-1 0-1 1-2 0 1 1-1 0 2 0-1 1 4 0-2 1 1 0 1 1-3 0 1 1 1 0-1 1 2 0-2 1 1 0 1 1 0 0-2 1 0 0 1 1 0 0-1 0-1 1-3 0 1 0 1 1-1 0-2 1 4 0-1 1 2 0 1 1 1 0-1 0-1 1 1 0 2 1-1 0-1 1 1 0-1 1 0 0-1 0-1 1-1 0-1 0-1 1-4 0-1 0-3 1 0 0-1 1 0 0 1 1 3 1-1 0-1 0-1 1-2 0-3 0-3 1 1 0-4 0 1 1-1 0-1 0-2 1 0 0-1 0 2 1-2 0-1 1 2 0-1 0-1 1 0 0-1 1-2 0-2 1 0 0-2 1 2 0-2 0 1 1-1 0-1 1-2 0-1 1 1 0-1 1-2 0-3 1 3 0 1 1 0 0 2 0 1 1-2 0 1 1 0 0 1 1 2 0-1 1 0 0 1 0-2 1-1 0-1 1-1 0-1 0 2 1-2 0-1 0-2"/>
<path marker-start="url(#mym)" marker-mid="url(#mym)" marker-end="url(#mym)" d="M55 241l0 9 0 6 1 7 0 7 0 7 1 5 0 4 0 5 1 0 0 1 0 4 1 1 0 1 0 2 1-1 0 1 1-2 0-3 0 2 1 1 0 2 1 1 1-3 0-2 0-1 1-2 0 1 0-2 1 1 0 2 0-1 1 2 0-2 0 5 1 1 0 4 1-4 0 3 0-2 1-1 0 2 1-2 0 1 0 2 1 1 0-2 0 3 1 0 0-1 1-1 0-1 1 2 0-1 1 3 0 2 0-1 1-1 0 2 0-1 1-3 0 2 0-3 1-2 1-3 0 3 0 1 1-1 0 1 0 1 1-3 0 2 1-4 0 6 0-4 1 1 0 3 1 1 0-1 1 2 0-3 0 2 1-3 0 2 0-1 1-1 0 2 0-1 1 2 0 1 0 1 1 1 0-1 0-1 1-1 0-2 1 0 0-2 0 1 1-2 0 1 0 2 1-1 0 3 0 1 1 2 0 1 0 3 1 1 0 5 0 7 1-7 0-1 0-5 1 1 0-5 0-1 1-4 0-6 0-5 1-3 0-2 0-4 1 0 0-1 0-4 1 0 0-1 1 2 0-3 1-1 0-3 0 1 1-3 0-2 1-1 1 3 0 4 0-3 1 1 0 1 1-2 0 3 0 2 1-2 0-1 0 2 1-3 0-2 0-2 1-1 0 2 1-1 0-3 0 4 1 1 0-1 0 2 1 4 0 1 0 1 1-4 0 1 1 0 0 2 1-5 0 5 0-1 1 2 0 4 1 0 0 3 0 2 1 4 0 1 1-1 1 0 0 1 1-2 0-2 0 3 1-2 0 3 0 2 1-1 0 1 0 1 1 3 0 2 0 1 1 1 0 2 0-1 1 0 0 1 0-6 1 2 0-1 0-2 1 1 0-2 0-1 1-2 0 1 1-2 0-1 1-1 0-2 1 1 0-2 0-2 1 1 0-2 0-1 1-2 0-2 1-2 0-6 0-2 1-1 0-2 0-3 1 0 0 1 0-2 1-5 0 2 0 1 1-1 0 4 0-1 1 1 0 1 1 1 0-1 1 2 0 3 1-3 0-2 1 0 0-2 0 1 1 1 0-1 0-3 1 2 0 3 0-2 1 2 0-1 0-1 1 2 0 1 0-3 1-2 0 2 1 0 0 1 0 1 1 1 0 2 1-5 0 1 0-4 1 2 0 2 0-4 1 0 1-2 0-1 1 0 0 2 0-5 1 1 0 1 1 2 0-1 0-1 1 1 0-1 0-1 1-2 0-2 0 4 1-2 0-2 0 4 1-2 0 2 0 3 1 0 0 1 0-2 1 2 0-1 1-1 0 1 1-2 0 1 0-2 1 1 0-2 1 1 0 3 1 0 0 2 0-1 1 0 1-2 0 1 1-2 0-5 0-1 1 2 0-1 0-2 1 4 0 1 1 1 0 1 1-2 0-1 1 5 0-3 0 4 1 2 0 2 1 3 0 1 1-2 0 1 1 4 0 4 1 1 0 1 1 3 0 1 0 3 1 2 0 1 0-4 1 3 0-2 1 2 0 1 1 3 0 4 0 4 1 1 0 3 0 1 1 2 0 4 0-3 1 0 0-1 0-2 1 0 0-3 0 2 1 1 0-3 0 4 1 2 0 1 0-4 1 1 0-4 0-1 1-1 0-4 0 1 1 0 0-2 1-2 1 2 0-1 0-3 1 2 0 2 1-1 0-3 0-1 1-1 0-4 0 1 1 1 0 2 0-3 1 1 0 1 1 1 0-1 0-3 1 1 0-2 0-1 1-1 0-2 0-2 1 2 0 2 0-3 1-3 0 1 0-3 1 3 0-2 1 1 0 1 0 1 1 3 0-4 0 2 1-2 0 1 0 4 1-2 0-2 0-3 1 2 0-3 0-1 1-5 0 2 1-3 0-1 1 1 0-1 0-2 1 1 0 1 1 0 0 1 1 1 0 1 0 1 1 2 0 1 0 2 1 0 0-5 1 2 0-2 1-3 0 1 1-1 0 3 0-2 1-4 0-1 1-1 1 5 0-1 0 3 1 1 0 4 0-1 1 0 0-1 0-2 1 2 1 3 0 1 1 1 0-1 1 1 0-4 1 4 0-3 1-1 0-1 1-2 0 3 1-2 0 1 0-2 1 3 0-2 1 2 0 1 1-2 0-2 0 3 1-2 0-2 1 1 0 1 1-2 0 1 0-2 1 2 0 1 0 3 1-3 0 2 0 1 1 4 0-1 1 1 0 2 1 2 0-4 1 6 0 2 0 5 1-3 0 6 0 1 1 2 0 1 0 1 1-1 0-3 1-1 1 2 0 3 0-2 1 2 0-3 0 1 1 2 0-1 0 2 1 3 0 2 1 0 0 2 1-4 0 1 1 1 0-3 0-1 1-5 0-1 0-1 1-2 0-4 0 1 1-1 0 1 0 2 1-2 0 5 1-4 0 2 1 0 0 1 1-3 0 1 0-2 1 1 0-1 1-2 0 1 0-2 1 0 0 1 0 3 1-3 0 2 0-1 1 0 1 0 0 1 0 2 1 3 0 1 0 1 1-2 0 2 0-1 1-3 0 1 0 1 1-2 0-4 0 5 1-1 0 1 1 0 0 1 1 1 0 3 1-1 0-2 0 3 1-1 0 1 1 0 0 3 0-2 1-1 0-2 0 3 1-4 0 1 1-4 0 3 0-2 1 1 0-1 0-3 1 2 0 1 0 1 1 1 0 3 0 1 1 2 0-3 0 1 1 0 0 2 1-3 0 2 1 0 0-1 1 4 0-3 0-3 1-2 0-2 0-1 1-1 0 1 0-2 1 2 0 1 1 1 0 1 0 1 1 2 0 1 1-2 0 1 0 3 1-2 0 1 1 2 0 4 1-4 0 1 0 2 1-3 0 1 0-4 1 2 0-4 0 1 1-4 0-1 1 2 0 2 1-1 0-1 0 3 1-2 0 1 1 0 0 1 1-1 0-3 0 1 1 4 0 2 1 3 0 1 0-2 1 2 0-2 0 1 1-3 0-1 0-1 1-1 0 1 0-2 1-2 0 2 1 1 0 1 0 1 1 2 1 1 0 2 0-5 1 4 0-2 0-1 1 2 0-2 0-2 1-1 1-2 0-2 1-1 0 1 1 3 0 2 1 2 0 1 0 3 1 0 0 2 1-2 0-3 0-2 1 0 0 1 0-3 1 3 0-1 0 2 1 1 0 2 0 2 1-2 0 1 1-3 0-1 1 1 0-2 0-1 1-2 1 0 0-5 0 2 1 0 0 1 1 3 0-1 1 2 0-3 1 0 0 1 0 2 1-1 0 4 0-2 1 2 0 1 0 3 1-2 0-2 0 1 1 1 1 0 0-1 1 0 0-1 0-2 1 1 0-2 0-1 1 1 0-3 1-1 0-2 0 5 1-3 0 2 0 2 1 2 0-1 0 3 1-2 0 1 1-2 0 1 1-1 0 2 0-1 1 1 0 1 0 2 1-2 0 2 0-4 1 1 0-1 1-1 0-1 1-1 0 3 0 1 1 0 0-1 1 1 0-1 0-2 1-2 0-2 0-2 1 5 0-5 0 2 1 0 0 2 0 3 1-2 0 2 0 2 1-2 0 2 0 1 1 0 0-1 0-1 1-2 0 3 0-4 1-1 0-4 0 1 1 0 1 0 0-3 1 1 0-1 0 2 1-1 0-1 0 3 1-2 0 1 1 4 0-1 1 4 0-2 0-2 1 2 0 2 0 1 1-5 0 1 0-4 1 2 0 2 1 2 0 10 1-4 0 4 0 2 1-1 0 6 0-2 1 3 0-1 0 2 1 1 0-1 0 2 1 2 0-1 0 7 1 1 0 4 0-3 1 5 0-2 1-3 0 3 1 3 0 6 0 1 1 1 0 5 0 5 1-1 0 1 0-5 1-1 0-2 0-9 1 2 0-7 0 2 1-5 0 4 0-3 1 4 0-3 0 5 1-2 0-1 0 3 1 1 0-1 0-4 1 0 0-7 0-3 1 0 0-3 1 0 0 2 0-1 1 2 0-1 1-5 0 3 0-7 1 3 0-4 1-3 0 2 0-8 1 4 0-5 0-1 1-4 0 3 0-4 1-1 0-1 0-2 1-1 0-2 0 1 1 2 0 1 1-1 0 1 0-3 1 1 0 2 0 2 1-3 1-1 0 2 0-1 1-1 0 2 1-1 1 1 0 2 0-1 1-3 0-2 0-1 1-2 0 3 0-5 1 2 0-3 1-1 0 3 0-1 1 0 0-1 0 3 1-2 0 1 0 1 1 0 0-1 0-1 1 2 0 1 1-4 0 1 0 2 1-4 0 4 0-1 1 1 0 1 1 4 0-1 0-2 1 3 0-5 0-1 1 3 0-3 1-1 0-2 1 2 0-1 1 2 0-1 0-1 1 0 0 3 0-1 1-1 0-2 1 2 0-1 1-1 0 4 1-1 0 3 0-1 1 1 0-1 0 2 1 1 0 1 0 1 1 1 0 2 1 0 0-3 0 1 1 2 0-1 1 3 0-2 0 1 1 4 0-3 0-1 1 0 0-1 1 0 0 1 0-3 1 2 0 1 1 1 0-2 0 3 1-1 0-2 1 0 0 1 0-3 1 2 0 1 0 1 1 0 0 2 1 1 0-2 1 2 0 2 1 0 0-1 0 2 1 1 0 2 0-1 1-1 0 1 1-3 0-1 0 2 1-1 0 4 1-2 0 1 1 4 0 1 1-2 0 3 0-4 1 2 0-2 0-1 1-1 0-3 1 0 0-3 0 2 1-1 0-1 1 2 0-3 0 5 1-1 0-3 1 2 0-3 0-1 1 1 0 1 1-1 0 3 0 2 1 1 0-4 0 1 1 2 0 1 0 2 1-1 0 2 1 4 0 2 1-2 0 1 0 2 1-3 0-3 1 1 0-1 1 0 0 1 0-3 1-2 0 3 0-1 1 0 1 0 0 2 0-1 1-2 0 3 0 3 1 4 0 1 1 6 0-3 1 5 0-2 0 4 1 4 0 3 0 1 1 4 0-1 0-2 1 3 0 1 0 1 1 0 0 1 0 2 1 0 0 10 0 5 1 4 0 3 0 4 1 6 0-4 0 2 1 3 0 2 1-2 0 2 1-2 0 2 1-5 0 3 0 3 1-2 0 2 1 3 0-1 1-4 0 2 0-1 1-3 0 1 0-3 1 6 0-6 1-1 0-7 0-1 1 0 0-2 0-8 1 2 0-1 0 2 1 4 0-2 1 0 0-3 1-4 0 2 0-3 1 1 0-5 0-4 1-1 0 3 0-4 1 0 0-4 0-2 1 0 0-4 0 1 1-2 0-1 0 5 1-4 0 1 0-2 1 1 0-5 0 3 1-1 0-2 0-1 1-1 0-2 1-1 0-1 0-4 1 3 0-3 0-3 1 0 0 4 1-2 0 4 1 0 0 2 1-2 0 3 1-5 0-1 1 3 0-6 0 3 1 0 0 5 0-1 1-2 0 4 1-1 0-3 1-1 0-1 1 0 0-4 1-2 0-3 0 1 1-2 0-3 0-2 1-1 0-4 0-4 1 1 0-1 1-1 0-1 1 1 0-1 1-2 0 1 1 0 0 3 0 2 1-1 0 8 1 2 0 1 0-2 1 0 0-4 0-1 1-4 0-6 1-2 0-1 1-1 0 2 0 1 1-1 0-2 0-2 1 2 0-1 0-1 1 1 0-3 1 1 0 1 0 3 1-2 0 2 1-1 0 1 0-2 1 0 1 2 0-2 1-2 0 1 0 1 1-4 0 1 1-2 0 1 0-2 1 0 0-4 0 1 1 1 0-3 1 5 0-1 0 5 1-2 0-2 1-4 0-1 0 2 1-2 0-1 1 2 0 1 0 1 1 2 0 2 1 2 0-3 0 2 1-2 0 1 1-4 0-1 1-2 0 1 0 2 1-2 0 3 0 1 1-1 0 1 0 1 1-1 0 1 0 3 1-2 1-2 0-2 0 4 1-5 0 1 1-3 0 2 0-1 1 1 1 4 0 2 1-1 0 1 0-2 1 0 0-2 0-2 1-1 0 4 1-3 0 3 0-4 1-1 0 1 1-1 0-3 0 1 1 0 0 3 1-2 0 2 0-1 1 0 0 3 0-1 1-1 1-1 0-1 0 2 1 0 1 4 0 1 1-1 0-1 1 1 0 1 0-5 1-1 0 1 1-4 0 2 0-3 1 1 0-5 0-1 1 1 0 1 0-2 1 0 0 2 1 2 0 2 1-1 0 2 0-1 1 0 0 3 1 0 0 1 1 1 0-1 0-2 1-3 0 1 1 1 0-3 0 2 1 0 0 2 0 2 1 1 0 3 0-4 1 3 0-3 1 2 0 2 0 2 1 1 0 3 0 3 1 0 0 4 0 4 1-3 0 3 0-1 1 2 0 3 0 1 1 3 0-1 1 1 0-1 0 3 1 1 1 2 0 1 0 2 1 4 0-1 1 2 0-1 0-3 1 2 0-2 0-1 1 0 0-1 0-2 1 3 0 2 0-1 1 0 0 1 0-2 1-4 0-1 1-2 0 1 1 1 0 1 1 2 0-1 1-1 0-2 0-3 1 1 0-1 0-1 1 2 0 1 0 2 1 1 0 2 0 1 1 2 0-1 0-1 1-3 0 1 1-2 0-3 0-2 1-2 0 1 1 2 0-2 1 4 0 1 0-4 1-1 0-3 1 2 0 1 0-3 1 1 0 1 0-2 1 0 0-1 0 3 1-3 0-1 1 1 0-1 0-3 1-2 0-4 1-1 0 1 0 1 1-1 0 1 0 2 1-3 0 2 1-3 0-1 0-2 1-1 0-2 0 1 1 1 0-3 1 2 1 2 0-2 1 3 0 2 0-1 1-1 0-1 1 2 0 1 0 1 1 1 1 2 0 2 1-3 0-4 0-1 1-1 0 1 1 0 0-2 1 1 0 4 0-2 1 0 0-3 1 2 0 2 1-2 0 2 1 1 0 2 0 1 1 1 0-1 1-3 0 3 1-1 0-1 1-1 0 5 1-1 0 1 0-3 1 5 0-4 0-1 1-1 0-2 1 1 0 3 1-3 0 5 1-2 0 1 1 0 0 1 0-3 1 0 0 3 0-5 1 0 0-1 1 2 0-1 0-1 1 3 0 2 0-1 1-3 0 1 0 6 1-4 0 4 0-2 1 4 0-3 0-2 1 2 0 2 0-4 1 4 0-1 0-3 1 0 0 1 0 3 1-3 0 2 1 3 0-1 1 0 0-2 1 1 0-4 0-1 1 0 0 2 0-3 1-1 0 1 0 5 1-2 0 3 0 2 1-2 0 1 0 2 1 1 0-2 1 3 0 2 1-1 0 2 0-3 1 2 0-1 1-2 0 2 0-3 1 2 0-2 1 1 0 1 0 2 1 0 0 3 0 3 1 1 0 1 0 1 1 0 0 1 1 0 0-3 0 2 1 1 0-2 0-1 1-3 0-3 0 1 1-1 0 3 0-4 1 1 0 2 1 0 0-1 0 3 1-2 0 2 0 4 1-3 0 2 1-3 0 1 1 4 0-2 0 1 1 3 0-2 1 1 0-3 0 2 1-4 0 2 1-1 0 1 0-2 1-1 0 1 0-4 1-1 0-1 0-3 1 3 0-4 0 1 1 1 1 3 0-4 0 2 1 0 0-1 0 2 1 1 0-1 0-2 1 5 0-1 1-2 0 4 0 1 1-4 0 2 0 1 1 1 0-5 0 4 1-4 0-2 1 0 0-3 0 2 1 0 0 1 1 3 0-1 1 0 0-1 1-3 0 2 1 0 0-2 1-2 0 4 0-5 1-1 0-2 0 1 1-1 0 3 1 0 0 2 1 1 0 1 1-4 0 3 1-3 0 4 1-1 0-3 0 4 1-2 0 1 0-3 1 0 0-3 0 1 1-2 0 1 1-2 0 1 1 1 0 2 0 2 1 3 0-1 0 3 1 3 0-4 0 2 1-4 0 1 1-5 0 1 0 1 1-3 0 2 0 1 1-2 0 4 0 1 1 0 0 4 0 1 1-2 0 1 1-2 0 3 1 1 0-1 1 3 0-2 0 1 1-1 0 1 0 4 1-1 0 1 1-2 0-1 1 0 0-1 1-2 0 1 0 2 1 1 0-1 0 3 1-5 0 1 0-3 1 1 0-2 1-1 0 2 1-1 0 2 0-1 1 1 0-1 1-1 0-1 0 4 1-5 0-3 1 1 0-1 0 3 1 0 0-1 1 4 0-1 1 0 0 2 1-2 0 1 0-2 1-1 0 5 1 0 0 1 1-1 0 2 0-3 1-1 0 2 1-2 0-1 0 3 1-1 0 1 1 2 0-2 1 0 0-2 1 3 0 1 1-1 0 2 1-2 0 1 0 1 1-2 0 1 0 2 1-1 0-3 0 1 1 0 0-1 1 2 0-1 1 1 0 1 1 0 0-5 0 2 1-3 0-3 1 2 0-3 0 1 1 0 0 2 0-1 1 2 0 3 0-2 1 4 0-5 1 1 0-1 0-4 1 3 0 2 0 3 1-2 0 2 0 1 1 3 0 4 0-1 1 3 0-3 1 2 0 3 1-1 0-2 1-3 0 1 0-2 1 1 0-3 1-1 0 4 0 1 1 1 0 3 0 1 1 2 0-2 1 2 0-2 1-1 0 1 0 2 1-1 0-3 0 2 1-7 0 3 0-1 1 2 0-3 0 2 1 2 0 3 1 1 0 1 0-3 1 2 0-2 0-2 1 2 0-3 0 1 1 0 0-3 0 1 1-2 0 1 1 0 0-1 1 1 0 2 1 2 0-3 0 1 1 2 0-2 1-2 0-1 0-3 1-1 0-1 0 2 1-2 0-1 1 6 0-1 0 5 1-4 0 3 0 4 1-3 0 2 0 3 1-4 0 2 0-4 1-1 0 1 0-2 1-2 0 3 1-1 0 2 0-1 1 0 0-2 1 1 0 1 1 1 0 2 1 2 0-2 1 1 0-2 1-2 0 1 1 1 0 1 0 1 1 1 0-2 1-2 0 4 1-2 0-2 1 4 0 1 0 1 1 2 0-5 0 7 1-1 0-4 1 1 0-5 0-5 1-6 0-1 1 2 0 2 0 4 1 7 0 5 1 1 0 1 1 2 0-7 0 1 1-3 0 1 0 9 1-3 0 8 0-1 1-1 0-3 0 1 1 3 0-2 0-10 1 2 0 1 1-1 0-2 1-1 0-2 0 8 1 3 0-5 0 2 1-1 0 1 0-2 1 0 0-3 0 5 1-2 0-3 0 8 1-1 0 4 0 5 1 9 0-3 0 2 1-6 0 11 0-6 1 2 0-1 0 2 1 2 0-6 1 4 0-3 0-2 1 4 0-12 0 1 1-3 0-2 0-2 1-8 0 2 0 5 1-4 0 1 0 5 1 0 0 8 0-7 1-5 0 3 0 1 1-3 0 5 0 2 1-14 0 6 0 3 1-1 0 9 0-3 1-4 0-7 1 4 0-7 1 11 0-7 0 4 1 4 0-1 0-6 1 5 0-5 0 1 1-4 0-3 0-7 1 1 0-4 0-2 1-3 0 9 1 1 0 1 1 9 0-2 0 1 1 2 0 1 0 1 1-4 0 6 1-10 0 9 0-4 1-1 0 3 0-2 1-1 0-3 0-2 1 1 0 2 1-4 0-1 0-1 1 0 0-3 1-3 0-1 1-4 0 1 0-2 1-2 0 1 0-3 1-4 0-1 0 4 1 3 0-1 0 2 1 7 0-2 0 5 1 2 0-3 0 6 1-5 0-1 1 1 0-3 0-2 1-2 0-2 1 0 0-3 0-2 1 1 0-3 0 2 1 2 0-1 1 0 0 2 0 2 1 1 0 3 0-1 1 1 0-1 1 0 0 1 0-2 1 0 0 1 0 1 1 2 0-3 0-2 1 2 1-2 0 2 1 2 0-2 0 3 1 0 0 1 1 1 0-1 1-2 0-3 1 0 0 3 1 0 0-3 0-1 1-1 0-2 0-2 1 2 1 1 0 3 0 2 1-1 0 2 1 0 0-2 1 0 0-2 1 0 0 1 0 3 1-1 0-3 0 1 1-6 0 1 0-4 1 0 0-2 0 1 1-1 0 3 0 2 1 4 0 1 0 1 1 2 1-1 0-5 1-1 0-1 1 1 0-1 1 0 0 4 0 2 1 0 0-3 0 1 1 1 0 2 1-1 0-1 1-2 0-2 1-1 0-2 1 0 0-2 1-1 0-1 1-1 0-1 0 2 1-1 0-2 1 2 0-1 1 0 0 3 0-2 1 3 0-4 1 2 0-2 0-2 1 1 0-1 1 0 0 1 0 1 1-1 0-1 0 2 1 0 0-2 0 3 1-3 0 2 0 1 1-2 0 2 1-3 0 1 1-2 0-2 1 3 0-4 0 2 1-3 0-3 1-4 0 1 1-2 0-2 0 3 1 2 0-3 1 2 0-1 0-1 1-3 0-1 0-2 1 2 1 0 0-1 0 3 1-2 0-1 1 0 0-3 0 1 1-1 0-2 0 4 1 0 0-2 0 3 1 0 0-2 1-2 0-2 0-1 1 1 0-2 0 1 1 3 0 1 0 1 1 2 0 3 0 2 1 1 0-1 0 3 1 4 0-1 0 3 1 4 0 3 1 1 0 2 1 1 0 2 0 6 1 0 0 1 0 2 1 4 0 1 0 1 1-2 0 1 0 1 1 1 0-2 0-1 1 3 0-1 0-2 1-1 0 1 1 0 0-2 1 0 0 4 1 1 0-2 0-1 1 1 0-3 0-2 1-4 0-2 0-3 1-2 0-4 0-1 1-1 0-2 0-4 1-1 0-4 0-3 1-2 0-3 0-2 1-3 0-5 1-1 0-1 0-4 1-1 0 1 0-4 1 1 0-3 0 1 1-3 0-2 0-4 1 0 0-1 0-5 1 2 0-3 1 1 0-1 1-3 0 4 0-1 1 1 1-1 0-2 0 3 1-1 0 1 1 2 0 1 0-2 1 0 0 2 0-1 1 2 0 4 1 2 0 4 1 5 0 1 1 3 0 2 0 2 1 3 0 4 0 2 1-3 0 6 0-3 1 2 0 2 1 2 0 8 0 1 1-1 0 5 0 1 1 0 0 1 0 3 1-3 0 2 0-1 1 1 0 1 0 2 1 1 0 4 1 1 0 4 0 1 1 1 0 1 0 1 1-2 0 2 0-1 1 1 0-4 0 1 1-1 0-1 1-1 0 2 1 1 0 1 0-3 1 2 0 1 0-4 1-2 0-1 1-1 0 4 0-1 1-2 0 2 0 2 1 1 0-4 0 2 1-1 1-2 0-2 1 2 0 1 0 2 1-2 0 4 1-1 0 4 1-4 0-2 1 5 0-2 1 0 0 1 1-1 0-2 0 1 1 1 0 1 1-1 0-4 0 1 1 2 0-1 0-1 1 3 0-1 0 2 1-4 0-1 1-3 0-1 0-1 1 1 0 1 1 1 0 4 1 0 0-1 0 3 1 1 0 1 0 1 1 3 0 2 0-3 1 1 0 1 1-2 0-3 1 0 0-1 0-3 1 2 0-2 0-1 1-1 0 1 1 4 0-1 1-1 0 1 0-2 1 2 0-1 0-1 1-1 1 0 1 0 0 2 0-1 1 5 0 2 1 1 0-1 1-2 0-1 0 3 1 0 0-2 1 2 0-2 1-1 1 0 0 2 1-1 0 3 0 1 1 2 0-1 1-1 0-4 0-1 1-2 0-1 0-3 1-3 1 4 0-2 1 3 0-2 1 0 0 1 1-1 0-1 0 2 1-1 0-3 0 2 1 0 0 1 0-3 1 3 0 1 1 1 0 4 1-3 1 1 0 2 0-5 1 4 0-3 0 4 1 2 0-4 0-1 1 2 0-1 1 2 0-1 0-1 1 1 0-3 0 1 1 0 0-2 0-1 1 2 0 1 0 2 1-1 0 5 0-1 1 2 0-2 0-1 1-1 0-1 1 0 0 3 1-2 0-1 1 1 0-1 1 0 0 1 0-3 1 1 0 1 0-2 1-2 0 3 0 1 1-1 0 2 0 2 1 5 0-2 0 3 1-1 0 1 0-2 1 0 0-5 0-1 1-2 0-1 0-1 1 0 0 2 0 2 1-1 0 1 0 2 1-1 0 2 0 1 1-1 0-2 0 3 1-1 0 2 0-3 1 0 0 2 0 2 1 3 0-2 1-2 0-2 0-1 1-2 0 1 0-3 1 1 0 2 0 2 1 0 0 2 0 4 1-2 0 3 0-2 1-1 0-3 0-3 1 2 0 2 0-3 1 2 0-2 1-1 0-2 0-1 1 1 0-1 0 2 1 1 0 4 0-5 1 3 0-1 0-2 1 1 0-3 0-2 1-2 0-3 1 1 0 5 1 1 0 5 0-1 1-4 0 3 1-4 0-3 0 2 1-4 0 1 1 0 0 1 1 2 0 1 0 1 1 2 0 1 0-2 1 2 0-1 0-1 1 2 0 3 0-2 1 1 0 2 1 1 0-1 0-1 1-1 0-2 0 3 1-3 0 2 0 2 1 1 0-2 1 1 0-2 1-3 0-1 0-2 1-1 0 3 1 0 0 2 0 1 1 2 0 2 0-3 1 5 0-3 1-1 0-2 1 0 0-1 1-1 0-4 0 2 1-3 0 2 1 0 0 2 0 4 1 0 0-1 1 3 0-1 0-1 1-3 0 1 0-3 1 0 1-1 0 4 0 4 1 1 0 1 1 0 0 2 0-3 1 2 0-1 1 0 0 1 1 1 0-1 0 3 1-2 0-2 0 3 1-2 0 2 0 1 1-2 0 4 1 0 0-1 0 4 1-3 0-1 1-1 1 2 0-3 1 0 0-2 1 3 0 1 1 2 0-2 0 3 1 1 0-3 0-2 1 1 0-2 0-1 1 1 0-2 0 1 1 2 0 2 0 2 1-1 0 4 0 2 1 3 0-1 1 0 1-1 0-1 1 1 0 5 0-2 1-1 0 4 0 1 1 3 0 1 1 1 0-1 1 2 0 1 0-5 1 0 0-1 1-1 0 1 0 1 1 3 1 2 0-3 1 0 0-1 1-1 0-1 0 4 1-2 0-1 1 2 0 1 0 1 1-2 0 2 0 4 1 2 0 1 0 3 1-1 0 2 1-3 0-3 1 0 0-1 1 5 0-2 1 1 0 4 0-1 1 2 0 1 1-6 0 3 0-4 1-4 0-3 1-3 0-2 0 1 1 2 0 2 1 1 1 2 0-1 0-1 1-1 0-2 0 5 1-2 0 1 1 3 0 2 0 4 1-4 0 1 0-2 1-2 0-3 0-5 1-2 0-1 0-4 1-1 0-2 1-3 0-2 1 5 0-1 0-1 1 1 0-2 1-2 0-1 1-4 0 4 0-2 1 2 0-2 0-2 1 3 0 3 1-3 0 3 0 1 1-4 0-2 0-1 1-1 0 2 1-1 0-1 0-1 1 0 1 2 0-2 1-3 0 1 0-2 1-1 0-3 1-1 0-1 1 3 0-1 0 2 1 0 0 3 0-1 1 0 0 1 1 1 0 1 0-2 1-2 0-1 0 2 1-1 0-1 0 2 1 0 0 1 0-2 1-2 0 1 0 2 1-1 0-4 0 2"/>
<path marker-start="url(#mzm)" marker-mid="url(#mzm)" marker-end="url(#mzm)" d="M55 317l0 3 0-6 1 3 0-3 0-11 1-2 0-8 0 4 1-3 0 1 1 0 0 8 0-12 1 0 0 12 0-18 1 16 0-3 0 1 1-4 0 7 0-4 1 4 0 2 0-1 1 4 0-5 0 3 1-3 0 16 0-6 1-5 0-2 0-4 1 5 0-5 0-6 1 6 0 2 1 5 0-1 1-2 0 2 1-7 0 18 0-4 0-2 1-5 0 7 0-10 1 7 0 3 1 5 0-4 0 1 1-8 0-7 0 2 1-1 0-8 1-2 0 2 0 3 1-4 0 17 0-7 1 6 0-5 1-5 0 2 0 8 1-2 0-10 0 16 1-9 0 1 0-21 1 10 0 3 0-7 1 17 0-9 1 5 0 7 0 3 1-9 0-5 0 8 1-19 0 3 0 1 1-1 0 4 0 3 1-9 0 11 0 4 1-1 0 1 1-10 0 7 0 4 1-6 0 7 1 0 0-10 0-1 1 4 0-6 0-3 1-1 0-2 0 8 1-5 0 18 1 2 0-16 1 8 0 2 1 3 0-1 0 2 1-8 0 2 0-8 1 6 0-12 0 6 1 5 0-12 0 6 1 4 0 5 1-5 1 5 0 7 0-15 1 12 0-5 0 1 1-1 0-4 0-2 1 7 0-17 0 19 1-1 0-1 0 3 1-14 0 14 0-13 1 15 0-6 0-1 1-6 0-1 1 5 0 4 0 9 1-13 0 15 0-5 1 2 0-3 0-5 1 5 0-7 0-2 1 6 0-1 1 1 0-5 0 3 1-8 0 6 0-5 1 8 0 5 0 4 1-7 0 6 0-5 1 10 0 2 0-9 1-4 0-3 0-4 1 1 0-2 1-4 0 11 0-8 1 0 0 2 1 5 0-7 0 13 1-8 0 6 1-4 0 7 0 1 1 10 0-13 0-1 1 2 0-1 0 14 1-20 0-8 0 10 1-5 0-6 0 4 1 0 0 2 1-6 0 8 0 1 1-2 0 6 0-1 1-4 0 2 0 9 1-4 0 7 0 1 1-4 0-7 0 4 1-1 0 10 0-5 1-4 0-2 0 3 1 3 0-7 0 3 1-10 0 4 0-3 1-2 0 1 0-5 1 3 0-2 0 1 1-3 0 8 0 4 1-11 0 5 0-9 1 8 0-5 0 8 1-1 0 11 0-6 1-1 0 1 0 4 1 1 0-7 0 5 1 2 0-7 0-1 1 1 0-10 0 14 1 0 0-9 0-1 1 2 0-6 1-7 0 4 0 1 1 8 0-10 0 18 1 1 0-4 0 14 1-13 0 5 1-10 0 8 1-2 0-2 1-4 0-1 0-3 1 1 0-7 1 9 0-10 0 7 1-1 0-2 0-4 1 9 0-10 0 7 1 3 0 2 0-9 1-3 0-4 0 14 1 3 0-10 0 5 1 0 0-4 0 8 1-11 0 11 0-2 1-4 0-4 0 3 1 4 0 3 0 1 1-7 0 5 0-6 1 3 0-3 0 7 1 9 0-3 1 5 0 7 0-12 1 5 0-2 0-2 1-13 0 7 0-3 1 0 0-2 1 7 0-6 0-4 1-3 0-5 0 7 1-8 0 4 0 6 1 3 0 17 0-10 1 11 0-7 0-7 1-6 0 15 0 11 0-13 0 9 1 8 0 2 0-20 0-18 1 10 0 1 1-13 0 1 1 2 0-4 1 1 0 8 0-5 1 7 0-1 0 3 1-10 0 3 0 1 1 7 0 7 0 1 1-1 0-5 0 3 1-2 0-3 0-4 1 4 0-1 0 10 1-9 0-1 0 5 1-9 0 10 0 3 1-2 0 6 0-8 1 2 0-4 1 2 0 1 0-3 1 3 0-3 0-6 1 3 0 8 0-5 1-2 0-7 1 8 0-1 1-5 0 6 0-5 1-6 0 14 0-10 1 3 0 4 0 8 1-10 0 6 1-2 0-2 0 12 1 2 0-9 0 2 1-4 0 3 1-2 0 13 0-3 1-6 0 2 0 4 0 4 0-9 1 10 0-15 0-15 1 15 0-10 0-9 1 2 0 10 0-2 1 3 0 3 0 4 1-4 0-7 0-1 1-1 0-6 1 4 0 4 0 12 1-7 0 5 0-6 1-4 0 7 0-12 1 7 0-3 1 1 0 4 0 1 1 4 0-5 1 2 0-1 0 5 1 2 0-7 0 2 1-3 0-2 0-2 1-5 0 10 0-1 1 2 0 10 1-13 0 6 1 0 0 1 0-5 1 0 0 1 1 9 0-6 0-2 1 6 0 6 1-6 0 12 0-10 1-5 0 7 0-16 1 8 0-9 0-8 1 6 0-3 0-1 1-7 0 3 0 2 1-10 0 5 0 9 1 0 0 8 0 28 0-29 1 16 0-2 0-23 0 31 0-10 1-31 0 4 0 52 1-16 0-6 0-31 0 33 1-11 0 13 0-8 1 3 0-3 0-6 1-5 0-2 0 5 1 2 0-2 0-7 1-2 0 9 0 2 1-3 0-1 0 3 1-1 0 1 0 3 1-6 0-6 0 8 1 0 0-1 0-4 1 3 0 2 0 2 1-1 0-4 0 11 1-1 0-12 0 8 1-3 0 2 0 3 1-4 0 9 0-5 1-4 0 4 0 1 1-4 0 1 0 4 1 9 0-12 0 14 1-4 0-17 0 10 1-7 0-4 0 2 1-10 0 5 0-6 1 1 0 3 0 4 1-1 0 2 0 5 1-1 0 2 0-4 1-11 0 11 0 1 1-4 0 6 0 5 1-2 0-12 0 9 1 4 0-9 0 6 1-5 0-2 1 1 0-2 0-9 1 13 0-4 0-5 1 9 0 4 0-13 1 1 0 1 0 4 1 6 0-4 1-4 0 2 0 3 1 0 0 6 0 4 1-7 0 5 1-2 0 2 0-12 1 8 0-8 0 5 1 3 0-8 0 3 1 5 0 13 0-11 0 3 1 3 0 6 0-5 0-14 1 12 0-10 1 8 0-11 0 3 1-3 0-3 0 12 1-11 0 1 0 1 1-1 0 4 1 7 0-5 0 7 1-5 0 7 0-14 1 4 0 1 1-9 0 9 0-4 1-2 0 2 0-3 1 9 0-4 0 8 1-2 0-5 0 4 1-6 0 3 0 1 1-7 0 10 0-5 1 8 0-2 0-1 1-4 0 1 1-1 0 2 0-4 1-2 0-3 0-3 1 3 0 2 0 6 1-8 0-2 0 1 1 7 0-16 0 11 1 6 0 3 0-2 1 1 0-4 0-6 1 8 0 3 1-2 0-6 0 9 1-7 0-2 0 7 1-10 0 9 0-6 1-3 0 6 0 6 1-1 0 2 0 7 1 1 0-9 0-1 1 4 0-7 0 12 1-7 0-5 0-4 1-1 0 5 0-7 1 5 0-9 0-2 1 6 0-6 0-1 1 0 0 12 0-4 1 4 0 1 0 11 1-13 0 4 0 2 1-1 0 6 0-10 1 6 0-8 0-3 1 4 0 8 0-5 1-2 0 1 1-4 0 7 0-13 1 11 0-3 0-1 1 2 0 5 0-14 1 7 0-2 0-2 1 4 0-6 0 3 1 4 0-8 1 11 0 5 0-9 1 8 0-11 0 16 1-3 0-2 0-14 1 0 0 2 0-6 1 17 0-1 0-1 1 10 0 3 0-6 1-2 0 7 1-7 0-3 0 2 1-2 0-6 0 3 1-13 0 5 0 3 1 2 0 3 0-5 1-4 0 5 0-4 1-2 0 4 1 1 0-6 0-7 1 3 0-3 0 1 1-1 0 10 0-12 1 11 0-3 1 3 0 4 0-6 1 7 0 4 0-6 1 0 0-2 0 3 1 3 0 12 0 6 1 17 0-19 0 33 0-21 0-9 0-17 1 35 0-5 0-1 0-3 0-13 0 38 1-15 0-33 1 23 0-11 0-13 1 8 0-4 0 1 1 3 0-1 0-2 1 5 0-3 0 1 1-9 0-5 0-2 1-1 0 4 0-13 1 18 0 6 0 4 1 3 0-5 1-6 0 2 0-4 1 0 0-13 0 5 1 7 0-5 0-5 1 17 0-8 0 13 1 3 0-10 0-6 1 1 0 2 0-4 1-9 0 5 0 1 1-6 0 6 0-1 1-9 0 8 1 4 0 11 0-5 1-7 0 8 1-8 0 3 1-6 0-5 0 13 1 1 0-9 1-3 0-4 0 3 1 2 0 2 0 10 1 1 0-3 1 14 0-1 0-15 1 8 0-15 0 1 1-4 0 1 0-5 1 7 0 6 1 8 0-9 0 3 1-10 0-5 0 17 1-19 0 7 0-9 1 3 0-2 1 6 0 2 0-3 1 4 0-12 0 14 1 2 0 2 0-6 1 12 0-14 0 15 1-7 0 3 0 2 1-1 0 4 0 4 1 0 0 4 0-6 1-7 0 6 1-3 0-1 0-2 1 1 0-4 0-4 1 7 0-4 0-1 1 1 0 6 1-3 1-5 0 12 1-10 0-4 1 9 0 10 0-4 1-6 0 13 0-11 1 6 0 6 0-20 1 23 0-9 1-6 0-1 1 3 0-10 0-1 1-3 0 5 0 7 1-9 0 2 0-1 1 4 0-4 0 5 1 8 0-9 0-2 1-2 0-6 1-2 0 5 0 7 1 0 0-6 0 1 1-2 0 7 0-5 1-9 0 4 0 5 1-4 0 9 0 4 1 5 0-10 0 8 1 3 0-13 1 2 0-3 0-5 1 8 0 3 1-6 0 5 0 9 1-2 0 3 0-1 1 2 0-2 1-7 0-7 0 5 1 1 0-6 0 12 1-13 0 5 0-1 1-2 0 2 0 3 1-4 0 11 0-6 1 0 0-3 0 1 1 3 0 3 0-9 1 3 0-11 0-3 1 6 0-8 0 5 1 3 0-2 0 6 1-4 0 9 1-2 0-8 0 5 1 0 0 8 0 3 1 0 0-1 0-4 1 6 0-7 0 9 1 1 0-15 0 5 1 1 0-8 0 1 1-4 0-10 0 14 1 0 0-6 1 1 0-2 1-3 0 7 0 3 1 6 0-8 0-2 1 4 0 7 0-4 1-5 0 4 0 8 1-3 0 10 0-3 0 4 0 15 1-13 0 1 0 9 0-16 1 9 0 7 0-30 1 2 0 20 0-12 0-10 1-4 0 2 0-4 1 5 0 6 0-7 1-4 0 4 0 6 1 0 0-6 1 5 0-4 1 6 0-10 0 7 1 5 0-11 0-6 1 3 0-5 1 7 0-1 0-2 1 5 0 3 0-10 1 1 0-3 0 7 1-1 0 8 1 5 0 1 0 5 1 2 0-8 0-3 1 4 0 6 0-7 1 7 0-8 0-7 1-1 0 6 0 3 1 2 0-4 0 8 1-3 0-4 0-9 1-1 0-4 0 2 1 4 0-1 0 6 1 3 0-4 0-2 1 2 0-2 1-6 0 5 0-6 1 7 0 2 0 1 1 5 0 2 1 10 0-5 0-7 1 5 0-4 0-5 1 5 0 5 0-12 1 7 0 2 0-5 1 5 0 3 0 1 1 6 0-12 0 2 1 1 0 3 0-4 1-5 0 12 0-5 1-6 0 3 0-5 1 0 0-2 0-3 1 7 0-3 0 1 1 6 0 3 0-1 1 3 0-2 0-9 1 4 0-6 1 9 0 2 1-10 0 1 1-4 0-3 0 1 1-9 0 13 0-10 1 8 0 2 1 3 0-5 0-5 1 1 0 5 0 2 1-5 0-2 0 8 1-1 0-6 0 2 1 1 0-10 0 2 1 1 0 4 0-2 1 14 0 7 0-9 1 3 0-11 0 4 1-21 0 11 0-6 1-3 0 8 0-3 1-2 0 7 0 3 1 0 0 8 0 12 1-18 0 4 0-2 1 7 0-2 0-2 1-7 0 3 0 5 1-7 0 11 0-9 1-1 0-13 0 5 1-2 0 9 0 9 1-7 0 3 0-4 1 7 0-14 0 8 1-1 0-3 0 7 1 3 0-9 0 3 1 3 0-3 0 1 1 1 0-6 0 1 1 2 0 3 0-2 1-10 0 5 0 5 1-1 0-2 0-10 1 8 0 1 0 3 1 3 0-9 0 7 1-6 0 4 1 3 0 2 0-5 1-4 0 8 0-6 1 1 0-6 0 2 1 3 0 6 0 6 1-9 0 13 0-6 1-5 0 12 0-1 1-4 0 5 0-13 1 1 0 3 0-11 1-1 0-4 0 5 1 2 0-3 0 2 1-2 0 4 0-2 1 7 0-6 0 5 1-5 0 8 0-9 1 7 0-6 1 8 0 3 0 1 0 10 1-20 0 9 0 8 0 9 0-13 1-19 0 11 0-9 1 6 0 6 0-1 1-6 0 6 0 4 1-11 0 15 0-8 1-5 0-6 0-1 1 1 0 8 0-2 1-2 0-7 0-2 1 12 0 7 0-3 1 1 0 1 0 2 1-4 0 5 0-7 1 8 0-7 0-2 1-1 0 1 0-6 1 0 0 2 0-4 1 11 0-5 1 2 0 4 0 4 1-2 0-1 1-5 0 2 0 6 1 6 0-14 0 4 1-9 0 8 0 1 1-5 0 12 0 1 1-5 0 5 0-2 1-4 0-2 0-2 1-7 0 5 1 4 0 7 0 4 1-5 0 2 0 3 1 0 0 1 0-14 1-5 0-2 0 5 1 3 0-6 0-6 1 10 0 2 0 2 1-11 0 8 0 3 1-1 0 5 0-13 1 11 0-9 0 6 1-2 0-2 0 7 1-9 0 8 0-15 1-2 0 10 0-2 1-7 0 1 0 10 1-1 0-8 0-2 1 1 0-3 1 9 0-8 1 3 0-5 0 2 1-4 0 7 0 3 1-12 0-1 0 8 1-1 0 9 0 1 1 0 0-1 1 7 0-3 0 1 1-7 0 5 0 5 1-10 0 8 0 3 1-2 0 4 0-3 1 14 0-13 0 2 1 2 0-9 0-1 1 0 0-2 1-1 0 10 0-1 1-3 0 2 0-13 1 5 0-4 0 2 1-2 0-7 0 4 1 8 0 3 0-5 1 9 0 6 1-9 0 10 0 1 1-7 0-3 0 7 1-1 0-5 0 8 1-14 0 1 0 4 1-12 0 3 0 6 1 8 0-6 1 8 0-3 0-9 1-6 0-2 1 4 0-4 0 10 1-5 0 4 0 4 1 1 0-4 0 9 0 10 1-5 0-2 0 3 1-17 0 18 0 4 0 1 1 3 0-24 0 9 1-8 0 2 0-9 1 2 0 5 0-9 1 0 0-3 0-1 1-8 0 5 0 3 1-4 0-1 0 12 1 3 0-7 0 6 1 5 0-10 0 6 1 8 0 4 0-8 1 1 0 7 0-4 1-5 0 4 1-11 0-4 0 10 1 5 0 1 1-8 0 3 0-12 1 6 0 2 0 2 1-1 0 3 0 1 1-1 0-2 0 19 0-5 0-17 1-1 0 14 0 7 0-5 1-18 0 12 0-3 1-16 0 2 0 7 1-7 0-1 0 15 1-9 0-1 0-6 1 12 0-18 0 9 1-2 0-3 0 10 1-4 0-4 0 12 1-7 0-4 0 8 1 1 0 1 0-9 1 6 0-3 0 8 1 6 0 9 0-11 1-2 0 1 0 2 1-11 0 7 0-5 1-2 0 10 0-3 1 1 0 8 0 1 1 4 0-13 0-2 1 2 0-4 0 8 1-9 0 4 0-8 1-9 0 8 0-7 1 3 0 4 1 12 0-6 0 4 1-7 0-6 0 35 0-24 1-4 0 18 0-32 1 23 0 6 0-1 0-17 1 4 0-9 0-2 1 10 0 22 0-27 0 12 1-4 0-6 0 5 1-2 0 7 1 7 0-3 0-4 1 13 0-4 0-4 1 4 0 9 0-14 1 3 0-9 1 12 0-7 0 4 1-1 0-1 0-11 1-4 0-5 0 10 1-2 0-2 0-3 1 5 0 1 0-7 1 12 0-2 0 4 1-6 0 3 0-10 1 11 0 1 0 4 1-3 0 5 0-4 1 9 0-5 0 6 1-7 0 3 1 2 0-9 0 3 1 0 1 2 0-7 0-2 1-3 0 2 0-10 1 8 0 6 0 1 1-4 0 10 0-7 1-9 0-7 0 17 1-7 0 5 0 3 1-5 0 2 0-3 1 5 0-3 0 1 1-2 0 2 1 0 0 3 1 14 0-13 0 1 1 13 0-22 0 12 0 13 0-4 0-3 1-13 0-7 0 17 1-8 0 9 0 9 1 6 0-4 0-9 1 3 0-5 1-4 0-3 1-6 0 7 0-1 1 4 0 3 1-5 0-6 0-7 1-3 0 1 0-6 1 4 0-1 0 15 1-3 0 4 0 16 1-14 0 3 0 3 1 0 0-20 0 4 1 6 0-1 0 5 1-14 0 3 0 5 1-3 0-12 0 6 1-11 0 7 0 1 1 2 0-8 0 13 1 2 0-4 1 3 0-4 0-4 1 6 0 1 1-11 0 7 0-1 1-4 0 1 0 5 1-9 0-1 1-5 0-4 0 8 1 7 0 3 0-2 1 5 0 2 0-1 1 4 0-6 0 1 1 0 0 4 0-5 1-5 0-2 0 13 1-14 0 12 0-6 1 4 0 3 0-1 1-7 0-1 1 2 0-5 0 13 1-3 0 2 1 7 0-6 0 8 1 8 0-6 0 1 1-6 0 10 0 1 1-11 0-2 0-3 1 10 0-3 0-9 1-3 0-3 1 2 0-7 0 1 1 9 0 3 0-9 1 17 0 2 0-6 1 1 0-8 0 6 1-3 0 7 0-1 1 1 0-10 0 5 1-2 0-4 0-4 1 8 0 4 1-16 0 24 0-11 0 8 1-7 0-5 0 15 0-14 1 2 0-11 1-11 0 16 1-22 0 5 0-6 1 6 0 7 1-5 0 3 1-1 0-3 1 12 0 7 0-3 1 4 0 2 0 8 1-14 0 7 1-10 0 7 0-8 1-2 0-3 0-3 1 4 0 18 1-17 0 16 0-5 0 22 1-15 0-2 0-3 1 9 0 1 0-18 0 22 1-14 0 6 0-17 1 1 0-9 0 38 0-44 1 25 0 11 0 8 0-7 0 3 0 27 0-9 1 1 0-14 0 17 0-15 1-13 0 3 0-17 1-1 0 2 1 6 0 1 1-2 0-6 0-1 1 8 0-1 0-3 1 8 0-11 0 5 1-6 0 4 0-2 1-4 0-3 1-1 0 6 0 3 1-6 0-6 0 2 1 2 0-7 0-2 1 5 0 9 0-2 1-5 0 7 0-3 1 2 0-4 0 5 1 5 0-11 0 16 1 8 0-5 1-4 0-2 0-8 1 2 0-4 0 3 1-2 0-4 0 6 1-5 0 8 1-12 0-10 0 8 1-1 0 1 1 1 0 10 0-2 1 16 0-8 0 1 1 3 0-6 0 2 1-6 0-2 0 14 1-11 0 1 0-3 1-2 0 5 0-2 1 0 0-4 1 15 0-7 0-4 1 9 0-8 0 11 1-7 0-1 1 9 0 2 0 1 1-8 0 9 0-2 1-2 0-4 0-10 1 0 0 5 0-7 1 0 0 8 0-2 1 1 0 6 1-5 0-9 0 2 1-1 0 8 0 3 1 3 0-7 0 6 1-15 0-5 0 11 1-9 0 8 0-5 1 6 0 3 0-8 1 7 0-10 0 8 1-5 0-6 0 14 1 2 0-7 1 6 0 7 1 0 0 9 0-11 1-4 0-2 1 1 0-5 0 6 1 0 0-12 0 9 1 4 0-12 0 8 1-2 0 1 0 5 1-14 0 2 0 3 1 5 0-2 0-1 1 0 0 4 0-8 1 4 0 3 0 1 1 2 0-4 0 3 1 1 0-13 0 7 1-2 0-1 0 12 1-9 0 13 0-7 1 1 0 5 0-17 1 3 0-1 1-15 0 20 0-9 1 5 0-4 0 13 1-8 0 2 0-4 1 7 0 7 0-4 1 1 0-7 1 5 0 1 1-1 0-3 0 2 1-2 0-3 0 1 1-3 0-1 0-2 1 2 0 4 0 3 1-6 0-4 0 6 1-8 0 6 1 4 0-1 0-1 1 9 0 2 0 2 1-1 0-5 1 4 0 5 0-14 1 11 0-5 0 1 1-6 0-5 0 2 1 4 0-10 0 2 1 6 0 5 0 3 1-6 0 10 0-8 1 9 0-10 1 5 0 1 0 3 1-5 0-1 0-4 1 16 0-15 0 10 1-1 0-2 0 3 1-13 0 4 1 0 0 5 1-11 0 5 0-2 1-10 0 8 0-4 1 1 0-2 0-1 1 4 0 7 0-3 1 9 0-2 0-3 1-4 0 6 1-12 0 2 0 1 1 10 0-6 0 1 1-3 0 6 0-10 1 2 0-3 0 1 1 1 0-8 0-4 1 8 0-3 1 5 0 8 0 5 1-11 0 11 0 1 1 7 0-16 0 8 1 1 0-9 0-1 1-2 0 1 0-4 1-2 0 4 0 8 1-7 0 12 1-26 0 10 0 25 1-29 0-7 0 9 1 4 0-17 0 3 1 17 0 4 0 2 1 3 0-4 0 2 1 1 0-9 0 1 1 5 1-3 0 3 0-1 1-6 0-5 0 3 1-6 0 8 0-1 1 0 0 9 0-6 1-1 0 2 0-1 1 0 0 2 0 12 1-9 0-4 0 9 1-12 0 13 0-11 1-2 0 1 0 1 1-12 0 4 0 2 1-5 0 4 0-5 1 4 0 4 0 14 1-6 0 5 0-7 1 12 0-7 0 3 1-12 0 4 0 3 1 1 0-9 0 7 1-11 0 2 0 2 1 5 0 5 1-4 0 2 0 3 1-3 0-13 0 9 1-6 0 8 0-1 1 4 0-4 1 2 0 3 1-6 0-1 0-1 1 9 0-11 0-6 1 12 0-5 0 11 1-3 0 7 0 5 1-7 0-6 0 3 1-2 0-4 0 1 1-2 0 2 1-2 0 3 1-1 0 1 0-6 1 4 0 17 0-7 1 11 0-10 0 6 1-11 0-1 0 4 1-4 0 6 0-1 1 6 0-3 0 6 1-5 0-4 0-1 1-6 0 10 0-2 1-2 0-4 0-4 1 5 0-11 0 4 1 4 0-2 0 13 1 11 0-5 0 8 1 13 0-27 0 19 1-19 0 3 0 3 0 19 0-14 0-10 1-3 0 7 0 27 0-15 1-30 0 24 0 10 1-15 0-13 0 15 1 19 0-18 0-3 1-12 0 11 1 3 0 1 0-9 1-1 0 7 1-16 0-4 0 3 1-4 0 6 0 3 1 3 0 3 1 5 0-10 0-4 1 6 0-8 0-1 1 3 1-4 0 9 0-4 1-4 0-2 0 7 1-6 0 8 0-3 1-8 0 12 1 5 0-6 0 3 1 1 0-12 0 15 1-12 0 10 1 7 0-4 0-5 1-2 0 1 0 3 1-6 0 4 1-6 0 5 0 1 1 3 0-3 1 15 0-17 0 1 1-9 0-2 1 1 0-1 0 5 1-3 0 2 0 1 1 8 0-2 0 6 1-7 0 2 1 2 0-1 0-8 1-5 0 8 1-11 0 6 0-9 1 5 0-12 0 11 1-7 0-1 0 4 1 3 0 4 0-7 1 6 0-3 0-6 1 3 0-2 0 9 1-11 0 3 1 2 0 11 1 6 0-1 0 5 1-6 0 1 0-9 1 2 0-5 0-2 1 8 0 1 0-11 1 5 0-6 0 3 1-11 0 6 1-3 0 2 0 7 1 5 0 9 1 0 0-5 1 2 0-2 1 11 0-6 0 1 1 6 0-4 0 11 1-12 0 8 0-16 0 6 0 14 1-19 0-10 0 16 0-8 1 15 0-14 1 4 0-2 0 8 1-3 0-2 0 3 1 0 0 17 0-9 1 2 0 1 1-4 0-3 0-15 1 4 0-1 1 3 0-6 0-3 1 3 0 5 0-16 1 5 0 5 0-3 1 11 0-9 1-4 0 7 1 3 0 1 1 0 0 9 1-4 0-6 0-7 1 4 0 3 0-6 1 1 0 1 0-2 1-10 0 14 0 4 1 0 0 6 0 1 1 2 0-9 0 1 1 0 0 2 0-4 1 2 0-7 0 10 0 2 1 0 0 9 0-12 0 1 1-2 0-10 0 17 1-4 0-6 0-1 1-4 0 2 0-6 1 3 0-5 0-2 1 0 0-8 0 5 1-8 0 2 0 10 1-1 0-5 1 7 0-4 1 9 0-9 0 5 1 3 0-2 0-9 1 9 0 5 1-9 0 2 0 2 1-2 0-1 0 11 1-7 0 17 0-3 1-6 0-11 0 5 1-5 0 6 0 1 1 0 0 1 0-9 1 11 0-4 0-6 1 5 0-14 0-4 1 5 0 12 1 4 0 7 0 5 1-2 0-4 1-3 0-2 0-8 1 6 0 5 1-9 0-2 0 10 1 1 0-14 0 1 1 7 0-6 0-11 1 13 0 2 0 7 1-10 0 10 0-7 1 0 0-1 0-12 1 2 0 14 0-10 1-2 0 14 0 6 1 1 0 5 0-2 1-4 0 8 0-14 1-8 0-6 1 13 0-9 0 12 1-9 0 5 0-1 1 6 0 6 0-4 1 3 0 3 0 4 1-13 0 1 0-6 1 0 0 2 0-3 1 11 0-21 0 8 1-2 0 4 0-1 1 8 0-10 0-2 1-1 0 3 1 7 0-11 0 6 1-6 0 12 0-6 1 4 0-2 0 8 1-5 0-1 1-4 0 6 0-10 1 1 0 4 0-3 1-1 0-2 0 14 1-1 0 3 0-1 1 0 0-1 0-1 1 6 0-3 0-11 0 13 0 5 1-6 0-5 0 6 1 3 0-17 0 7 1-7 0 1 1-5 0 13 0-6 1-4 0 12 0-11 1 4 0 5 0 9 1 2 0-7 0 10 1-5 0-10 0 6 1-10 0-9 0-2 1-3 0-3 0-2 1 3 0-4 0 8 1 7 0 4 0 4 1-6 0 11 0-8 1-3 0 12 1-9 0 7 0-3 1 5 0-6 0 7 1-1 0 3 0-9 1 2 0 2 0-12 1-4 0 12 0-2 1-1 0-4 0 2 1 5 0-1 0 4 1-9 0 3 0-7 1 11 0-4 0 1 1 4 0 5 0 1 1-8 0-3 0 7 1-8 0 11 0 3 1-9 0-4 0-4 1-2 0 11 0-8 1 4 0 8 0-3 1 1 0-4 0 8 1-4 0 1 0-2 1-6 0 6 0-12 1 7 0-2 1-5 0-1 0 11 1 8 0-10 1 2 0-5 0 4 1-12 0-2 0 12 1 0 0-5 0 4 1 9 0-8 0 7 1-10 0-3 0 11 1-2 0-7 0-9 1-1 0 4 0-6 1-5 0 9 0-6 1 8 0 3 0-1 1 5 0-7 0 6 1 1 0 4 0-13 1 1 0-2 0-1 1 2 0-4 0 6 1-4 0-1 1 2 0 4 0-17 1 11 0 6 0-4 1 12 0-1 1 10 0-2 0-3 1 3 0-11 0 1 1 3 0 1 0-7 1 4 0 5 0-9 1 2 0 7 0-3 1-3 0-11 0 6 1-6 0 9 0-1 1-5 0 3 1 6 0 4 0-12 1 4 0 8 0-1 1 3 0 2 1-8 0 2 1 1 0-5 0 3 1 6 0 10 0-8 1 0 0-7 0-6 1 11 0-7 0 3 1-10 0-5 1 10 0 6 1-5 0-3 1 5 0-4 1-2 0-5 1-7 0 11 0 5 1 0 0-6 1 13 0-1 0-3 1 2 0-5 0 3 1-10 0 6 1-7 0 7 0 9 1 1 0-11 0 4 1 0 0 1 0 6 1 6 0-11 0 10 1-4 0-3 1-2 0 4 0 2 1-8 0 2 1 0 0-1 0-4 1 2 0-7 0 14 1-6 0 11 0 5 1-3 0 3 0 3 1-3 0-4 0-2 1-2 0-8 0-4 1 3 0-7 0-1 1 5 0-2 0 3 1-6 0 8 1 5 0-6 0 4 1-3 0 4 0-3 1 4 0-11 0 7 1 0 0 2 0 1 1-4 0-3 0-2 1 6 0-4 0 7 1 5 0-10 0 3 1 3 0-6 0 5 1-2 0 3 0-2 1 2 0-11 1 13 0-11 0 3 1 5 0 2 0 3 1-2 0-3 0 5 1-11 0 8 0-1 1 5 0-5 1 14 0-10 0-4 1 3 0-3 0 10 1-12 0 6 0 1 1 1 0-3 0-5 1-3 0-7 0-2 1 2 0-6 0 11 1-4 0 5 0 2 1 10 0-1 0 3 1-6 0-3 0-7 1-3 0-4 0 3 1 0 0 1 0 10 1 0 0-4 1-3 0 7 1-8 0 5 1-2 0-9 1 9 0 2 1-6 0 5 0 3 1-1 0-3 1 4 0-3 0 1 1-18 0 23 0-6 1 5 0 9 0-2 1-1 0-9 0-11 1 3 0-2 0-1 1 3 0-3 1 6 0-6 0-4 1 5 0-10 0 11 1 5 0-1 0-5 1-3 0 3 0-1 1 5 0 3 1-3 0-9 0 11 1 2 0 3 0-7 1-3 0 6 0 1 1-3 0 18 0-13 1-3 0 4 0-5 1-4 0 3 0 2 1 2 0-5 0 15 1-10 0-2 1-1 0 1 0-2 1 4 0-2 0-3 1 5 0 11 1-1 0 2 0-12 1-2 0 1 1-2 0-7 0 10 1-3 0 8 0 2 1-7 0-3 0 7 1 2 0 3 0-4 1-5 0 2 0-11 1-2 0 7 0-8 1 12 0 6 0-2 1-3 0-4 1-10 0 3 0 5 1 1 0-5 0-2 1 10 0 10 0 10 1-11 0 9 0 4 1-17 0-1 1-2 0 3 0-1 1-10 0 2 0 4 1-5 0 4 0 8 1-3 0 4 0 3 1-1 0 5 0 2 1-6 0-3 0-10 1 5 1 3 0-3 0-2 1-4 0 1 0-11 1 0 0-1 0-2 1-5 0 1 0 9 1 4 0-2 0 12 1 0 0-5 0-1 1 9 0-1 0 8 1-1 0 1 0 2 1-3 0-5 0-1 1-7 0 3 0 4 1 7 0-14 0 4 1-1 0-2 0-2 1-3 0 4 0-3 1 2 0 3 1-7 0-2 0 3 1-1 0 1 0-4 1 0 0-3 1 4 0-2 0 6 1 2 0-3 0 5 1-3 0 2 0 8 1 4 0-10 0 7 1-16 0 4"/>
<path marker-start="url(#mmm)" marker-mid="url(#mmm)" marker-end="url(#mmm)" d="M55 243l0 4 0 2 1 0 0 4 0 3 1 3 0 2 0 2 1 2 0 1 0 2 1-1 0 3 0 1 1 0 0 2 0 1 1 4 1 1 0 1 1 2 0 1 0 1 1 0 0 3 0-1 1 0 0 1 0-3 1 2 0-2 1 1 0 1 0-2 1-2 0 3 0-1 1 0 0-1 0 5 1 0 0-2 1 0 0 1 0-2 1-3 0-1 0-1 1-1 1 0 0 3 1 3 0 1 0 2 1-1 0-1 1-1 0-1 1-1 0-1 0 3 1 0 0 2 1-2 1-1 0-2 0-1 1 0 0 1 0 1 1 0 0 3 1 2 1-1 0 1 1 0 0-1 0-2 1 0 0-2 0-1 1 0 0-2 0-2 1-3 0-1 0-2 1-2 0-1 1 1 0 2 0 2 1 2 0 3 0-1 1 1 0-1 0-1 1-3 0 1 0 1 1-2 0-3 1 0 0-1 1-1 0-1 0 2 1-2 0-2 0-1 1 0 0-1 0 2 1-2 0-2 1 0 0 1 1 0 0 3 1 3 0 1 0-2 1 2 0-1 0-2 1 0 0-2 0-1 1-1 0-3 0 1 1-2 0-3 1 1 0-2 0-1 1 1 0 1 1 2 0-1 0 2 1 1 0-1 1-1 0-1 0-2 1-1 0-3 1-2 0-1 1 0 0-1 0-1 1 2 0-1 1 4 0-1 1 1 0 2 0 1 1 2 0 2 1 0 0-1 1-1 0-2 0-2 1 3 0-2 0 1 1 0 0 2 0 3 1 1 0 2 1 1 0-2 1 2 0-2 1-1 1-2 0-2 0-1 1-2 0-2 0 1 1-2 0 1 0 1 1 1 0 1 1 1 0 2 1-1 0 1 0 2 1-2 0 1 0-3 1-2 0-3 1-3 0-5 1-2 0 1 1-4 0 3 0-2 1-2 0-2 1-2 0-1 0-2 1 1 0 1 1 0 0-1 1 0 0-2 1 0 0 1 0-3 1 0 0-2 1 1 0-2 0 1 1-1 0 1 1-3 0 2 0-3 1 1 0 1 1-1 0-1 1 1 0-1 0-1 1 0 0 3 1 1 0 1 0 1 1 0 0 3 0 4 1 1 0 1 0 2 1 0 0 2 1 3 0 2 0 2 1 0 0 2 0-5 1 1 0-1 0-1 1-2 1 1 0 1 1 1 0-1 1 0 0 1 1-2 0 1 0 1 1 1 0-2 1 1 0 4 0-1 1 1 0 1 1 0 0 2 0-1 1 3 0-1 0-2 1 2 0-3 1 1 0-1 1 1 0-1 1 0 0 2 1-1 0 1 1-1 0 2 0 1 1 3 0-2 1 1 0-1 0-2 1 1 0-1 1-3 0-2 1-1 0-1 0-1 1-1 0-2 1-2 0-1 1 2 0 1 0 1 1 0 0 1 1 2 0-4 1 2 0-2 0-4 0 9 1-3 0 2 0 3 0-4 1 4 0 4 0 2 1 3 0 2 0 1 1-1 0 4 0-1 1 3 0-1 0 2 1 3 0 2 0 1 1 2 0-1 1 0 0 2 1-1 0-1 1 1 0 2 0 2 1 0 0 1 0 2 1 0 0 2 1 0 1 1 0 1 1-2 0 2 0-1 1 0 0-2 1 0 0-3 1-5 0-1 1-1 0-3 1 2 0-1 0 2 1-1 0 1 1-2 0-2 0-2 1-2 0-1 0-3 1-1 0-2 0-2 1-1 0-4 0 1 1-2 0 1 0-2 1 0 1-2 0-1 1-4 0-1 0-2 1-3 0-2 0 12 0-16 0 22 0-8 1-10 0 11 0-15 0 2 0 14 0 9 0-5 0-9 1-8 0 2 0 1 1-1 0 2 0 2 1 3 0 2 1-1 0 2 1-1 0 1 0 2 1 0 0 1 0 2 1 1 0 1 1 0 0 3 0-1 1-1 0-1 1 1 0 4 0-1 1 1 0 3 1-3 0-2 1 0 0 1 1 2 0-1 1 1 0-2 0 3 1-2 0 1 1 1 0 1 1-1 0 1 1 1 0-1 1 1 0 1 0 1 1-1 0 2 1-1 0-1 1 2 0 1 0-2 1 0 0-1 1-2 0 2 0-3 1 1 0 1 0 1 1-10 0-5 0-13 1 6 0-27 0-13 0 21 0-20 0-26 0 16 0 12 0-10 0 18 0-24 0 51 0-14 0-32 0 56 0-30 1 6 0 29 0-50 0 32 0-34 0 35 0-44 0 25 0 20 0-44 0 56 0-33 1-4 0 3 0 3 1 11 0 11 0 5 1 13 0 5 0 8 1 2 0-2 1 0 0-1 1 0 0 4 0-1 1 1 0 2 0-3 1-1 0 1 1 0 0-1 1-1 0 1 1 1 0 1 0 1 1 1 0-1 1-1 0 1 1-1 0 1 0 1 1 1 0 2 1-1 0 1 1-2 0-1 1 0 0 3 0-2 1 1 0 1 0 1 1-2 0-3 1 0 0-1 1 3 0-1 1 0 0 1 0-2 1 0 0 2 1-1 0 2 1 1 0 1 1 2 0-1 1 2 0-3 0 1 1-1 0-3 0 1 1 0 0-3 1-2 0 3 1-2 0 3 0 1 1 1 0 1 0 3 1 0 0 1 1-3 0 1 0-2 1 0 0-1 1 1 0-1 0 2 1-2 0-4 1 1 0-3 0-2 1 0 0-1 1 2 0 2 0-3 1 2 0 2 0 3 1-2 0-1 0 2 1 3 0-1 1 0 0 1 0-2 1-1 0-2 0-2 1 0 0-2 1-1 0-2 1 1 0 2 1 4 0 3 0 1 1 2 0 1 1 0 0-1 0-1 1 0 1 0 0-3 0 1 1-3 0 3 1 1 0 3 1-2 0 1 1-1 0-1 1 2 0-3 0 2 1-2 0 1 1 1 0 1 1 0 0 2 1-1 0-1 1 0 0-1 1 2 0-1 1-1 1 1 0-1 1-2 0 3 0-2 1 0 0 1 1 0 0 2 0-3 1 1 0 1 0 1 1-1 0 1 0-2 1 2 0-2 1 2 0-2 1 0 0-3 1 0 0-1 1 0 0-4 1 2 0-1 0 2 1-4 0 4 0-1 1 3 0 1 1-3 0-3 0-3 0-2 1-4 0-16 0 2 0-3 0 10 0 5 0-16 0 24 0-9 0-10 1 9 0 5 0 8 0-19 0 5 1 4 0-1 0 2 1-2 0 2 0 9 1 0 0 2 0 3 1 2 0 1 0-2 1 2 0-1 0-4 1 3 0-3 0 1 1-3 0 2 0-1 1 1 0 1 0-2 1 0 0-1 0-1 1 0 0 2 0 2 1-1 0 2 0-1 1 4 0-1 1 1 0-1 0-1 1 2 0-2 0-1 1-2 0-2 1 2 0 3 1 0 0 1 1 0 0 2 1 0 0-4 0-2 1-2 0-1 0-1 1-2 0 1 1 1 0-1 0 2 1-3 0 1 1-1 0-1 1-1 0 3 0 1 1 0 0 1 1 1 0-1 0-2 1-1 1 0 0-1 1-5 0-7 0 1 1-6 0-14 0-23 0-9 0 15 0-3 0 11 0 17 0-7 1-17 0 19 0-29 0 14 0 2 0-17 0 16 0-18 0 1 0 41 0-17 0-14 0 33 1-32 0 37 0-26 0 3 1 6 0 16 0 2 1 6 0 5 0 6 1 1 0-2 0 1 1-1 0 1 0 2 1-2 1 2 0-3 1 1 0-1 1 0 1 2 0 1 0 2 1-1 0 1 1-1 0 1 1-2 0-1 0-2 1 1 0-3 0-1 1 0 1 2 0 1 0 3 1 3 0-2 1 2 0 2 1-1 0-2 1-1 1-2 0 2 1-1 0-1 0-1 1 0 0-3 0 2 1 0 0-3 1 2 0 2 0-3 1 0 0 2 1-3 0 1 1-1 0 1 0-4 1 0 0-2 1 1 0-3 0-2 1-2 0-3 1 0 0-1 1 0 0 3 1 0 0-3 0 1 1 1 1-2 0 1 0-2 1 0 0-1 1 1 0-2 0 3 1 1 0 5 1 3 0 3 0 2 1 2 0 1 0 1 1 1 0 1 1 0 0-1 1 0 0 1 0 1 1 1 0 1 0 2 1 1 0 1 1-2 0-2 0 1 1-2 0 1 1-2 0 2 0-1 1 0 0-1 1-1 0-1 1-1 0-1 0 3 1-1 0 3 0 3 1-1 0-1 0-2 1-2 0-3 1 0 0-1 1-1 1 0 0 1 1-2 0 2 0 1 1 0 0-3 0 2 1 0 0 3 0-1 1 1 0 1 0 4 1-3 0 1 0 1 1-1 0-1 0-3 1-1 0-3 1-3 0 2 1-3 0 2 1 0 0-1 1 2 0 1 1-1 0 2 1 1 0 1 0 2 1-2 0 1 0-4 1 2 0-1 0 3 1-2 0 1 1-1 0-1 1 2 0 3 1 1 0 1 1 0 0-1 0-1 1-1 0-4 0-1 1 1 0-1 0 3 1 0 0 2 0 2 1 2 0 1 1 1 0 2 0-1 1 1 1-1 0 2 1-2 0-2 1-1 0 2 0-1 1 0 1-1 1 0 0-4 0 2 1 0 1 1 0-1 1 1 0 1 1 0 1-1 0 1 1-5 0-8 0-3 1-6 0-25 0 5 0 18 0-28 0 16 0-17 0 3 0 13 0-12 0 20 0-5 1 3 0-14 0 17 0 1 0-6 0 11 0-18 1 6 0 21 0-5 0-7 1 12 0 2 0 4 1-1 0 6 1 2 0-1 0-1 1 2 0 3 1 1 0 1 1 2 0 1 1 1 0-2 1 0 0-4 0 1 1-2 0-1 1 0 0 2 0-1 1 2 0 1 1-3 0 2 1-2 0-1 1 1 0 1 1-1 0 1 1 1 0-1 1-1 1-1 0-1 0-2 1 1 0 1 1 1 0-1 0-1 1 1 0 2 0-1 1-1 0 1 0 1 1-1 0-1 1-1 0-1 1-2 0 1 1 2 0-2 1 4 0-1 1 2 0-1 1 0 0-3 0-1 1 1 1 0 0-2 1-1 0-2 0-2 1-4 0-4 0-3 1-2 0-3 0-2 1 0 0-1 0-2 1 0 0-1 1-2 0-3 0-2 1-2 0-2 1-1 0 1 1 1 0-2 1 0 0 1 1 1 0-1 1-1 0 1 0 2 1 0 0-1 1-3 0-3 0-2 1-4 0-1 1 1 0-1 0 4 1 0 0 2 1 3 0 2 0 2 1 0 0 1 0 1 1 3 0-1 0 2 1 0 0 1 0 3 1 1 0 1 0 3 1 0 0 4 1 2 0 3 0-2 1-1 0-1 1-3 1 1 0 1 0 2 1 0 0 3 1-2 0-2 1 0 0-2 0-1 1-1 0-2 1 1 0-2 0-1 1-1 1-4 0-2 0-2 1-2 0-2 0-3 1-1 0-2 0-1 1 0 0-2 1 3 1 3 0-2 1 0 0-4 1-3 0-2 1-1 0-1 1 2 0-1 0-2 1-1 0-1 1 0 0-2 1-2 0-1 1-3 0 2 0-1 1 3 0-1 1 2 0-2 1-3 0-1 1-2 0-1 0-1 1 1 0 1 0 1 1 1 0 1 1 1 0-1 1-1 0 1 1 0 0-1 1 0 0-1 0-2 1-3 0-1 0 7 0-18 0 5 0-1 0 4 1-2 0 13 0-8 0-12 0 13 0 5 0-19 0 18 1-18 0 7 1 3 0 1 0 2 1 3 0 2 0 2 1 2 0 2 1 1 0 1 0 1 1 2 0 1 0 1 1 0 0-1 0 5 1-1 0 1 0 2 1-1 0-1 0 3 1-1 0-2 0-1 1 1 0-2 0 3 1 1 0 2 1 2 0 4 1 3 0 1 0 2 1 1 0 2 1-1 0 1 1 0 0 1 1 1 0-2 1 1 0 1 1 2 0 2 0 2 1 0 0 1 0 3 1-2 0 1 0 1 1 0 0-2 1 2 0 1 0 1 1 4 0-2 1-1 0-1 0-3 1-1 1 0 0 2 0 2 1 1 0 3 0 2 1 1 0 1 1-1 0 1 1-5 0 1 0 1 1-1 0-1 1 3 0 2 0 1 1 0 0 1 0 2 1 1 1-2 0 1 1 1 1-5 0-1 1-2 0 2 0-1 1 2 0 1 0 2 1 2 0-1 1 4 0-4 1 1 0-5 0 2 1-2 0-1 0 2 1-4 0 1 0 1 1 0 0 2 1-2 0 2 0 1 1 1 0-1 1 0 0-1 0-2 1-3 0-1 1 1 0-2 1 0 0 1 1-2 0 1 1-2 0 3 1 1 0-1 1 0 0-1 0 3 1-2 0-1 0-2 1 0 0-1 1-1 0 1 1 0 0-1 1 2 0 4 1 0 0-1 0 2 1 1 0-2 1 3 0 1 1-3 0 1 0 2 1-1 0-1 0-1 1 0 0 1 0 2 1 1 0 2 0 3 1 3 0 2 0 1 1 1 0 1 1 1 0 2 1-1 0 1 0-2 1 1 0-1 0 2 1-1 0 1 1-1 0 1 0-2 1 2 0-1 0-1 1 0 1 1 0 1 1 2 0-3 1 2 0-3 1 1 0 2 0-1 1 0 0 3 0-1 1 0 0-2 0-4 1 0 0 1 1-1 0 1 1 1 0 1 1-1 0-1 1-3 0-1 1 0 0 1 1 0 0-1 1-1 0-1 0-2 1-2 0-2 1 1 0-2 0 1 1 1 0-2 0 3 1 1 0 4 0 2 1 0 0 1 0-4 1-1 0-2 0-1 1-1 1 2 0-1 1 1 0 1 1-2 0 2 1 0 0 2 0 3 1-1 0 1 0-2 1 2 0-4 1 1 0-2 1 1 0 1 0 2 1-4 0-3 0-3 1-10 0-21 0 3 0 13 0-19 0 13 0 2 0-4 0 12 0-18 1 1 0 1 0 22 0-18 0-1 0-7 1 11 0-1 0 6 1 1 0 7 0-1 1 4 0 1 0 6 1 0 0-3 0 2 1 0 0 1 0 1 1 0 0 2 0 1 1 2 0-2 0 3 1 0 0 1 1 2 0-2 1 1 0 3 0-1 1-1 0-1 1 1 0-1 1 0 0 1 0 1 1-2 0-3 0 1 1-2 0-2 1 1 0 1 1 2 0-1 1 2 0-2 0-2 1 0 0-1 1 0 0-1 1 0 0 1 0 1 1-2 0-1 1-1 0 1 1-3 0 1 1 0 0 1 1 0 0-2 0-1 1-4 0 1 1-4 0 2 1 1 0-2 0 1 1 1 0 1 1 1 0-1 1 0 0 2 1 2 0 3 0 1 1 4 0 1 1-2 0 1 1-2 0-2 1 2 0-1 1 3 0 1 1 1 0 4 0 1 1-1 0 1 1-3 0-1 0-4 1-3 0-2 0-1 1-1 0-2 0 1 1 0 1 4 0-1 1-1 0 2 0-1 1 1 0 4 1-1 0 2 0-1 1 0 0-2 1 1 0 1 0-2 1 0 0-1 1 1 0 1 1 1 0-1 0 2 1 0 0 1 1 1 0 2 0-1 1 3 0 2 0 3 1 1 0 1 0 1 1 0 1-1 0-1 0-2 1 1 0-1 0-2 1-1 0-3 0 1 1 0 0-1 1 3 0 2 0 3 1 0 0 1 1 1 0 1 0-3 1-1 0-2 1-1 0-1 0-1 1 1 0 2 1 0 0-2 1 2 0-2 1 0 0-2 1 0 0-1 0-2 1 0 0-1 0-2 1 0 0 2 0 2 1 1 0 1 1-1 0-1 1-3 0-1 0-2 1-2 0-1 1-1 0-1 1 0 0 1 1 0 0-1 1 2 0 3 0 1 1 2 0 2 0 1 1-3 0-7 1-4 0-3 0-21 0 14 0-37 1 36 0-42 0 15 0-16 0 20 0-12 0 17 0 4 0 2 0 11 1-40 0 39 0 5 0 2 0-41 0 43 1-36 0 18 0-5 1 10 0 8 0 8 1 3 0 5 1-1 0 1 0 1 1 1 0 1 1-1 0 1 1-1 0-1 1-2 1 0 0 2 1 1 0 1 1 0 0 1 1-5 0-7 0-39 0 1 0 37 1-8 0-12 0-20 0 13 0 5 0 4 1-16 0 4 0-8 0 12 0 8 0 4 0-19 1 15 0-1 0 8 1 9 0 1 0 3 1 7 0 4 0 2 1 2 0-1 1 1 0 1 1 1 0 1 1 1 0-1 1 0 0 1 1-3 0-2 1-1 1 1 0-1 1 0 0 3 1-2 0 2 1 2 0-2 0 1 1 0 0 1 1 2 0-3 0 1 1 0 0 1 0-2 1 1 0 2 1 2 0-3 0 1 1-1 0-1 1 0 0-1 1 0 0 2 0-1 1 2 0 1 0-2 1 3 0-1 0 2 1 0 0-2 0-1 1 0 0-1 1-2 1-1 0 1 1-2 0-1 0-2 1-1 0-1 0-2 1 2 0 1 0-2 1 3 0-1 0-2 1 1 0-1 0-1 1 2 0 2 0-1 1 2 0 1 1-3 0-3 1-1 0-4 0-2 1 0 0-2 0 1 1 3 0 1 0 2 1 0 0 1 1 0 0 2 0-1 1 1 0-2 1 4 0 3 0 1 1-2 0 2 1 0 0-2 1-2 0 1 1 1 0-1 1 0 0-1 1 1 0-1 0 2 1-1 0-3 1 0 0-2 1-2 0-1 0 2 1 1 0 3 1 2 0 2 1 0 0 1 0-3 1-1 0-2 1 0 0 1 1 1 0 2 1 0 0 3 0-1 1-2 0 1 1-1 0 3 0 1 1-2 0 3 1-2 0 1 1-4 0 1 0 1 1-1 0 2 0 2 1 0 0-1 1-1 0 1 1 1 0 1 1 1 0-1 1 1 0-2 1 3 0-1 1 3 0-1 1 2 0-2 0 1 1 0 0-1 1 1 0-4 1 1 0-1 0-2 1 0 1 0 0 2 0-1 1 2 0 1 1 0 0 1 0-2 1 1 0-3 0 4 1 0 0-2 1 2 0 1 1-2 0 1 0-2 1 2 0-4 1-3 0 1 0 2 1 0 0 1 0 1 1-2 0 2 1-2 0-2 1 1 0 2 0 3 1-2 0 1 1 0 0 1 1-2 1-2 0-1 0-1 1-2 0-2 1 2 0 1 0 1 1-1 0 2 0 1 1 0 0-1 0 2 1 0 0-1 1-2 0 1 1-2 0-3 0-3 1-1 0-2 0-1 1 0 0-1 1-3 0 2 0-3 1 1 0 1 1 2 0 1 0 1 1 0 0 1 0 1 1 1 0 1 0-2 1-1 0-1 1 3 0-1 1 2 0 2 1 0 0 1 0-5 1-5 0-10 0-25 0-7 0 19 1-8 0-9 0 11 0-40 0-6 0 9 0 16 0 40 0-26 1 28 0-58 0 12 0-8 0 6 0 36 0-16 0-19 0 31 0-13 0 7 0 20 0-61 1 25 0 24 0-33 0 14 0 18 1 5 0 7 0 4 1 4 0 9 0 5 1-1 0-1 0-2 1 0 0-3 0 1 1-1 1 0 0-2 0 1 1-1 0 1 0 1 1 1 0 3 1 1 0 3 0-1 1 1 0-1 1-1 0-2 0-1 1-2 0 5 0-2 1 3 0 2 0 4 1 0 0 2 1 0 0-1 1-1 0-1 0-1 1-4 0 2 0-1 1-1 0-1 1 1 0-1 1 3 0-1 0 3 1-2 0-1 1-1 0-2 1 1 0-3 0 2 1-1 0-2 0 1 1-2 0-1 1-1 0 1 1 2 0 1 1-1 0 1 1-3 0-2 0-1 1 1 0-2 0-1 1-1 0-2 0-3 1-4 0 1 1-1 0-1 1-1 0-1 0-1 1-2 0-2 0-1 1-3 0-1 1 1 0-2 1 1 0-1 0-4 1 0 0-3 0-1 1-1 0-3 1 0 0-2 1-1 0-3 0 2 1-1 0-1 1-1 1-1 0 1 1-1 0-1 1-1 0-1 1-2 0-3 0-4 0 3 0 3 1-5 0 13 0-5 0-3 0-8 0 5 0 15 0-1 1-13 0-1 0 4 1 4 0 3 1 2 0 3 0 2 1 0 0 3 0 2 1 2 0 1 0 1 1 0 0 3 1 1 0 2 1 3 0-1 0-3 1 1 0-1 1 1 0-1 1 4 0 2 0 1 1 2 0 1 0 1 1 1 0-1 1-1 0-3 0-1 1 0 0-3 1 1 0 2 0 1 1 1 0 3 0-1 1 0 0 2 1-2 0 1 1-4 0 1 1-2 0 1 1-2 0-2 1-3 0 3 1-3 0-2 0 1 1-1 0-2 1-2 0 2 1-1 0 1 0 4 1-2 0 1 1-2 0-1 1-1 0 1 1-1 0-1 0-2 1-3 0-1 0-1 0-2 1-2 0 12 0-5 0 4 0-13 0 11 0-8 0 13 1 0 0-16 0 4 0 2 1 0 0 2 0 3 1 2 0 1 0 2 1 4 0 1 1 2 0 2 0-3 1 0 0-1 1-1 0-2 0-2 1 1 0 1 0 3 1 1 0 3 0 1 1 3 0 1 0 4 1 2 0 2 0 3 1 2 0 2 1 1 0-2 1 0 0 2 1-4 0-1 0-1 1-2 0-3 1 3 0-3 1 2 0-2 1 0 1 2 0-1 1 0 0-1 1 0 0-2 1-2 0-4 0-4 1-1 0 8 0-10 0-9 0 3 0 5 0 2 0 6 1-7 0 15 0-24 0 20 0-7 0-16 0 6 1-2 0 21 0 1 0-19 0 5 1 2 0 2 0 3 1 4 0-3 0 2 0-11 1-1 0 8 0 3 0-13 1 13 0 5 0-6 0-3 0 1 0 9 0-4 0-4 1 10 0 1 1 0 0 5 0 2 1 1 0 4 0 3 1 1 0 1 1 4 0 4 0 1 1 1 0 1 0 1 1 0 0 2 1-2 0-1 0-1 1-1 0-1 0-2 1 2 0-3 0 1 1 0 0 1 1-2 0 2 0-1 1-2 0-1 0-1 1-3 0-3 1-5 0 2 0-4 1-1 1-1 0-3 1-1 0-1 0-2 1-2 0-1 0-2 1-3 0-1 0-3 1 0 0-2 0-3 1 0 0-3 0-3 1-2 1-1 0-1 0-2 1 0 0 2 0-1 1 0 0 2 1-1 0 2 0-1 0-2 1 2 0 11 0 2 0-3 0-8 1-1 0 10 0-7 0-2 1-1 0-2 1-1 1 0 0 2 0 3 1-1 0 3 0 3 1 1 0 3 1 0 0 4 1 1 0-1 0 3 1 1 0-1 0 2 1 3 0 1 0 2 1 4 0 3 1 2 0 2 0-1 1 4 0-1 0 4 1 2 0 1 0 1 1 3 0 3 0 1 1 1 0 1 1 1 0-1 1-2 0 1 1-2 0-1 0-1 1 1 0-1 0-2 1 0 0-1 1 1 0-1 0 2 1 0 0 1 0-2 1 3 0-2 1 0 0-1 1-1 0-2 0 3 1-1 0-1 0 2 1-2 0 1 0-2 1-2 0-1 0-2 1 0 0-1 0-1 1 1 0-1 0-1 1-2 0-1 0 2 1-4 0 2 1 1 0 4 1 0 0 3 1-1 0 2 0 1 1 1 0-1 1 3 0-1 1 0 0-1 0-2 1-2 0-1 1-1 0 2 1-1 0 3 0 2 1 0 0 3 1-1 0-1 1 0 0 1 0-2 1 0 0 1 0 3 1-1 0 5 0-1 1 1 0 1 1-1 0-3 0 1 1 0 0-1 1 0 0-1 0 2 1 1 0-3 1 1 0-2 1 1 0 1 1-3 0 1 1 2 0-1 1 0 0 1 0-3 1 1 0-2 0-2 1 0 0 1 1-1 1-3 0 1 1 2 0-2 0 3 1 1 0 1 1 1 0 1 1-2 0 1 1 0 0-3 1-2 0-1 0-2 1-2 0 1 0 2 1 2 0-1 1 2 0 1 1 0 0-1 1 2 0 1 0-3 1 1 0 2 1 0 0 2 0-1 1 2 0-1 1 0 0 1 0 1 1 0 1 1 0-3 0 1 1 0 0-1 1-2 0-1 0-1 1-3 0-1 1-1 0-2 0-1 1 1 0-1 1 1 0 2 0 3 1 3 0 2 1-1 0 2 1-3 0-1 1-2 0 1 0-2 1-1 0-1 1 0 0-2 1-1 0-1 1-3 0 1 0-2 1 2 0 1 1 2 0 1 1 1 0 1 0 2 1 0 0-1 0 3 1 0 0 1 1 1 0 1 1-2 0 1 1 0 0 1 1 2 0 2 1 0 1-1 0-1 1 0 0-1 0-2 1 0 0-1 1 0 0 1 0 1 1-1 1 1 0-1 1-1 0 2 1 1 0-1 0 2 1 0 0 3 1 0 0-1 1 1 0-2 0-2 1 2 0-1 0-3 1 3 0-1 0-2 1 2 0 1 0 3 1-1 0 2 1 0 0-4 0 2 1-1 0 1 1-2 0 1 1 2 0-3 1 0 0-5 0 2 1-1 0 2 1 0 0 2 0 3 1-2 0 2 1-1 0-2 0 1 1-3 0-1 1-2 0-1 0-1 1 1 0 2 0-1 1 4 0-1 1 1 0-1 0-1 1-3 0 1 0 3 1-1 0 4 1 0 0 1 0 1 1 0 0-2 0-1 1-2 0-1 1 0 0-1 0-1 1-1 0-1 1-2 1 2 0 1 0 2 1-1 1 1 0 1 1-1 0 2 0-1 1 0 0 1 1 0 0-2 0-1 1 2 0-2 0 1 1 2 0-1 0 2 1 0 0 1 1 1 0 1 0 2 1 3 0 2 1-1 0-2 1 0 0-2 0-1 1 0 0-1 1 1 0 2 0-1 1-1 0-1 1-2 0-1 0-1 1 1 0-1 0 2 1-3 0-2 0 3 1 0 0 2 1-1 0 2 1 3 0-1 0-1 1 0 0 1 0-3 1 1 0-3 1-3 0 1 0-2 1 1 0-2 0 3 1 0 0 2 0 3 1-1 0-1 1 3 0-1 1 1 0 1 0 1 1-4 0-2 1-2 0-1 1-1 1 1 0 1 0 1 1-1 0 1 0 2 1-2 0-3 0-1 1 2 0-3 0-2 1 0 0-2 0-3 1 1 0-1 1-2 0 1 0 1 1 0 0 2 0 2 1-2 0 2 1 1 0-1 0-2 1-1 0-1 1-2 0-1 1-1 0-2 1 0 0 1 0 2 1 0 0-1 1 1 0-2 1 1 0 2 1-1 0-1 1 1 0-3 0-1 1 0 0-2 1 0 1 2 0 1 1 0 0-2 1-1 0 1 1-1 0-1 1 0 0-4 0-1 1-2 0 1 0-2 0 3 0-4 0 5 1-2 0-1 0 2 1 0 0 2 0 1 1 0 0 1 1 1 0 2 0 1 1 2 0-1 0-1 1 1 0 3 1 1 0 2 0 1 1 0 0 2 0-1 1 0 0-1 0-1 1-1 0-3 0-2 1-2 0-2 0-1 1-1 0-2 0 1 1 1 0 2 0 3 1-1 0 3 0 1 1 1 0-2 0 1 1 2 0 1 0 1 1 0 0 2 1-3 0 1 0 1 1-2 0-2 1 0 0-1 1-1 0 1 0-2 1 2 0-1 1-1 0-1 1-1 0 2 1-5 0 2 1-3 0 4 1-3 1-1 0-2 0-1 1-1 0-3 1-2 0 3 0-1 1 2 0 1 1-1 0 2 0 1 1 0 0 2 1 0 0-1 1-1 1 0 0 1 1 1 0 2 0 1 1 0 0-1"/>
<path marker-start="url(#mxl)" marker-mid="url(#mxl)" marker-end="url(#mxl)" d="M55 298l0 2 1 0 1 2 1 0 1-1 1 0 1 1 1 1 1 0 1 0 1-1 1 0 1-1 1 1 1 0 1 1 1-1 1-1 1 0 1 1 1 0 1 0 1-1 1 0 1-1 1 0 1 1 1 0 1 0 1 0 0-2 1 1 1-1 1 0 1-1 1 0 1-1 1-2 1-1 1 0 1-1 1 0 1-1 0-2 1 0 1-1 1-2 1-1 1-2 1 1 1-2 1-1 1-2 1-1 0-2 1-1 1 0 1-1 1 0 1-1 1-1 1-1 1 0 1-1 1-1 1 0 1-1 1-1 1 0 1-1 1 0 1-1 1 0 1 0 1 0 1-1 1 0 1 1 1 0 1 0 0-2 1-1 1 0 1-1 1 0 1-1 1-2 1-1 1-1 1-1 1 0 1-1 1-1 1-1 1-1 1 0 0-2 1-2 1-1 1 0 1-2 1 0 1 0 1-1 1 1 1 0 1 0 0 2 1 2 1 1 1 1 1 2 0 1 0 1 1 2 1 1 1 1 0 2 0 1 1 2 1 0 1 1 0 2 1 2 1 1 1 2 0 2 1 2 1 0 1 1 0 1 1 1 1 1 0 2 1 0 1 2 1 1 1 1 1 0 1 1 1 0 1 2 1 0 1 1 1 0 1 0 1-1 1 1 1 1 1-1 1 0 1-1 1 2 1 0 1 1 1 0 1-1 1-1 1 1 1-1 1 1 1 0 1-1 1 0 1 0 1-1 1 2 1 0 1 0 1 1 1-1 1 2 1 0 0 2 1 0 1 2 1 1 1 0 1 0 1 1 1 0 1 2 1 0 1 0 1 0 1 1 1 0 1 1 1 0 1 0 1 1 1-1 1 1 1 0 1-1 1 1 1-1 1-1 1 0 1 0 1 0 1-1 1 1 1 0 1 0 0-2 1-1 1 0 1 0 1-1 1 0 1 0 1 1 1 0 1-2 1 0 1 0 1 0 1-1 1 0 1 0 1 0 0 2 1-1 1 1 1-1 1 0 1 0 1 0 1 0 1 0 1-1 1 2 1-1 1 0 1 1 1 0 1-1 1 0 1 1 1-1 1 1 1 1 1-1 1-1 1 0 0 1 1 0 1-1 1 0 1 0 1 0 1 1 1 1 1 0 1-1 1 0 1 0 1 0 1-1 1 1 1 0 1 0 1 1 1 1 1 0 1-1 1 0 1 0 1 0 1 0 1-1 1 1 1-2 1 0 1-1 1 2 1 0 1-1 1-1 1-1 1 1 1-1 1 1 1-2 1 0 1 2 1 0 1-1 1 0 1 0 1 2 0-2 1 0 1 1 1 1 1 0 1-1 1 0 1 1 1 1 1 1 1 1 1 1 1-1 1 0 1-1 1 1 1 1 1-1 1 0 1-1 1 1 1 0 1-2 1-1 1 1 1-1 0-1 1-1 1 1 1 1 1 1 1 0 1 0 1 1 1 2 1-1 1 2 1-1 1-2 1 1 1 0 1-1 1-1 1 2 1-1 1-1 1 0 1 0 1 0 1 1 1 1 1-2 1-1 1 1 1 0 1 1 0-2 1 2 1-1 1-1 1-1 1-1 1 1 1-1 1 0 1 2 0-2 1 1 1 1 1-1 1 1 1 1 1 0 1 1 1 0 1 2 1-1 1 1 1-1 1 0 1 1 1 0 1 0 1 0 1 0 1 0 1-1 1-1 0 2 1-1 1 0 1-1 1 1 1 1 1 0 1-2 1 1 1 0 1-1 1 1 1 0 1-1 1-1 1 0 1-1 1 1 1-1 1 1 1-2 1-1 0 1 1 1 1 0 1 0 1 1 1 0 1-1 1-1 1 2 1-1 1 0 1 1 1-1 1 0 1 0 1 0 1 2 0 2 1-1 1 0 1 0 1 1 1 0 1-1 1-1 1 2 1 0 1-1 1-1 1 0 1 0 1 0 1 1 1 0 1-2 1 1 1 0 1 1 1 0 1-1 1 1 1-1 1 1 1 0 1 1 1 1 1 0 1-1 1-1 1 2 1 0 0-2 1 1 1 0 1 0 1 0 1 1 1 0 1 0 1-2 1 1 1-1 1 0 1 2 1-1 1-1 1 1 1-1 1 1 1 0 1-1 1-1 1 0 1 1 0-1 1 0 1 1 1-2 1 0 1-1 1 0 1 0 1-1 1-2 0-2 1-1 1-2 1-1 1-2 1-2 0-2 0-2 1-1 0-2 0-1 1-2 0-2 1-1 0-2 1-2 0-3 1-2 0-1 0-2 1-2 0-1 1-2 0-2 1-1 0-2 1-2 0-1 1-2 0-2 0-2 1-2 1-2 0-1 1-2 0-1 1-2 1-1 0-1 1-1 1-2 1-1 1-2 0-1 1-2 1 0 1-1 1-1 1-1 1-1 1-1 1 0 1-2 0-2 1 2 1-2 1-1 1-1 1 1 1 0 0-1 1 0 1 0 1 0 1 2 1 1 1 2 0 2 1 2 0 2 1 1 1 2 0 1 0 1 1 2 1 2 0 1 0 2 1 2 0 1 1 2 0 2 1 1 0 1 0 2 1 1 0 2 1 2 1 2 1 2 0 1 1 2 1 1 1 2 1 2 0 2 1 2 1 2 1 2 0 2 1 2 1 1 1 2 1 0 0 2 1 1 1 1 1 1 1 2 1 1 0 1 0 2 1 0 1 1 1 2 1 1 1 0 1 1 1 1 1 1 1 1 1 0 1 0 1 0 1 1 1 0 1 0 1 0 1 0 1 0 1 0 1 0 1 1 1 0 1 1 1 0 1 2 1-1 1 1 1 0 1 0 1 0 1 1 1 1 1 1 1 0 1 0 1 0 1 0 1 0 1 0 1 2 1 0 1 0 1-1 1 0 1 1 1 0 1 0 1 0 1 0 1 0 1 0 1 0 1-1 1 1 1 0 1-1 1 0 1 0 0-1 1-1 1 1 1-1 1 0 1 0 1-1 1-1 1 0 1 1 1 0 1 1 1 0 1-1 1 2 1 1 1-2 1 0 1 1 1 0 1-1 1 2 0 1 1 0 1 1 1 0 1 1 1-1 1 0 1-1 1-1 1 0 1-1 1-1 1-1 1 0 1 0 1-1 1 0 1-2 1-1 1 0 1 1 1-2 1 0 1 0 1 0 1 0 1 0 1 0 0-2 1 2 1 2 1 0 1-1 1-1 0 2 1 1 1 0 1-1 1 0 1 2 1-1 1 1 1 0 1 0 1 1 1-1 1 1 1 1 1 0 1-1 1 1 1 0 1 1 0-1 1 0 1 0 1 0 1 0 1-2 1 1 1 1 1 0 1 0 1 0 1-1 1 0 1 1 1 0 1 0 1-1 1 2 1 0 1-2 1 0 1 1 1 0 1-1 1 1 1-1 1 1 1-1 1-1 1 1 1 0 1 0 1 0 1 0 1 1 1-1 1 1 1 1 1 0 1-1 1 1 1 0 1 1 1 0 1 0 1-1 1-2 1 0 1 0 1-1 1 1 1-1 1 0 1 0 1-1 1-1 1 0 1 0 1-1 1 0 1 0 1 1 1 0 1-1 1 0 1 1 1 0 1-1 1 0 1 1 1 0 1 0 1 0 1 1 1 0 1 0 1-1 1 0 1 0 1 1 1 1 1 0 0-1 1 0 1 0 1 0 1 0 1 0 1-1 1 2 1 0 1-1 1-1 1 2 1 0 1 0 1-2 1 0 1 1 1 0 1 1 1 0 1-1 1 2 1 0 1 0 1-1 0-1 1 0 1 0 1 1 1 0 1 1 1 0 1-2 1 1 1 0 1 0 1 0 1 0 1-2 1 2 1 1 1-1 1 2 1-2 1 0 1 0 0 2 1-1 1 1 1 1 1-1 1 0 1-1 1 0 1 0 1 0 1-1 1-1 1-1 1 1 1 0 1 0 1 0 1 1 1 0 1-1 1-1 1 1 1 1 1 0 1-1 1-1 1 1 1 1 1-2 1 0 1 2 1 0 1-1 1 0 1-1 1 0 1 1 1-1 1-1 1 0 1 1 1 0 1 0 1 0 0 2 1 0 1-2 1-1 1 1 1 0 1 0 1-1 1 1 1 0 1-1 1 1 1 0 1-1 1 0 1-1 1 1 1-2 1 1 1 1 1-1 1-2 0-2 1-1 1-1 1-1 1-2 1-1 1-2 0-2 1-2 0-1 1-2 1-2 0-1 1-2 0-2 1-1 1-1 0-2 1-1 1-2 0-1 0-2 1-1 0-1 1-2 1-1 0-2 1-1 1-2 1-1 1 0 1-1 1-1 1 0 1 1 1-2 1 0 1 1 1 0 1 0 1 0 1-1 1 1 0 1 1 2 1-1 1 2 1-2 1-1 1 0 1 1 1 0 1 0 1 0 1-1 1 1 1-1 1 1 1-1 1 0 1 1 1-1 1-1 1 0 1-1 1-2 1 1 1 0 1-1 1 0 1-1 1 0 1 0 1 0 1 0 1 2 1 1 0 2 1 1 0 2 1 1 0 2 1 2 0 2 1 1 0 2 0 2 1 2 1 2 0 2 0 1 1 1 0 3 1 1 0 2 1 2 0 2 1 1 0 2 1 0 1 2 1 1 1 1 1 2 1 2 1 1 0 1 1-1 1 1 1 0 1 1 1 0 1 1 1 0 1 0 1 1 1 1 1 1 1 0 1 0 1 2 1-1 1 1 1 1 1 1 1 0 1-1 1 1 0 2 1-2 1 0 1 0 1 0 1 0 1 0 1 0 1 0 1-1 1 0 1 0 1-1 1 1 1 1 1 0 1-1 1 1 1 0 1-2 1 1 1 0 1 2 1-1 1 0 1 0 1 0 1 0 1 0 1 0 1 0 1 0 1-1 1 0 1-1 1 2 1 0 1-1 1 0 1-1 1-1 1 1 1 0 1 0 1 0 1-1 1 1 1 1 1-1 1 0 1 1 1-1 0-1 1 2 1 0 1-1 1 1 1 1 1 0 1 0 1 0 1-1 1 0 1 0 1 0 1 0 1 1 1-1 1 0 1 0 1 0 1 0 1-1 1 1 1 0 1 0 1 0 1 0 1-1 1 1 1-1 1 1 1 0 1-1 1 1 1 1 1 0 1-1 1-1 1 0 1-1 1 1 1 1 1-1 1-1 1 1 1 1 1 0 1 0 1 0 1 0 1 0 1 0 1 1 1 0 1 0 1 0 1 0 1-1 1 0 1 0 1 0 1 2 1-1 0-2 1 0 1 0 1 1 1 0 1-1 1-1 1 1 1 0 1 1 1-1 1-1 1 1 1-1 1 0 1 1 1 0 1-2 1 0 1 0 1-1 1-1 1 1 1-1 1 0 1 1 1-1 0 2 1 2 1 0 1-1 1 2 1 1 1-2 1 0 1 0 1 1 0 1 1 0 1-1 1 0 1 1 1 0 1 0 1 1 1-2 1 1 1 0 1 0 1-1 1-1 1 1 1 0 1 0 1 1 1 0 1 2 0-2 1 0 1 1 1-1 1-1 1 0 1 1 1 0 1-1 1 0 1 1 1-2 1 0 1 0 1-1 1 0 1 0 1 0 1 1 1 0 1 0 1 0 1-1 1 0 1 1 1-1 1-1 1 1 1-1 1 1 1 0 1 0 1 0 1-1 1-2 1 1 1 1 1 1 1-1 1 0 1 1 1 0 1-1 1 0 1 1 1 0 1-1 0-1 1 0 1 0 1 1 1-2 1 0 1 0 1-1 1-2 1 0 1 0 1-2 1-1 0-2 1-1 1-1 1-2 0-1 1-2 1-2 1-1 1-2 1-1 0-2 1 0 1-2 1-1 1-1 1-2 0-1 1-2 1 0 1-1 1 0 1-1 1-2 1-1 1-1 1 0"/>
<path marker-start="url(#myl)" marker-mid="url(#myl)" marker-end="url(#myl)" d="M55 256l0 2 0 3 1 4 0 4 0 4 1 2 0 3 0 2 1 2 0 2 0 2 1 2 0 1 1 2 1 2 0 2 1 2 1 1 1 0 0-1 1 1 1 1 1 1 1-1 1 1 1 1 1-2 1 0 1 0 1 1 1 1 1 1 0-2 1 1 1 0 1-1 1 1 1 2 1-1 1 0 1-2 1 2 1 0 1 0 1 0 1 0 1 0 1 0 0-1 1 0 1-1 1 1 1 0 1 0 1-2 1 0 1-1 1-1 1-1 1-1 1-2 0-1 0-1 1-2 1-2 1-1 1-2 1-1 1-3 0-1 1 0 1-2 1-1 1-1 1 0 0-1 1 0 1 0 1 0 1 0 1-1 1 0 1 1 1 0 1 3 1 1 1 0 1 2 0 2 1 2 0 1 1 2 1 2 1 1 0 2 1 2 1-1 1 2 1 1 1-2 1 1 0-2 1-1 0-2 1-1 0-2 1-2 1-2 0-1 1-1 0-2 1-2 1-1 0-2 1-1 1-1 0-2 1-1 1-1 1-2 1 1 0 1 1-1 1 0 1-2 1 0 1 0 1 0 1-1 1 0 1 1 1-1 1-2 1 0 1-1 1 0 1-1 1-1 1 0 1 0 1-1 1-1 1 1 1-1 1 0 1 1 1 0 1-1 1-1 1 1 1 2 1 1 1-1 1-1 1 2 1 1 1 1 1 1 0 1 1 0 1 2 0 2 1 2 1 0 1 2 0 1 0 2 1 1 0 2 1 2 1 1 0 2 0 2 1-1 1 2 1 2 1 1 1 1 1 1 1 1 1 1 1-1 1-2 1 0 1-1 1-1 1-2 1-1 1 0 1-3 1 0 1-1 0-1 1-2 1-2 1-1 1-1 1 0 1-1 1-1 1-1 1-1 1-1 1-1 1 0 1 0 1 0 1-1 1 0 1-1 1 0 1 0 0 2 1-1 1 0 1-1 1 1 1 0 1-1 1 1 1 0 1 1 1-1 1-1 1 1 1 0 1 0 1 0 1 1 1 0 1 1 1 1 1 2 1 0 1 1 1 1 1 1 1 1 0 2 1 2 1 1 1 2 1 1 0 2 1 1 1 2 0 1 1 0 1 2 1 2 1-1 1 1 1 1 1 0 0-1 1-2 1 0 1-1 1-1 1-1 1-1 1 1 1 0 1-2 1 0 1 0 1 0 1-1 1 0 0 1 1 0 1 0 1 1 1 2 1 0 1 1 1-1 1-1 1 2 1-1 1 1 1 1 1 1 1-1 1 1 1 1 1 1 1 0 1-1 1 2 1 1 1 0 0-2 1 0 1 1 1 0 1 0 1-1 1 1 1 0 1 0 1 0 1-2 1 1 1 0 1-1 1 1 1 1 1 1 1-1 1 0 1 1 1 1 1-1 1 0 1 1 1-1 1 0 1 1 1 0 1 0 1-1 1 2 1-1 1-1 1 1 1-1 1 0 1 1 1 0 1 1 0-1 1-1 1 0 1 0 1 1 1 0 1 1 1 0 1-1 1-1 1 0 1-1 1 1 1 0 1-1 1 2 1-1 1-1 1 1 1 0 1 1 1-2 1 1 1 0 1-1 1 0 1 0 1 0 1 1 1-1 1 0 1 0 1-1 1 0 1 0 1 0 1-1 1 1 1 0 1 0 1 0 1 1 1 1 1 0 0 2 1 1 1 1 1 1 1 2 1 2 0 2 1 2 0 1 1 2 0 2 0 1 1 2 1 2 0 2 0 1 1 2 1 1 1 1 1 1 1 1 1 0 1 0 1 1 1-2 1-1 1-1 0-2 1-1 1-3 0-1 1-2 1-2 0-3 1-1 0-2 1-2 0-1 1-1 0-3 1-1 1-1 0-2 1 0 1-2 1-1 0-2 1 0 1-1 1-1 1-1 1-1 1-1 1-1 1-1 1-1 1 0 1 0 1-2 1 1 1-1 1-1 1-1 1 0 1 0 1 0 0-1 1 0 1 0 1 1 1 0 1 1 1-1 1 0 1 1 1 1 1 0 1 2 0 1 1 0 1 2 1 1 1 1 1 0 1 1 1 1 1 1 1 1 1 1 1 1 1-1 1 1 1 1 1 0 1 0 1 0 1 2 1 0 1-2 1 1 1 1 1 0 1 0 1 0 1 1 1-1 1 1 1-1 1 2 1 1 1 0 1 0 1 0 1 1 0 1 1-1 1 2 1 0 1 2 1-1 1 2 1 1 1 1 1 1 1 1 1 2 0 1 1 1 0 2 1 2 0 1 1 1 0 2 0 2 1 1 0 2 0 1 1 2 0 2 0 1 1 1 0 2 0 1 1 2 0 1 1 2 0 3 1 2 0 1 0 2 1 1 0 2 1 3 0 1 1 2 1 2 1 2 1 1 1 1 1-1 1 1 0-1 1-2 1-1 1-1 0-3 1-1 0-2 0-1 1-2 0-1 0-2 1-1 0-2 1-3 1-2 0-1 1-2 0-2 1-2 1-2 0-2 1-2 1-1 0-2 1-1 0-2 1-1 1-1 1 1 1-2 1-1 0-3 1-1 1-1 1 0 1-2 1-1 1-2 1 0 0-2 1-1 1-1 1-2 1-1 0-2 1 1 1-3 1-2 0-1 1-2 1-1 1-2 1 0 0-2 1-1 0-2 1 0 1 0 1-1 0-1 1-2 1-1 1 1 1-1 1 0 1-1 1-1 1-1 1 0 1 1 1-2 1 0 1-1 1-2 1 0 1 0 0-1 1-2 1 1 0 1 1-1 1-2 1 1 1 0 1 0 1 0 1 0 1-1 1 0 1 0 1-1 1 1 1 0 1 1 1-2 1-1 1 0 1 0 1 0 1 0 1 0 1 1 1-2 1 2 1 0 1 0 1 0 1 0 1 0 1-1 1 0 1 0 1-1 1 0 1 1 1-1 1 0 1 0 1 0 1 1 1-1 1 1 1 0 1 2 1 1 1 1 0 2 1 1 1 2 0 2 1 2 1 1 0 2 0 2 1 1 1 3 0 1 1 1 1 1 1 2 0 1 1 1 1 0 1 0 1 1 1 0 1 1 1 0 1-1 1 1 1 0 1 0 1-1 1-1 1 0 1-1 1 1 1-1 1 1 1-1 1 0 1-2 1-1 1-1 1 1 1-2 0-1 1-2 1-1 1-1 0-2 1 1 1 0 1-2 1-2 1-1 1 0 1 0 1 0 1 0 1 0 1-1 1 0 1 1 1 1 1 0 1 0 1-1 1-1 0 2 1 1 1 0 1-1 1-1 1 2 1 0 1 0 1 1 1-2 1 1 1 0 1 0 1 1 1-1 1-1 0 2 1 1 1 0 1 0 1 0 1 0 1 0 1 1 1 1 1 0 1 1 1-1 1 1 1 1 1 1 1 0 1 2 1 1 1 1 1 0 1 1 1 1 1 0 1 1 1-1 1 0 0 2 0 1 1 1 1 0 1 0 1 0 1-1 1 1 1 0 1-1 1 1 1 0 1 0 1 0 1 0 1-1 1-1 1 2 1 0 1 0 1 0 1-1 1 0 1 0 1-1 1 0 1 0 1-1 1 0 1 0 0-1 1-1 1 0 1-2 1 0 1-1 1 0 1 0 1-2 1 0 1 0 1 0 1-1 1 0 1 1 0-2 1 0 1 0 1 0 1 0 1 2 1 1 1 1 1 1 1 1 1 1 1 1 1-1 1 0 1 1 1 1 1-2 1 2 1 0 1 0 1 1 1 0 1 0 1-1 1 0 1 0 1 0 1 1 1 0 1 1 1 0 1-2 1 0 1 0 1 1 1 0 1 0 1 1 1 0 1 0 1-1 1 1 1 0 1 1 1 0 1-1 1-1 1 1 1 1 0 1 1 0 1-1 1 0 1 1 1-1 1 0 1 0 1 0 1 1 1 1 1 0 1-1 1 1 1 0 1 0 1 2 1 0 1 0 1 0 1 0 1 2 1 0 1 0 1 0 1 0 1 0 1 1 1 0 1 1 1-1 1 1 1 0 1-1 1 1 1 0 1 1 1 1 1-1 1 0 1-1 1 1 1-1 1 0 1 0 1 1 1 0 1 0 1 0 1 0 0 2 1 2 1 0 1 0 1 0 1-1 1 2 1 0 1 0 1 2 0 1 1 0 1-1 1 0 1 1 0 2 1 1 1-1 1 2 0 2 1 1 1-1 1 2 1 1 1 0 1 0 1 1 0 1 1 1 1 0 1-1 1 1 1-1 1 1 1-1 1-2 1 0 1 0 1 0 1 0 1 1 1-2 1-2 1 0 0-2 1 0 1 0 1-1 1-2 1 0 1 0 1-1 1-1 1 0 1-1 1-2 1-1 1 1 1 0 1-2 1-1 1-1 1 0 1-1 1-2 1 0 1-1 1 1 1-1 0-1 1 1 1 0 1-1 1-1 1 1 1-1 1-1 1-1 1 0 1-1 1 1 1 0 1 0 1-1 1 1 1-1 1-1 1 0 1 0 1 0 1 0 1-1 1 2 1-2 1 0 1 0 0-1 1 1 1-1 1 0 1-2 1 0 1 1 1-1 1-1 1-1 1 1 1-1 1-1 1-1 1 0 1 0 1 1 1-2 0-1 1 1 1 0 1-2 1 0 1-1 1 0 1-1 1 0 0-1 1-1 1-1 1 0 1-1 1 0 1-2 1-1 1-1 1-2 1 0 1-2 1-1 1 0 1-2 1-1 1 0 1-2 0-2 1 0 1 0 1-1 1 1 1-2 1 1 1 2 1 0 1 1 1 2 1 2 0 2 1 2 1 2 0 2 1 1 0 2 1 2 1 2 0 1 1 2 0 1 0 2 1 1 1 2 1 1 1 0 1 1 1-1 1-2 0-2 1-2 0-1 1-2 0-2 1-2 0-2 0-2 1-2 0-1 0-2 1-2 0-2 1-1 0-4 1-2 0-3 0-1 1-2 0-1 0-1 1-3 0-2 1-2 0-1 1-2 0-3 1 0 1-2 0-1 1-1 1-1 1 0 1 0 1 1 1 1 1 1 1 2 0 2 1 2 0 1 0 2 1 1 0 2 1 2 1 2 0 1 0 2 1 1 0 2 0 2 1 2 0 1 0 2 1 2 0 1 0 2 1 2 0 1 1 2 0 1 0 1 1 2 0 2 0 1 1 2 1 1 1 2 0 2 1 1 1 2 1 0 1 1 1-1 1 1 1 1 1-1 1-1 1 0 1 0 1 1 1-1 1 0 1 0 1-1 0 1 1 1 1-1 1 1 1 0 1 0 1 0 1 1 1-1 1-1 1 1 1 0 1 1 1-1 1 0 1-1 1 2 1 0 1 0 1-1 1 1 1 0 1 0 1-2 1 1 0 2 1 0 1-1 1 0 1-1 1 1 1-1 1 1 1 2 1-1 1-2 1 1 1-1 1-1 1 0 1 1 1 0 1 1 1-1 1 2 1-2 1 0 1-1 1 0 1 1 1-1 1 0 1 1 1 0 1 1 1-1 1 1 1 0 1-1 1-1 1 1 0 2 1 0 1-1 1-1 1 1 1 2 1 0 1 1 1 0 1 1 1-1 0 1 1 1 1 0 1-1 1 1 1 0 1 0 1-1 1-1 1 0 1-1 1 1 1 1 1 0 1-1 1 0 1-1 1 0 1-1 1 0 1-1 1 0 1 0 1 1 1 0 1 0 1 1 1 1 1 0 1-2 1 1 0 2 1 1 1 1 1-1 1 2 1-1 1 0 1 1 1-1 1 2 1 0 1 0 1 0 1 1 1 0 1 0 1-1 1 1 1 1 1-1 1 0 1-1 1 2 1 1 1 0 1-1 1 0 0 2 1 0 1 1 1-1 1 1 1 0 1 1 1 0 1 1 1 0 1 1 1 1 0 2 1 0 1 0 1 2 1 0 1 0 0 2 1 1 1 1 1 2 1 1 1 0 1 1 1 2 1 2 1 1 1-1 1 1 1 0 1 3 1-1 1 1 0 2 1 0 1 2 1 0 1 1 1 0 1 0 1 2 1-1 1 0 1 0 1-1 1 1 1-1 0-2 1 0 1-2 1-1 1-1 1-2 0-1 1-1 0-2 1-1 1-2 1-1 1-1 1-2 1-1 1-1 1-2 0-2 1 0 1-1 0-2 1 0 1 0 1-2 1-1 1-1 1 0 1-1 1 0 1-1 1 1 1-2 1 0 1 0"/>
<path marker-start="url(#mzl)" marker-mid="url(#mzl)" marker-end="url(#mzl)" d="M55 326l0-2 0-3 1-3 0-2 0-2 1-2 0-2 0-2 1-2 0-3 0-1 1-2 1 0 1-2 1 1 1-1 1 1 1 0 1 0 1 0 0-2 1 2 1 1 1 0 1-1 1 0 1 1 1 1 1 1 1-2 1-1 1 1 1 0 1 1 1 2 1-2 1-1 1 0 1 1 1 0 0-1 1 0 1 1 1 0 1-1 1 0 1 0 1 0 1 0 1 1 1 0 1-1 1 0 1-1 1-1 1-1 1 1 1-2 1 0 1 0 1 0 1 0 1 0 1 1 0 1 1 0 1 1 1-1 1 1 1 1 1 0 1-1 1 0 1 1 1 0 1-2 1 1 1 2 1-1 1 0 1 1 1-1 1 0 1 2 1-1 0-2 1 1 1-1 1 1 1 1 1-2 1-1 1 0 1-1 1 2 0 1 1-1 1 1 1-1 1 1 1-1 1 0 1 1 1-2 1 0 0 1 1 1 1 0 1 1 1 1 1-1 1-1 1 0 1 0 1 1 1 2 1 1 1-1 1-1 1 1 1 0 1-1 1-1 1-1 1 0 1 1 1 1 0-1 1 0 1-1 1 1 1-1 1 0 1-1 1 1 1 1 1-1 1 1 1 0 1-1 1 0 1 1 1-1 1 0 1-1 1 1 1 1 1-1 1 0 1 1 1-2 1-1 1 0 1 1 1-1 0-1 1 1 1-1 1 1 1 1 1-1 1 0 1-1 1 2 1 1 1 0 1 0 1 1 1 1 1-1 1 1 1-1 1 1 1 1 1-1 1 0 1 1 1 0 1-1 1 0 1 0 0 1 1 0 1-1 1-2 1-1 1 0 1-1 1 0 1 0 0 2 1 0 1 1 1-1 1 0 1-1 1 0 1 0 1-2 1 1 1 0 1 0 1 1 1-2 1 0 1-2 1 1 1 2 1 0 1-1 1-1 0-1 1 1 1 2 1-1 1 0 1 1 1 0 0 2 1 0 1 0 1 1 1 0 1 0 1-1 1 1 1 0 1-1 1 1 1 0 1-1 1 0 1 1 1-2 1 1 1 1 1 2 1 0 1-1 1-1 1 0 1-1 1 1 1 1 1 0 1-1 1 0 1-1 1-1 1 1 1 0 1 1 1-1 1 1 0 1 1-1 1-1 1 0 1-1 1 2 1-2 1 2 1-1 1 1 1 1 1-1 1-1 1 0 1-1 1 0 1 1 0 2 1-2 1-1 1 1 1 1 1 0 1-2 1 0 1 2 1 0 1 0 1 1 0-1 1-2 1 1 1 1 1-2 1 1 1 0 1 0 1 0 1 0 1 0 1 1 1 0 0-1 1 1 1 0 1 0 1-1 1 0 1 1 1-1 1 1 1 0 1 1 1-1 1 0 1-1 1-1 1 1 1 0 1 1 1 0 1 1 1-1 1 0 1 0 1 1 0 1 1 1 1 0 1 0 1-1 0 2 1 0 1 1 1-1 1 1 1-1 1 1 1 0 1 1 0-1 1-1 1 0 1-1 1-1 1 1 1-1 1-2 1 1 1-1 1 1 1 0 1-2 1 1 1-1 1 0 1 0 1-1 1 1 1-1 1 0 1 2 1-1 1-1 0 2 1-1 1-1 1 1 1-1 1 0 1 1 1-1 1 0 1 0 1 1 1-2 1 1 1 0 1 2 1-1 1-1 1 0 1 1 1 0 1 1 1-1 1 0 0 1 1-1 1-1 1 2 1 0 1 0 1-1 1 1 1-1 1-1 0 2 1 1 1-1 1 0 0-2 1 1 1 0 1 0 1 1 1-2 1 0 1 2 1 1 1 1 1-2 1-1 0-2 1 1 1 1 1 1 1 1 1-1 1 0 1 0 1 0 1 0 1 0 1-2 1 1 1 1 1-1 1-1 1 0 1-1 1 2 1-1 1-1 1 1 0 1 1 0 1-1 1 0 1-1 1 2 1-1 1 1 1-2 1 0 1 1 1-1 1 2 1-1 1 1 1-1 1 0 1 1 1-2 1 1 1 0 1 0 1 1 1-1 1 0 0 2 1-2 1 0 1 1 1 2 1-1 1 0 1-1 1 2 1 1 1 0 1 0 1-1 1 0 0 2 1-1 1 2 1 0 1-2 1 0 1 1 1-1 1 0 1-1 1 1 1 1 1-1 1 0 1 0 1-2 1 0 1 0 1 1 1-3 1 1 0-2 1 1 1-1 1 0 1 0 1 1 1-1 1 1 1 0 1 2 1 0 1 0 1 0 1 0 1 1 1 0 1-1 1 1 1 0 1 0 0-1 1 1 1 0 1-1 1 0 1 0 1 1 1 0 1 0 1-1 1 0 1 0 1 1 1 0 1-1 1 0 1 1 1 0 1-1 1 2 1-3 1 1 1 1 1-1 1 1 1 1 1-1 0-1 1 1 1 0 1-2 1 1 1 0 1-1 1 1 1-1 1 0 1 1 1 1 1 0 1-2 1 1 1 1 1 1 1-2 0-1 1 0 1 1 1 1 1-1 1-1 1 0 1 0 1-1 1 0 1 2 1 0 1 0 1-1 1 0 1-2 1 0 1 0 1 0 1-2 1 3 1 0 1-1 1-1 0 2 1-1 1-1 1 0 1 1 1 1 1 1 1 0 1-1 1 2 1-1 1 0 1 1 1 1 1 1 1-1 1-1 1 1 1-1 1 0 1 1 1-1 1 0 1-1 1 1 1 1 1-2 1-1 1 0 1 2 1-2 1-1 1 2 0 1 1 0 1-1 1 1 1-1 1 0 1-1 1 2 1-1 1 1 1 0 1 0 1-2 1 1 1 1 1 0 1 0 1 0 1 0 1 0 1-1 1-2 1 1 1 0 1-2 1 0 0 2 1-1 1 0 1-1 1-1 1 1 1 2 1-1 0 1 1 1 1-1 1 1 1 1 1 0 1-1 1 0 1 0 1 0 1 0 1 1 1-1 1-1 1 0 1-1 1 1 1-1 1 2 1-1 1-1 1 0 0 2 1-1 1 0 1 0 1 0 1 0 1 1 1 2 1 1 1-1 1 0 1 1 1-1 1 1 1 1 1 0 1 1 1 0 1 1 1-1 1 0 0 1 1-1 1-1 1 0 1-1 1-2 1 1 1 0 0-2 1 1 1-1 1 0 1 1 1-1 1 0 1-1 1 0 1 0 1 0 1 0 1-1 1 1 1 0 1 0 1 1 1-1 1 1 1 0 0-1 1 0 1 0 1 1 1-2 1 2 1 0 1 1 1-1 1 0 1 1 1-2 1 0 1 0 1 2 1 0 1 0 1 0 0-2 1 0 1-2 1 2 1 1 1-2 1-1 1 0 1 0 1-1 1 0 1 1 1 0 1-1 1-2 1 1 1 2 1 1 1 0 1 0 1-1 1 1 1 0 1-1 1 1 1 1 1 0 1-1 1 0 0 1 1-1 1-1 1 2 1 1 1-1 1 0 0 2 1 0 1-1 1 1 1 0 1 0 1-1 1-2 1 1 1 1 1-1 1 0 1 1 1-1 1 1 1-1 1-1 1 0 1 0 1 1 1 1 1-1 1 0 1 0 1-1 1 0 1 2 1-1 1 0 0 2 1 1 1-2 1-1 1 0 1 0 1 2 1-1 1 1 1 0 1 0 1 1 1 0 1-1 1-2 1 2 1 1 1-3 1 1 1 0 1 1 1 0 1-1 0-2 1 1 1 1 1 1 1 0 1-1 1 0 1 1 1-1 1 1 1 0 1 0 1-2 1-1 1 1 0 1 1 0 1 1 1-1 1 0 1-1 1 1 1 0 1 0 1-1 1 0 1 1 1 0 1 1 1 0 1-2 1 1 1 1 1-2 1 1 1 0 1 0 1-2 1 1 1 0 1 2 1-2 0-1 1 0 1 1 1 0 0-2 1 0 1 0 1 0 1 1 1-2 1 0 1 1 1 1 1 0 1-2 1 1 0-1 1 2 1 1 1 0 1 0 1 1 1-2 1 1 1 0 0 1 1 0 1 1 1-2 1 0 1 1 1 0 1-1 1-1 1 1 1 0 1 1 1 0 1 0 1 0 1-1 1 1 1 0 1 0 1-1 1 0 1 1 1 1 1-1 1 0 1 0 1 1 1 0 1-1 0 2 1 0 1 0 1 0 1 1 1 0 1 1 1 2 1 1 1 2 1-1 1 1 0 2 1 0 1 0 1 1 1-1 1 1 1-1 1-1 1 0 1 1 1 0 1 0 1-1 1-1 1-1 1-1 1-2 1 1 1-2 1 0 1 0 1-1 1 0 1 0 1-1 1 0 1-1 1 1 1-1 1 0 1 0 1 0 1 1 0-1 1-1 1 0 1 2 1 0 1 0 1-2 1 0 1-1 1-1 1 0 1 1 1 0 1 1 1 0 1-2 1 0 1 0 1 0 1 0 1 1 1 0 1 1 1 0 1 1 1 0 0 2 1 1 1-1 1 1 1 1 1 1 1 1 1 1 1-1 1-2 1-1 0-2 1-1 1 0 1 1 1-1 1 0 1 0 1-2 1 1 1 1 1 1 1 0 1-2 0-1 1 0 1-1 1 1 1 1 1 1 1 0 1-1 1 0 1 0 1 0 1 0 1 1 1 0 1-1 1 1 1 0 1 0 1 0 1 0 1-1 1 0 1 0 1 1 1 0 1 1 1-2 1 0 1-1 1 1 1 1 1 0 1 0 1-1 1 0 1-1 1 0 1 0 1-1 1 2 1 0 1 0 0 1 1 0 1 0 1-1 1 1 1 1 1-1 1 1 1-2 1-2 1 0 1 0 1 1 0 2 1 0 1 0 1-1 1 0 1 2 1 0 1-1 1 0 1 0 1 0 1 1 1 1 0-3 1 1 1-1 1 1 1 1 1 0 1 0 1 1 1 0 1-2 1-2 1 1 1 1 1 0 1 2 0-2 1 0 1 1 1 0 1 1 1-2 1 0 1 1 1-1 1 0 1-1 1 2 1-1 1-1 1 0 1 0 1-1 1 1 1 0 1 0 1-1 0 2 1-1 1 1 1 0 1-1 1 1 1 0 1-1 1 1 1 0 1-1 1 1 1 1 1 1 1-1 1-2 0 2 1-2 1 0 1 0 1 1 1 0 1 0 1 0 1 0 1-1 1-1 1 0 1 1 1 0 1 0 1-1 1 2 1 0 0-1 1-1 1 1 1 0 1 0 1 0 1 0 1 0 1 0 1 0 1 1 1-1 1 0 1-1 1 1 1 1 0 1 1-1 1 0 1 0 1 1 1 0 1-1 1 1 1-2 1 0 1 2 1 0 1-1 1 0 1 1 1-1 1 0 1-1 1 0 1 1 1 0 1 0 1 0 1 1 0-2 1 1 1 1 1 0 1-1 0-1 1 0 1 2 1-2 1 1 1 0 1 0 1 0 1 1 1-1 1-1 1 0 1 0 1 0 1 0 1-2 1 1 1 2 1 0 1 0 1 1 1 0 1-1 1 0 1-1 1 0 1 1 1 0 1 1 1 0 1-1 1 0 0 2 1-1 1-2 1 0 1 1 1 1 1-1 1 0 1-1 1 0 1 0 1 0 1 2 1-1 1 1 1-2 1 0 1 0 1 2 0-2 1 0 1 1 1-1 1-1 1 1 1 2 1-1 1 2 1 0 1-1 1-1 1-1 1 1 1 1 1 0 0-1 1 1 1 0 1 0 1 0 1 0 1 1 1-1 1 0 1 0 1-1 1 2"/>
<path marker-start="url(#mml)" marker-mid="url(#mml)" marker-end="url(#mml)" d="M55 248l1 2 0 1 0 2 1 1 0 2 0 1 1 2 1 1 0 2 0 2 1 2 1 1 0 2 1 2 0 1 1 2 1 1 1 0 1 2 0 1 1 1 1-1 1 1 1 2 1-1 1 1 1 1 1 2 1-1 1 2 1 0 1 1 1 0 1-1 1 0 0 1 1 0 1-1 1-1 1 2 1 0 1-2 1-1 1-1 1-1 1-1 1 0 1 1 1-2 1-1 0-1 1-2 1 1 1-2 1-2 1-1 0-1 1 1 1-2 1-2 1-1 1 0 1-2 1 0 1-2 1 0 1 0 1-1 1-1 1 0 1-1 0-2 1-2 1 1 1 0 1-2 1 0 1 0 1 2 1-1 1-1 0 2 1 0 1 1 1 0 1 1 1 1 1 1 1-2 1-1 1 1 1-2 1-1 1-1 1-1 0-2 1-1 1 0 1-2 0-2 0-1 1 1 1-1 1-2 0-2 1-2 1 0 0-2 1-2 1 1 1 1 1-2 1-2 1 0 1-1 1-2 0-1 1-1 1 1 1 2 1 0 1 1 1 0 1 2 1 1 1 2 1 1 0 2 1 2 1 1 1 0 1 1 0 2 1-1 1-1 1 2 1 2 1 0 1-1 1 0 0 1 1 0 1 1 1 1 1 0 1-2 1-1 1 0 1 2 1-1 1 1 1-1 1-1 0-2 1 1 1 1 1 0 1 0 1 0 1 1 0 2 1 1 0 2 1 1 1 1 1 1 0 2 1 2 0 1 1 2 1 1 1 2 0 2 1 1 1 2 1 0 1 2 1 1 1 2 1-2 0-1 1-1 1-1 1-1 1-2 1-1 1-1 1-3 0-2 0-2 1-1 1-1 1-2 0-2 1-2 0-1 1-1 1-1 1-2 1-1 1 1 1-1 1 0 1-1 1 1 1 1 0 1 1 1 1 0 1 2 1 1 1 1 1 2 1 0 0 1 1 1 1-1 1 1 1 1 1 2 1 2 1-3 1 1 1-2 1-2 0-2 1-2 0-1 0-1 1-2 0-1 0-2 1-2 0-1 1-2 0-2 1-2 0-1 0-2 1-1 1-2 1 0 1-1 1 0 1 2 0 2 1 1 0 2 0 2 1 2 0 2 1 2 0 2 0 2 1 2 0 2 1 3 0 2 1 2 0 2 0 2 1 2 1 2 0 2 1 3 0 1 1 1 0 2 1 0 1-2 1 0 1 2 1 1 1 0 0-1 1 1 1 0 1-1 1 2 1-1 1 0 0-1 1-2 1 0 1 0 1 0 1 0 1 0 1 0 1-1 1-1 1 0 1 1 1-1 1 1 1-1 1 1 1 0 1-1 0 1 1 2 1 1 1-1 1-2 1 2 1 1 1-1 1 1 1 1 1-1 1-2 1 1 1 1 1-1 1 1 0 1 1-1 1-1 1 1 1 0 1-1 0 1 1 2 1 0 1-2 1 0 1-1 1 1 1-1 1-1 0-2 1 0 1 2 1 0 1-1 0-2 1 1 1 0 1 2 1-2 1-1 1 0 1 0 1-1 1 0 1 0 1-2 1-1 1 1 1 2 1 0 0 1 1 2 0 1 1-1 1 2 1-1 1 0 1 0 1-1 1 0 1-2 1 0 1 0 0-1 1-1 0-2 1 0 1-1 1-1 1-2 1-1 1-2 0-1 0-2 1-1 0-2 0-2 1-1 0-2 0-2 1-2 0-1 1-1 1-2 1-2 1-1 0-1 0-1 1 0 1 1 1 0 1 0 1 2 1 2 0 2 1 2 0 3 0 2 1 2 0 1 0 2 1 2 0 1 0 1 1 2 1 2 0 1 0 1 1 1 0 2 1 2 1 0 1 1 0 1 0 2 1-1 1 2 1 0 1-1 1 1 1-1 1 0 1 0 1 0 1-2 0-2 1 0 1 1 1-3 1-1 1-1 1-1 1-1 1-2 0-1 1 0 1-2 1 2 1 1 1 1 1 0 1 0 0 2 1 2 0 1 1 2 1 2 1 1 1 1 1 1 1 1 1-1 1-1 0 1 1-1 1-1 1 0 1 1 1-1 0-2 1-1 1 0 1 2 1-1 1-1 1 0 1 0 1 0 1 0 1 0 1-1 1 0 1 0 1 0 1 0 1-1 1 0 1 1 1 2 1-1 1 0 1 2 1 1 1 0 1-1 1 1 1 2 1 1 1 0 1 0 1 1 0-2 1 0 1 2 1-2 1-2 1-1 0-1 1-2 0-2 0-2 1 0 1-2 1-2 1-1 0-2 1-2 1-1 1-1 1 0 1-1 1-2 1 3 0 1 1 2 0 1 1 1 1 3 0 1 0 2 1 2 0 2 1 2 0 1 1 1 1 1 1 0 1 1 1 1 1 0 1 0 1 1 1-1 1 1 1 0 1-1 1 0 1 1 1 0 1-1 1-1 1-1 1 0 1-1 1-2 1-1 0-2 1-1 1 0 1-2 0-2 1-2 0-2 1-1 0-2 0-1 1-2 0-2 1-3 0-2 1-1 0-2 1-2 1-2 0-1 1-2 1-2 0-2 1-1 1 0 1 0 1-1 1 1 1 0 1 2 0 1 1 2 0 1 1 1 0 2 1 1 1 0 1 3 1 0 1-1 1 1 0 2 1 1 1 1 1-2 1-2 0-2 1-1 1 0 1-3 0-1 1-2 0-1 1-1 1-1 1 0 0-2 1-2 1 0 0-3 1-2 0-1 1-1 1 1 1 0 1-3 1-1 0-2 1-2 1 0 1-2 1-2 1 0 1-1 0-1 1-1 1-2 1 0 1 0 1 1 1-2 1-2 1 1 1 2 0 1 1 1 1 0 1 1 1 2 0 3 1 2 0 1 1 1 1 1 0 2 1 2 1 2 0 1 1 2 1 2 0 2 1 0 1 1 1 3 0 1 1 2 1 0 1 2 0 2 1 1 1 2 1 0 1 1 0 2 0 2 1 2 1 0 1 0 1 2 1 1 1 1 1 0 1 1 1 0 1 2 1-1 1 0 1 2 1 0 0 1 1 1 0 2 1 1 0-1 1 1 1 0 1-1 1 0 1 0 1-1 1 2 1-2 1-1 1 0 1-1 1-1 1 2 1 0 1-1 0-2 0-1 1 1 1-1 1 1 1 0 1-1 1 0 1-1 1 1 0 1 1 2 1 0 1 0 1 2 1 1 1 1 1 1 1 2 0 2 1 1 1 1 1 1 1-1 1 1 0 2 1 1 0-1 1 0 1 1 1 1 1 0 1-1 0-2 1 2 1-1 1-1 1 0 1 0 1-1 1 0 1 0 1-1 1-1 1 1 0-1 1-1 1 1 1-1 1 0 1-2 1-1 1-1 1-1 1-1 1-1 1-2 0-2 1 0 1-2 1-1 1-2 0-2 1 0 1 2 1 0 1 2 1 0 1 3 0 1 1 2 1 0 1 1 0 2 1 1 1 2 1 1 1 1 1 0 1 0 1-1 1 2 1 1 0-2 1 0 1-2 1-1 1 1 1 0 1-2 1-1 1 0 1 0 1 0 0-1 1 0 1 0 1 0 1 1 1 0 1-2 1 0 1 1 1 1 1 0 1 0 1 1 1-2 0 2 1 1 1 0 1 0 1 1 1 0 1-1 1 1 1 1 1-2 1 1 1 1 0 2 1 0 1 1 1 0 1 0 1-1 1 2 1 1 1 1 1 2 1 1 1 1 1 1 1 0 1 0 1-2 1 1 1-2 1 1 1 1 0 2 1 0 1-3 1-1 1 1 1 0 0 1 1-1 1 0 1-2 0-2 0-2 1-1 1-2 1-1 0-1 0-2 1-2 1-2 0-2 0-1 1-2 1-2 1-2 1-1 1-1 1-1 1 1 1 0 1-2 1-2 1-1 1 0 1-1 1 1 1-2 1 1 1 0 1-2 1 1 1 1 1 0 1 1 1-1 1 0 0 1 1 2 1 2 0 1 1 2 0 2 0 3 1 3 0 2 0 1 1 2 1 2 0 1 0 2 1 1 1 1 1 0 1 1 0 2 1 1 0 2 1 0 1-1 1 1 1 1 1-1 1 0 1 0 1-1 1 0 1 0 1-1 1 0 1-1 1 1 1-1 1-1 1-1 1-1 1-1 1-1 1 1 1-1 1 1 1-1 1 1 1 0 1-1 1 0 1 0 0 3 1 2 1-3 1 0 1 0 1 0 0 1 1 1 1-1 1 1 1 1 1 0 1 1 1-2 1 0 1 2 1 0 1 0 1 1 1 0 1 0 1 0 1 1 0-2 1-1 1 1 1 1 1 0 1 1 1 1 1 0 0-1 1 0 1 1 1 0 1 2 1-2 1 0 1-1 1 1 1 1 1-1 1 0 1-1 1 0 1-1 1 0 1 1 1-1 1 2 1 0 1-2 1 0 1 0 1-2 1 1 1 1 1-1 1-1 1-1 1-1 1 1 1 0 0-1 1-2 0-2 1-1 1-2 0-1 1-2 0-2 1-2 1-1 1-2 1-1 0-2 0-2 1-2 0-1 1-2 0-2 1-1 0-2 1-1 1-2 0-2 1 1 1 1 1 0 1 0 1 2 0 2 1 2 0 1 1 2 0 2 0 2 1 2 0 2 0 2 1 2 0 1 0 2 1 1 0 2 1 2 1 2 1 1 1 2 1 2 1 1 1-1 1-1 1 0 1-2 1 2 1 0 1 0 0-2 1-1 1-2 0-1 1-1 0-2 1 2 1 0 1-2 0-2 0-1 1-1 1-2 1-2 1-1 1-2 0-2 1-2 1-3 0-1 1-2 0-1 1-2 1-1 0-2 1-1 1-1 0-1 1-2 0-1 1-2 1-1 1-2 0-2 1 1 1-1 1-2 1-1 1 1 1 1 1 2 0 1 1 1 1 1 1 2 0 1 0 2 1 1 1 1 1 2 0 1 1 2 0 2 1 2 1-1 1 1 1 2 1 0 1 0 1-1 1-1 1 1 1 1 1 1 1-1 1-1 1 1 1 0 0-2 1 1 1-2 1-1 1-2 1 0 1-1 0-1 1-2 1 0 1 0 1 1 1-1 1 1 0 2 1 0 1 2 1 1 1 1 1 1 0 3 1 2 0 2 1 1 1 0 0 1 1 2 0 1 0 1 1 2 1 1 1 0 0-2 1 1 1 1 1-1 1-1 1 0 1-1 1-1 1-2 1 0 1 1 0 2 1 1 1 2 1 1 1 2 0 2 1 1 0 2 0 2 1 1 1 2 1 1 0 2 1 1 1 2 1 1 0 2 1 1 1 0 1-2 1-1 0-1 1-2 1-2 1-2 0-2 1-2 1-2 1-2 0-2 0-3 1-1 1-1 0-1 0-2 1-2 0-1 0-2 1-1 1-1 0-2 1-1 0-2 0-1 1-2 0-1 1-2 1 0 1-1 1 0 1-1 1 0 1-1 1 1 1 1 0 2 1 2 1 2 1 1 0 2 0 2 1 2 0 1 0 1 1 2 0 1 1 2 0 2 1 1 0 2 0 2 1 2 0 1 0 2 1 1 0 2 0 1 1 2 0 1 0 1 1 1 1 2 1 2 1 1 1 1 1-1 1-1 1-1 1 0 1-1 0-2 1 1 1-1 1 0 1-1 1 0 1 0 1-1 1 2 1-2 1 0 1 0 1 0 1 1 1 0 1 0 1 0 1 0 1 0 1 2 1 0 1 0 1 1 1 0 1-1 1 0 1 2 0 1 1-1 1 2 1-1 0-2 1-1 1 1 1-1 1 2 1-2 1 1 1-1 1 1 1-1 1-1 1 2 1-1 1 0 1 1 1 1 1 1 1-2 1-1 0 1 1 0 1 0 1 1 1 1 1-1 0-1 1-1 1 1 1 0 1-2 1 1 1 0 1 0 1-1 1 0 1-1 1-1 1 2 1-1 1 0 1-1 1-2 1 1 1 0 1-2 1 2 1 0 0-1 1 1 1 2 1 1 1-1 1 2 1 0 1 0 1 0 1 0 1 2 1 0 1 0 1 0 1 0 1 2 1 1 1-2 1 0 1 1 1-1 0 2 1-1 1 1 1 0 1-1 1 1 1-1 1-1 1 2 1-2 1 1 1 0 1-1 0-1 1 2 1-1 1-1 1-1 1 0 1 0 1-2 1 1 1 1 1 0 1 2 1 0 1-1 1 1 1-1 1 0 1 1 1-1 1 1 1 0 1 1 1 0 1 0 1 0 1-1 1 1 1 1 1-2 1 1 1 1 0-2 1 0 1 1 1-2 1 1 1-1 1 0 1 1 1 0 1-1 1-2 1-2 1 1 1 0 0-1 1-1 1-2 0-1 1 0 1-1 1-2 1 1 1-2 1 0 1-2 1 0 1-1 1-1 1 0 1 0 1-1 0-2 1 0 1 0 1-1 1 0 1 1 1-1 1 0 1-1 1 0 1 0 1-2 0-2 1 2 1 1 1-1 1 1 1 1 1 1 1 1 1 1 1 1 1 0 0 1 1 2 1 0 0-1 1-2 1 2 1 0 1-1 1-1 1-2 1 1 1-1 1 2 1-1 0-1 1-2 1 1 1 0 1 0 1-2 1 0 1 0 1 0 1-2 1 0 1-1 1 0"/>
</g>
<g style="will-change:transform">
<text class="lg" x="258.5" y="20">X(長期)</text>
<text class="lg" x="328.5" y="20">Y(長期)</text>
<text class="lg" x="398.5" y="20">Z(長期)</text>
<text class="lg" x="469.9" y="20" style="letter-spacing:.12px">3軸合成(長期)</text>
<text class="lg" x="558.5" y="20">X(中期)</text>
<text class="lg" x="628.5" y="20">Y(中期)</text>
<text class="lg" x="698.5" y="20">Z(中期)</text>
<text class="lg" x="769.9" y="20" style="letter-spacing:.12px">3軸合成(中期)</text>
<text class="lg" x="858.5" y="20">X(短期)</text>
<text class="lg" x="928.5" y="20">Y(短期)</text>
<text class="lg" x="998.5" y="20">Z(短期)</text>
<text class="lg" x="1069.9" y="20" style="letter-spacing:.12px">3軸合成(短期)</text>
<text class="yt" x="38.2" y="529" style="letter-spacing:-.5px">-9</text><text class="yt" x="38.2" y="504" style="letter-spacing:-.5px">-8</text><text class="yt" x="38.2" y="479" style="letter-spacing:-.5px">-7</text><text class="yt" x="38.2" y="454" style="letter-spacing:-.5px">-6</text><text class="yt" x="38.2" y="429" style="letter-spacing:-.5px">-5</text><text class="yt" x="38.2" y="404" style="letter-spacing:-.5px">-4</text><text class="yt" x="38.2" y="379" style="letter-spacing:-.5px">-3</text><text class="yt" x="38.2" y="354" style="letter-spacing:-.5px">-2</text><text class="yt" x="38.2" y="329" style="letter-spacing:-.5px">-1</text><text class="yt" x="38.3" y="304">0</text><text class="yt" x="40" y="279">+1</text><text class="yt" x="40" y="254">+2</text><text class="yt" x="40" y="229">+3</text><text class="yt" x="40" y="204">+4</text><text class="yt" x="40" y="179">+5</text><text class="yt" x="40" y="154">+6</text><text class="yt" x="40" y="129">+7</text><text class="yt" x="40" y="104">+8</text><text class="yt" x="40" y="79">+9</text>
<text class="ax" transform="translate(15.3,298) rotate(-90)">加速度値</text>
<text class="ax" x="677.5" y="586">経過秒[sec]</text>
<text class="bt" x="20" y="600">基準値(x):<tspan class="nm">-1.02</tspan></text><text class="bt" x="120" y="600">基準値(y):<tspan class="nm">0.221</tspan></text><text class="bt" x="220" y="600">基準値(z):<tspan class="nm">10.187</tspan></text>
</g>
</svg>
</body></html>
